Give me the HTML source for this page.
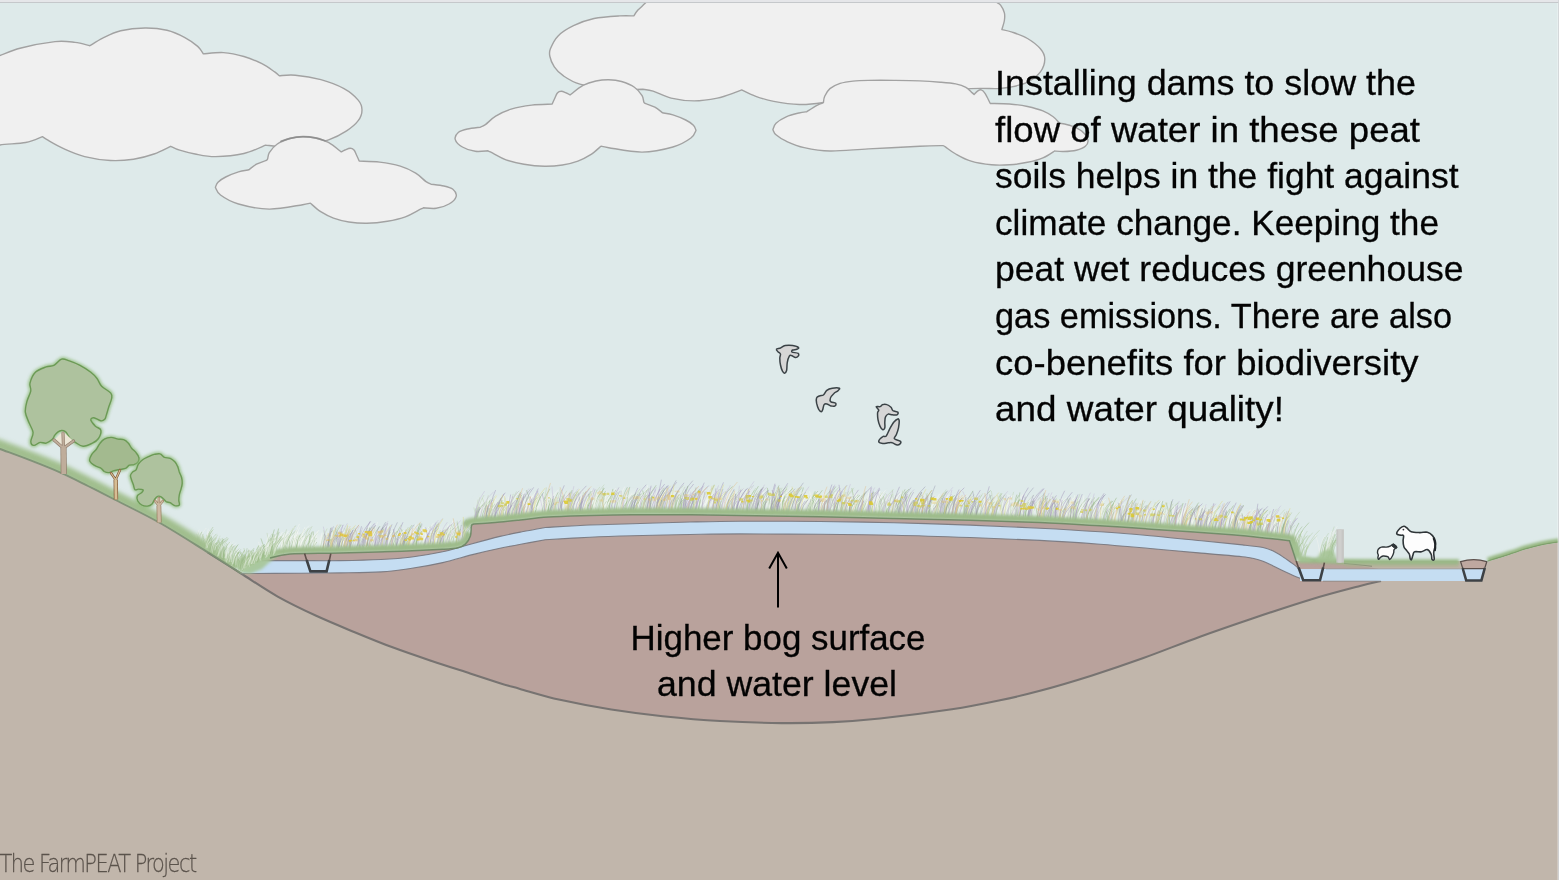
<!DOCTYPE html>
<html lang="en"><head><meta charset="utf-8"><title>The FarmPEAT Project</title>
<style>html,body{margin:0;padding:0;background:#deeaea;overflow:hidden}body{width:1559px;height:880px}</style></head>
<body>
<svg width="1559" height="880" viewBox="0 0 1559 880" style="display:block">
<rect x="0" y="0" width="1559" height="880" fill="#deeaea"/>
<path d="M-8.0 150.0C-8.0 135.0 -8.5 75.5 -8.0 60.0C-7.5 44.5 -5.5 57.5 -5.0 57.0C-0.8 56.4 10.0 51.0 20.0 48.3C30.0 45.6 45.8 42.6 55.0 41.6C64.2 40.6 69.2 41.7 75.0 42.4C80.8 43.1 87.4 45.2 89.9 45.7C92.0 44.5 97.6 40.7 102.7 38.2C107.8 35.7 113.7 32.5 120.7 30.8C127.8 29.1 137.3 28.1 145.0 28.0C152.7 27.9 160.3 28.7 167.0 30.3C173.7 31.9 179.8 34.9 184.9 37.6C190.0 40.3 194.6 43.7 197.7 46.4C200.8 49.1 202.4 52.6 203.3 53.9C206.7 53.7 216.6 52.2 223.4 52.6C230.2 53.0 237.5 54.6 243.9 56.5C250.3 58.4 256.8 61.1 261.9 63.7C267.0 66.3 271.8 69.9 274.7 71.9C277.6 73.9 278.5 75.1 279.3 75.7C282.0 75.6 288.4 74.6 295.3 75.2C302.2 75.8 312.8 77.4 320.9 79.6C329.0 81.8 337.8 85.2 344.0 88.6C350.2 92.0 355.2 96.5 358.2 100.1C361.2 103.6 362.0 106.5 362.0 109.9C362.0 113.3 360.8 117.2 358.2 120.7C355.6 124.2 351.5 127.7 346.6 130.9C341.7 134.1 335.9 137.3 328.6 139.9C321.3 142.5 310.7 145.3 303.0 146.5C295.3 147.7 288.6 147.2 282.4 147.0C276.2 146.8 268.5 145.4 265.7 145.1C262.1 146.5 252.2 151.6 243.9 153.5C235.6 155.4 223.8 156.5 215.7 156.6C207.6 156.7 201.1 155.1 195.1 154.0C189.1 152.9 183.8 151.5 179.7 150.2C175.6 148.9 172.2 147.0 170.7 146.3C167.9 147.6 160.2 151.8 154.0 154.0C147.8 156.2 140.8 158.1 133.5 159.2C126.2 160.3 118.5 160.9 110.4 160.5C102.3 160.1 92.4 158.5 84.7 156.6C77.0 154.7 70.2 151.6 64.2 148.9C58.2 146.2 52.4 142.8 48.8 140.7C45.2 138.6 43.5 137.3 42.4 136.6C39.6 137.6 32.8 141.1 25.7 142.5C18.6 143.9 5.6 143.8 0.0 145.0C-5.6 146.2 -6.7 149.2 -8.0 150.0Z" fill="#f0f0f0" stroke="#a2a2a2" stroke-width="1.4" stroke-linejoin="round"/>
<path d="M633.8 15.9C631.4 15.9 626.3 15.5 619.7 15.9C613.1 16.3 601.7 16.9 594.0 18.5C586.3 20.1 579.5 22.8 573.5 25.7C567.5 28.6 562.0 32.0 558.1 35.9C554.2 39.8 551.8 45.4 550.4 48.8C549.0 52.2 549.2 53.5 549.9 56.5C550.5 59.5 552.1 63.6 554.3 66.8C556.5 70.0 558.9 72.8 563.2 75.7C567.5 78.6 572.1 81.9 579.9 84.2C587.7 86.5 599.5 88.7 610.0 89.5C620.5 90.3 637.3 89.3 642.8 89.3C644.5 89.6 648.4 89.6 653.1 91.1C657.8 92.6 664.2 96.5 671.1 98.1C678.0 99.7 686.5 100.9 694.2 100.9C701.9 100.9 710.4 99.5 717.3 98.1C724.1 96.7 731.2 93.8 735.3 92.4C739.4 91.0 740.6 90.3 741.7 89.9C744.1 91.0 750.4 94.4 755.8 96.3C761.1 98.2 766.5 100.0 773.8 101.4C781.1 102.8 791.3 104.3 799.4 104.5C807.5 104.7 813.8 104.0 822.2 102.7C830.6 101.5 842.0 99.1 850.0 97.0C858.0 94.9 866.7 91.2 870.0 90.0C878.3 90.5 903.2 93.2 920.0 93.0C936.8 92.8 958.2 89.3 971.0 88.6C983.8 87.9 990.3 88.8 996.7 88.6C1003.1 88.4 1004.5 88.4 1009.6 87.3C1014.7 86.2 1022.4 84.8 1027.5 82.2C1032.6 79.6 1037.5 75.8 1040.4 71.9C1043.3 68.1 1044.8 63.0 1044.8 59.1C1044.8 55.2 1043.3 52.2 1040.4 48.8C1037.5 45.4 1032.2 41.3 1027.5 38.5C1022.8 35.7 1016.4 33.6 1012.1 32.1C1007.8 30.6 1003.6 29.9 1001.9 29.5C1002.3 28.0 1004.0 23.3 1004.4 20.5C1004.8 17.7 1005.0 15.4 1004.4 12.8C1003.8 10.2 1001.9 6.9 1000.6 5.1C999.3 3.3 998.5 3.6 996.7 2.1C994.9 0.6 991.1 -3.0 990.0 -4.0C958.3 -5.0 856.3 -10.0 800.0 -10.0C743.7 -10.0 676.7 -5.0 652.0 -4.0C650.9 -2.8 647.8 0.7 645.4 3.1C643.0 5.5 639.6 8.2 637.7 10.3C635.8 12.4 634.4 15.0 633.8 15.9Z" fill="#f0f0f0" stroke="#a2a2a2" stroke-width="1.4" stroke-linejoin="round"/>
<path d="M215.4 187.3C216.2 188.6 216.7 192.2 220.5 195.0C224.3 197.8 230.4 201.7 238.5 204.0C246.6 206.3 258.6 209.0 269.3 209.1C280.0 209.2 295.9 205.7 302.7 204.7C309.5 203.7 309.1 203.4 310.4 203.2C312.1 204.6 316.8 209.2 320.7 211.7C324.6 214.2 328.8 216.4 333.5 218.1C338.2 219.8 343.3 221.2 348.9 222.0C354.5 222.8 360.5 223.3 366.9 223.2C373.3 223.1 381.0 222.3 387.4 221.2C393.8 220.1 400.3 218.6 405.4 216.8C410.5 215.0 415.2 211.9 418.2 210.4C421.2 208.9 422.5 208.2 423.4 207.8C425.5 207.9 431.9 208.9 436.2 208.3C440.5 207.7 445.7 206.0 449.0 204.0C452.3 202.0 455.6 198.8 456.2 196.3C456.8 193.9 454.9 191.0 452.9 189.3C450.8 187.6 447.5 186.8 443.9 186.0C440.3 185.2 433.2 184.5 431.1 184.2C430.2 183.8 428.6 183.4 426.0 181.6C423.4 179.8 420.0 175.8 415.7 173.2C411.4 170.6 406.3 168.0 400.3 166.2C394.3 164.3 386.6 162.9 379.7 162.1C372.8 161.2 362.6 161.3 359.2 161.1C358.8 160.1 357.5 157.0 356.6 155.2C355.7 153.3 355.1 151.2 354.0 150.0C352.9 148.8 351.7 148.3 350.2 148.3C348.7 148.3 346.5 149.4 345.0 150.0C343.5 150.6 341.8 151.6 341.2 151.9C339.1 150.3 332.7 144.7 328.4 142.4C324.1 140.1 319.8 138.9 315.5 138.0C311.2 137.1 307.0 136.6 302.7 136.7C298.4 136.8 294.2 137.2 289.9 138.5C285.6 139.8 280.4 141.8 277.0 144.2C273.6 146.5 270.9 150.0 269.3 152.6C267.7 155.2 268.2 158.2 267.3 159.6C266.4 161.0 264.7 160.8 264.2 161.1C262.9 161.6 259.1 162.8 256.5 164.2C253.9 165.6 250.1 168.9 248.8 169.8C247.1 170.2 242.3 170.7 238.5 171.9C234.7 173.1 229.1 175.3 225.7 177.0C222.3 178.7 219.7 180.5 218.0 182.2C216.3 183.9 215.8 186.5 215.4 187.3Z" fill="#f0f0f0" stroke="#a2a2a2" stroke-width="1.4" stroke-linejoin="round"/>
<path d="M281.0 141.2C282.5 140.7 286.4 139.1 290.0 138.3C293.6 137.5 298.4 136.7 302.7 136.6C306.9 136.5 311.8 137.2 315.5 137.9C319.2 138.6 323.4 140.3 325.0 140.8" fill="none" stroke="#8a8a8a" stroke-width="1.7" stroke-linecap="round" opacity="0.8"/>
<path d="M215.4 187.3C216.2 188.6 216.7 192.2 220.5 195.0C224.3 197.8 230.4 201.7 238.5 204.0C246.6 206.3 258.6 209.0 269.3 209.1C280.0 209.2 295.9 205.7 302.7 204.7C309.5 203.7 309.1 203.4 310.4 203.2C312.1 204.6 316.8 209.2 320.7 211.7C324.6 214.2 328.8 216.4 333.5 218.1C338.2 219.8 343.3 221.2 348.9 222.0C354.5 222.8 360.5 223.3 366.9 223.2C373.3 223.1 381.0 222.3 387.4 221.2C393.8 220.1 400.3 218.6 405.4 216.8C410.5 215.0 415.2 211.9 418.2 210.4C421.2 208.9 422.5 208.2 423.4 207.8C425.5 207.9 431.9 208.9 436.2 208.3C440.5 207.7 445.7 206.0 449.0 204.0C452.3 202.0 455.6 198.8 456.2 196.3C456.8 193.9 454.9 191.0 452.9 189.3C450.8 187.6 447.5 186.8 443.9 186.0C440.3 185.2 433.2 184.5 431.1 184.2C430.2 183.8 428.6 183.4 426.0 181.6C423.4 179.8 420.0 175.8 415.7 173.2C411.4 170.6 406.3 168.0 400.3 166.2C394.3 164.3 386.6 162.9 379.7 162.1C372.8 161.2 362.6 161.3 359.2 161.1C358.8 160.1 357.5 157.0 356.6 155.2C355.7 153.3 355.1 151.2 354.0 150.0C352.9 148.8 351.7 148.3 350.2 148.3C348.7 148.3 346.5 149.4 345.0 150.0C343.5 150.6 341.8 151.6 341.2 151.9C339.1 150.3 332.7 144.7 328.4 142.4C324.1 140.1 319.8 138.9 315.5 138.0C311.2 137.1 307.0 136.6 302.7 136.7C298.4 136.8 294.2 137.2 289.9 138.5C285.6 139.8 280.4 141.8 277.0 144.2C273.6 146.5 270.9 150.0 269.3 152.6C267.7 155.2 268.2 158.2 267.3 159.6C266.4 161.0 264.7 160.8 264.2 161.1C262.9 161.6 259.1 162.8 256.5 164.2C253.9 165.6 250.1 168.9 248.8 169.8C247.1 170.2 242.3 170.7 238.5 171.9C234.7 173.1 229.1 175.3 225.7 177.0C222.3 178.7 219.7 180.5 218.0 182.2C216.3 183.9 215.8 186.5 215.4 187.3Z" fill="#f0f0f0" stroke="#a2a2a2" stroke-width="1.4" stroke-linejoin="round" transform="translate(911.4 -57) scale(-1 1)"/>
<path d="M772.9 129.7C773.4 128.6 773.8 125.3 776.0 123.2C778.2 121.1 782.4 118.5 786.2 116.8C790.0 115.1 795.6 113.8 799.0 113.0C802.4 112.2 805.5 111.9 806.8 111.7C808.5 110.6 814.2 106.8 817.0 105.3C819.8 103.8 822.3 103.1 823.4 102.7C823.6 101.6 823.6 98.7 824.7 96.3C825.8 93.9 827.3 90.8 829.9 88.6C832.5 86.4 836.2 84.7 840.1 83.4C844.0 82.2 848.3 81.6 853.0 81.1C857.7 80.6 861.6 80.5 868.4 80.4C875.2 80.3 885.5 80.3 894.0 80.4C902.5 80.5 912.0 80.6 919.7 80.9C927.4 81.2 934.3 81.7 940.3 82.2C946.3 82.7 951.4 83.1 955.7 83.9C960.0 84.8 963.1 85.8 965.9 87.3C968.7 88.8 970.9 91.7 972.3 92.9C973.7 94.1 973.8 94.2 974.1 94.5C974.7 93.9 976.3 91.9 977.5 91.1C978.7 90.3 980.0 89.5 981.3 89.9C982.6 90.3 983.7 91.4 985.2 93.7C986.7 96.0 989.4 101.9 990.3 103.5C993.5 103.6 1003.4 103.5 1009.6 104.0C1015.8 104.5 1022.0 105.3 1027.5 106.5C1033.0 107.7 1038.6 109.2 1042.9 110.9C1047.2 112.6 1050.4 114.8 1053.2 116.8C1056.0 118.8 1058.5 122.1 1059.6 123.2C1061.5 123.6 1067.5 124.5 1071.2 125.8C1074.9 127.1 1078.7 128.6 1081.5 130.9C1084.3 133.2 1087.3 137.3 1087.9 139.9C1088.5 142.5 1087.2 144.6 1085.3 146.3C1083.4 148.0 1079.9 149.3 1076.3 150.2C1072.7 151.1 1067.1 151.4 1063.5 151.5C1059.9 151.6 1056.0 151.1 1054.5 151.0C1052.6 152.2 1047.4 156.0 1042.9 157.9C1038.4 159.8 1033.0 161.2 1027.5 162.3C1022.0 163.5 1015.6 164.4 1009.6 164.8C1003.6 165.2 998.0 165.4 991.6 164.8C985.2 164.2 977.1 163.0 971.1 161.2C965.1 159.4 960.0 156.4 955.7 154.0C951.4 151.6 947.5 148.3 945.4 146.9C943.2 145.5 943.2 145.8 942.8 145.6C938.9 145.7 932.1 145.8 919.7 146.3C907.3 146.9 883.4 148.1 868.4 148.9C853.4 149.7 840.6 151.2 829.9 151.0C819.2 150.8 811.5 149.2 804.2 147.6C796.9 146.0 790.9 143.3 786.2 141.2C781.5 139.1 778.2 136.7 776.0 134.8C773.8 132.9 773.4 130.5 772.9 129.7Z" fill="#f0f0f0" stroke="#a2a2a2" stroke-width="1.4" stroke-linejoin="round"/>
<path d="M-20.0 441.5C-16.7 442.8 -8.3 445.9 0.0 449.0C8.3 452.1 19.7 456.2 30.0 460.2C40.3 464.2 51.9 468.8 61.6 473.1C71.3 477.4 79.0 481.5 88.0 486.0C97.0 490.5 103.5 493.8 115.5 500.0C127.5 506.2 144.6 514.3 160.0 523.0C175.4 531.7 194.3 544.0 207.8 552.4C221.3 560.8 235.6 570.0 241.2 573.5C243.5 572.2 250.2 568.6 255.0 566.0C259.8 563.4 264.2 560.0 270.0 558.0C275.8 556.0 278.3 554.9 290.0 554.0C301.7 553.1 321.4 553.4 340.0 552.9C358.6 552.4 384.5 551.9 401.6 551.3C418.7 550.7 433.3 549.9 442.7 549.3C452.1 548.7 454.2 548.6 458.0 547.7C461.8 546.8 463.2 546.1 465.3 544.1C467.4 542.1 469.4 539.0 470.4 535.9C471.4 532.8 470.9 527.7 471.4 525.7C471.9 523.7 473.1 524.4 473.5 524.1C477.9 523.8 492.2 522.8 500.0 522.1C507.8 521.4 512.0 520.9 520.0 520.0C528.0 519.1 536.3 517.8 548.0 517.0C559.7 516.2 576.0 515.9 590.0 515.5C604.0 515.1 615.3 514.8 632.0 514.7C648.7 514.6 672.0 514.7 690.0 514.8C708.0 514.9 718.3 515.2 740.0 515.5C761.7 515.8 794.3 516.3 820.0 516.8C845.7 517.3 869.0 517.9 894.0 518.5C919.0 519.1 945.7 519.6 970.0 520.3C994.3 521.0 1018.3 521.7 1040.0 522.6C1061.7 523.5 1080.8 524.7 1100.0 525.8C1119.2 526.9 1133.0 527.9 1155.0 529.4C1177.0 530.9 1212.8 533.3 1232.0 534.8C1251.2 536.3 1260.4 537.6 1270.0 538.6C1279.6 539.6 1286.2 540.4 1289.5 540.8L1296.2 561L1326 561L1345 561L1400 561L1461 561L1487.6 561.8C1489.6 561.2 1496.0 559.3 1499.7 558.1C1503.4 556.9 1507.2 555.7 1510.0 554.8C1512.8 553.9 1514.2 553.5 1516.7 552.6C1519.2 551.7 1521.4 550.7 1525.3 549.6C1529.2 548.5 1534.4 547.0 1540.0 545.8C1545.6 544.6 1552.3 543.5 1559.0 542.6C1565.7 541.7 1576.5 540.9 1580.0 540.5L1580 900L-20 900Z" fill="#c1b6ab"/>
<path d="M241.2 573.5C247.3 577.4 265.2 589.6 277.7 596.6C290.2 603.6 303.4 609.9 316.2 615.8C329.0 621.7 341.9 626.9 354.7 632.2C367.5 637.5 380.4 642.8 393.2 647.6C406.0 652.4 418.9 656.7 431.7 661.0C444.5 665.3 458.7 669.8 470.1 673.5C481.5 677.2 491.7 680.6 500.0 683.2C508.3 685.8 510.0 686.1 520.0 688.9C530.0 691.7 544.8 696.4 560.0 699.8C575.2 703.2 594.2 706.8 611.3 709.5C628.4 712.2 644.6 714.3 662.7 716.2C680.8 718.1 700.2 719.9 720.0 721.0C739.8 722.1 762.8 722.9 781.6 723.1C800.4 723.3 816.6 722.9 833.0 722.1C849.4 721.3 860.2 720.6 880.0 718.5C899.8 716.4 931.9 712.3 951.9 709.3C971.9 706.3 985.3 703.4 1000.0 700.3C1014.7 697.2 1024.8 694.9 1040.0 690.8C1055.2 686.7 1074.2 681.1 1091.3 675.7C1108.4 670.3 1124.6 664.8 1142.7 658.3C1160.8 651.8 1181.7 643.3 1200.0 636.7C1218.3 630.1 1234.1 624.7 1252.4 618.5C1270.8 612.3 1292.2 605.1 1310.1 599.7C1328.0 594.3 1348.2 589.1 1360.0 586.0C1371.8 582.9 1377.5 581.8 1381.0 581.0L1379 569L1344 563L1296.2 561L1289.5 540.8C1286.2 540.4 1279.6 539.6 1270.0 538.6C1260.4 537.6 1251.2 536.3 1232.0 534.8C1212.8 533.3 1177.0 530.9 1155.0 529.4C1133.0 527.9 1119.2 526.9 1100.0 525.8C1080.8 524.7 1061.7 523.5 1040.0 522.6C1018.3 521.7 994.3 521.0 970.0 520.3C945.7 519.6 919.0 519.1 894.0 518.5C869.0 517.9 845.7 517.3 820.0 516.8C794.3 516.3 761.7 515.8 740.0 515.5C718.3 515.2 708.0 514.9 690.0 514.8C672.0 514.7 648.7 514.6 632.0 514.7C615.3 514.8 604.0 515.1 590.0 515.5C576.0 515.9 559.7 516.2 548.0 517.0C536.3 517.8 528.0 519.1 520.0 520.0C512.0 520.9 507.8 521.4 500.0 522.1C492.2 522.8 477.9 523.8 473.5 524.1C473.1 524.4 471.9 523.7 471.4 525.7C470.9 527.7 471.4 532.8 470.4 535.9C469.4 539.0 467.4 542.1 465.3 544.1C463.2 546.1 461.8 546.8 458.0 547.7C454.2 548.6 452.1 548.7 442.7 549.3C433.3 549.9 418.7 550.7 401.6 551.3C384.5 551.9 358.6 552.4 340.0 552.9C321.4 553.4 301.7 553.1 290.0 554.0C278.3 554.9 275.8 556.0 270.0 558.0C264.2 560.0 259.8 563.4 255.0 566.0C250.2 568.6 243.5 572.2 241.2 573.5Z" fill="#b9a29c"/>
<path d="M207.8 552.4C213.4 555.9 229.5 566.1 241.2 573.5C252.8 580.9 265.2 589.6 277.7 596.6C290.2 603.6 303.4 609.9 316.2 615.8C329.0 621.7 341.9 626.9 354.7 632.2C367.5 637.5 380.4 642.8 393.2 647.6C406.0 652.4 418.9 656.7 431.7 661.0C444.5 665.3 458.7 669.8 470.1 673.5C481.5 677.2 491.7 680.6 500.0 683.2C508.3 685.8 510.0 686.1 520.0 688.9C530.0 691.7 544.8 696.4 560.0 699.8C575.2 703.2 594.2 706.8 611.3 709.5C628.4 712.2 644.6 714.3 662.7 716.2C680.8 718.1 700.2 719.9 720.0 721.0C739.8 722.1 762.8 722.9 781.6 723.1C800.4 723.3 816.6 722.9 833.0 722.1C849.4 721.3 860.2 720.6 880.0 718.5C899.8 716.4 931.9 712.3 951.9 709.3C971.9 706.3 985.3 703.4 1000.0 700.3C1014.7 697.2 1024.8 694.9 1040.0 690.8C1055.2 686.7 1074.2 681.1 1091.3 675.7C1108.4 670.3 1124.6 664.8 1142.7 658.3C1160.8 651.8 1181.7 643.3 1200.0 636.7C1218.3 630.1 1234.1 624.7 1252.4 618.5C1270.8 612.3 1292.2 605.1 1310.1 599.7C1328.0 594.3 1348.2 589.1 1360.0 586.0C1371.8 582.9 1377.5 581.8 1381.0 581.0" fill="none" stroke="#777371" stroke-width="2.1"/>
<path d="M262.0 560.6C268.3 560.6 287.0 560.6 300.0 560.6C313.0 560.6 326.5 560.8 340.0 560.6C353.5 560.4 369.0 560.1 381.0 559.5C393.0 558.9 401.6 558.3 411.9 557.0C422.2 555.7 434.1 553.6 442.7 551.8C451.2 550.0 456.4 548.1 463.2 546.2C470.0 544.3 477.6 542.2 483.7 540.6C489.8 539.0 493.6 537.9 500.0 536.4C506.4 534.9 514.5 533.3 522.0 531.8C529.5 530.3 541.3 528.2 545.2 527.5C552.7 527.1 575.5 525.6 590.0 525.0C604.5 524.4 615.7 524.3 632.4 523.8C649.1 523.3 672.1 522.4 690.0 522.0C707.9 521.6 718.3 521.3 740.0 521.2C761.7 521.1 794.3 521.2 820.0 521.5C845.7 521.8 869.0 522.2 894.0 522.8C919.0 523.4 945.7 524.2 970.0 525.1C994.3 526.0 1018.3 527.1 1040.0 528.2C1061.7 529.3 1081.7 530.5 1100.0 531.8C1118.3 533.0 1133.1 534.2 1150.0 535.7C1166.9 537.2 1185.9 539.3 1201.3 540.8C1216.7 542.3 1232.1 543.8 1242.4 544.9C1252.7 546.0 1257.9 546.5 1263.0 547.5C1268.1 548.5 1269.8 549.5 1273.2 551.1C1276.6 552.7 1280.1 555.0 1283.5 557.2C1286.9 559.4 1291.0 562.4 1293.7 564.4C1296.4 566.4 1298.5 568.6 1299.5 569.5L1301.5 578.8C1300.2 578.3 1296.7 577.0 1293.7 575.7C1290.7 574.4 1286.9 572.7 1283.5 571.1C1280.1 569.5 1276.6 567.6 1273.2 566.0C1269.8 564.4 1266.4 562.6 1263.0 561.3C1259.6 560.0 1256.1 559.1 1252.7 558.3C1249.3 557.5 1251.0 557.6 1242.4 556.7C1233.8 555.8 1216.7 554.5 1201.3 553.1C1185.9 551.7 1166.9 550.0 1150.0 548.5C1133.1 547.0 1118.3 545.6 1100.0 544.2C1081.7 542.9 1061.7 541.5 1040.0 540.4C1018.3 539.3 994.3 538.4 970.0 537.5C945.7 536.6 919.0 535.7 894.0 535.2C869.0 534.7 845.7 534.5 820.0 534.3C794.3 534.1 761.7 533.9 740.0 533.9C718.3 533.9 707.9 534.2 690.0 534.5C672.1 534.8 649.1 535.3 632.4 535.8C615.7 536.2 604.5 536.5 590.0 537.2C575.5 537.9 552.7 539.4 545.2 539.8C541.3 540.5 529.5 542.6 522.0 544.0C514.5 545.4 508.1 546.6 500.0 548.3C491.9 550.0 483.1 552.0 473.5 554.4C463.9 556.8 453.0 560.3 442.7 562.6C432.4 564.9 422.2 566.8 411.9 568.3C401.6 569.8 393.0 571.1 381.0 571.9C369.0 572.7 353.5 572.7 340.0 572.9C326.5 573.1 316.5 573.1 300.0 573.2C283.5 573.3 251.0 573.5 241.2 573.5Z" fill="#c5ddf2"/>
<path d="M262.0 560.6C268.3 560.6 287.0 560.6 300.0 560.6C313.0 560.6 326.5 560.8 340.0 560.6C353.5 560.4 369.0 560.1 381.0 559.5C393.0 558.9 401.6 558.3 411.9 557.0C422.2 555.7 434.1 553.6 442.7 551.8C451.2 550.0 456.4 548.1 463.2 546.2C470.0 544.3 477.6 542.2 483.7 540.6C489.8 539.0 493.6 537.9 500.0 536.4C506.4 534.9 514.5 533.3 522.0 531.8C529.5 530.3 541.3 528.2 545.2 527.5C552.7 527.1 575.5 525.6 590.0 525.0C604.5 524.4 615.7 524.3 632.4 523.8C649.1 523.3 672.1 522.4 690.0 522.0C707.9 521.6 718.3 521.3 740.0 521.2C761.7 521.1 794.3 521.2 820.0 521.5C845.7 521.8 869.0 522.2 894.0 522.8C919.0 523.4 945.7 524.2 970.0 525.1C994.3 526.0 1018.3 527.1 1040.0 528.2C1061.7 529.3 1081.7 530.5 1100.0 531.8C1118.3 533.0 1133.1 534.2 1150.0 535.7C1166.9 537.2 1185.9 539.3 1201.3 540.8C1216.7 542.3 1232.1 543.8 1242.4 544.9C1252.7 546.0 1257.9 546.5 1263.0 547.5C1268.1 548.5 1269.8 549.5 1273.2 551.1C1276.6 552.7 1280.1 555.0 1283.5 557.2C1286.9 559.4 1291.0 562.4 1293.7 564.4C1296.4 566.4 1298.5 568.6 1299.5 569.5" fill="none" stroke="#77757c" stroke-width="1.1" opacity="0.9"/>
<path d="M241.2 573.5C251.0 573.5 283.5 573.3 300.0 573.2C316.5 573.1 326.5 573.1 340.0 572.9C353.5 572.7 369.0 572.7 381.0 571.9C393.0 571.1 401.6 569.8 411.9 568.3C422.2 566.8 432.4 564.9 442.7 562.6C453.0 560.3 463.9 556.8 473.5 554.4C483.1 552.0 491.9 550.0 500.0 548.3C508.1 546.6 514.5 545.4 522.0 544.0C529.5 542.6 541.3 540.5 545.2 539.8C552.7 539.4 575.5 537.9 590.0 537.2C604.5 536.5 615.7 536.2 632.4 535.8C649.1 535.3 672.1 534.8 690.0 534.5C707.9 534.2 718.3 533.9 740.0 533.9C761.7 533.9 794.3 534.1 820.0 534.3C845.7 534.5 869.0 534.7 894.0 535.2C919.0 535.7 945.7 536.6 970.0 537.5C994.3 538.4 1018.3 539.3 1040.0 540.4C1061.7 541.5 1081.7 542.9 1100.0 544.2C1118.3 545.6 1133.1 547.0 1150.0 548.5C1166.9 550.0 1185.9 551.7 1201.3 553.1C1216.7 554.5 1233.8 555.8 1242.4 556.7C1251.0 557.6 1249.3 557.5 1252.7 558.3C1256.1 559.1 1259.6 560.0 1263.0 561.3C1266.4 562.6 1269.8 564.4 1273.2 566.0C1276.6 567.6 1280.1 569.5 1283.5 571.1C1286.9 572.7 1290.7 574.4 1293.7 575.7C1296.7 577.0 1300.2 578.3 1301.5 578.8" fill="none" stroke="#77757c" stroke-width="1.1" opacity="0.9"/>
<path d="M1300 569L1484.5 569L1481.4 581L1300 581Z" fill="#c5ddf2"/>
<path d="M1344 563.3L1372 566.2" stroke="#6f6a66" stroke-width="1" fill="none"/>
<path d="M1323 581.2L1381 581.2" stroke="#8c8783" stroke-width="0.8" fill="none"/>
<filter id="b1" filterUnits="userSpaceOnUse" x="-20" y="-20" width="1600" height="920"><feGaussianBlur stdDeviation="1.6"/></filter><filter id="b2" filterUnits="userSpaceOnUse" x="-20" y="-20" width="1600" height="920"><feGaussianBlur stdDeviation="0.55"/></filter><filter id="b3" filterUnits="userSpaceOnUse" x="-20" y="-20" width="1600" height="920"><feGaussianBlur stdDeviation="1.6"/></filter><filter id="b5" filterUnits="userSpaceOnUse" x="-20" y="-20" width="1600" height="920"><feGaussianBlur stdDeviation="0.65"/></filter><filter id="b6" filterUnits="userSpaceOnUse" x="-20" y="-20" width="1600" height="920"><feGaussianBlur stdDeviation="2.2"/></filter><filter id="b4" filterUnits="userSpaceOnUse" x="-20" y="-20" width="1600" height="920"><feGaussianBlur stdDeviation="3"/></filter>
<clipPath id="skyclip"><path d="M-20.0 441.5C-16.7 442.8 -8.3 445.9 0.0 449.0C8.3 452.1 19.7 456.2 30.0 460.2C40.3 464.2 51.9 468.8 61.6 473.1C71.3 477.4 79.0 481.5 88.0 486.0C97.0 490.5 103.5 493.8 115.5 500.0C127.5 506.2 144.6 514.3 160.0 523.0C175.4 531.7 194.3 544.0 207.8 552.4C221.3 560.8 235.6 570.0 241.2 573.5C243.5 572.2 250.2 568.6 255.0 566.0C259.8 563.4 264.2 560.0 270.0 558.0C275.8 556.0 278.3 554.9 290.0 554.0C301.7 553.1 321.4 553.4 340.0 552.9C358.6 552.4 384.5 551.9 401.6 551.3C418.7 550.7 433.3 549.9 442.7 549.3C452.1 548.7 454.2 548.6 458.0 547.7C461.8 546.8 463.2 546.1 465.3 544.1C467.4 542.1 469.4 539.0 470.4 535.9C471.4 532.8 470.9 527.7 471.4 525.7C471.9 523.7 473.1 524.4 473.5 524.1C477.9 523.8 492.2 522.8 500.0 522.1C507.8 521.4 512.0 520.9 520.0 520.0C528.0 519.1 536.3 517.8 548.0 517.0C559.7 516.2 576.0 515.9 590.0 515.5C604.0 515.1 615.3 514.8 632.0 514.7C648.7 514.6 672.0 514.7 690.0 514.8C708.0 514.9 718.3 515.2 740.0 515.5C761.7 515.8 794.3 516.3 820.0 516.8C845.7 517.3 869.0 517.9 894.0 518.5C919.0 519.1 945.7 519.6 970.0 520.3C994.3 521.0 1018.3 521.7 1040.0 522.6C1061.7 523.5 1080.8 524.7 1100.0 525.8C1119.2 526.9 1133.0 527.9 1155.0 529.4C1177.0 530.9 1212.8 533.3 1232.0 534.8C1251.2 536.3 1260.4 537.6 1270.0 538.6C1279.6 539.6 1286.2 540.4 1289.5 540.8L1296.2 561L1326 561L1345 561L1400 561L1461 561L1487.6 561.8C1489.6 561.2 1496.0 559.3 1499.7 558.1C1503.4 556.9 1507.2 555.7 1510.0 554.8C1512.8 553.9 1514.2 553.5 1516.7 552.6C1519.2 551.7 1521.4 550.7 1525.3 549.6C1529.2 548.5 1534.4 547.0 1540.0 545.8C1545.6 544.6 1552.3 543.5 1559.0 542.6C1565.7 541.7 1576.5 540.9 1580.0 540.5L1580 -10L-20 -10Z"/></clipPath>
<g clip-path="url(#skyclip)" opacity="0.5">
<path d="M478.0 507.0C485.0 506.5 508.3 505.0 520.0 504.0C531.7 503.0 536.3 501.8 548.0 501.0C559.7 500.2 576.0 499.9 590.0 499.5C604.0 499.1 615.3 498.8 632.0 498.7C648.7 498.6 672.0 498.7 690.0 498.8C708.0 498.9 718.3 499.2 740.0 499.5C761.7 499.8 794.3 500.3 820.0 500.8C845.7 501.3 869.0 501.9 894.0 502.5C919.0 503.1 945.7 503.6 970.0 504.3C994.3 505.0 1018.3 505.7 1040.0 506.6C1061.7 507.5 1080.8 508.7 1100.0 509.8C1119.2 510.9 1133.0 511.9 1155.0 513.4C1177.0 514.9 1212.8 517.3 1232.0 518.8C1251.2 520.3 1262.0 521.9 1270.0 522.6C1278.0 523.3 1278.3 522.9 1280.0 523.0" fill="none" stroke="#f3f5ee" stroke-width="13" filter="url(#b4)"/>
<path d="M270.0 542.0C273.3 541.7 278.3 540.5 290.0 540.0C301.7 539.5 321.4 539.4 340.0 538.9C358.6 538.4 384.5 537.9 401.6 537.3C418.7 536.7 433.3 535.9 442.7 535.3C452.1 534.7 455.9 533.9 458.0 533.7C460.1 533.5 455.5 534.0 455.0 534.0" fill="none" stroke="#f3f5ee" stroke-width="10" filter="url(#b4)"/>
</g>
<g filter="url(#b2)">
<path d="M217.4 552.2Q217.5 544.1 219.2 538.7M199.8 543.0Q198.9 539.7 199.1 537.5M224.0 559.8Q225.2 555.8 225.4 553.2M234.1 564.0Q234.1 553.4 236.3 546.3M205.5 544.6Q206.6 539.2 210.1 535.6M238.2 566.4Q237.5 559.2 237.5 554.3M240.9 568.5Q241.2 563.0 244.5 559.4M248.4 566.1Q249.8 561.2 251.6 557.9M244.1 566.3Q245.2 555.7 247.0 548.6M206.0 546.8Q206.7 543.5 208.4 541.2M253.8 561.2Q254.8 552.8 259.4 547.2M251.4 565.7Q251.5 559.0 249.5 554.5M238.7 569.9Q239.8 560.5 242.5 554.2M197.5 541.4Q197.9 537.1 197.0 534.2M204.5 544.6Q204.0 538.6 202.4 534.5M232.3 565.3Q233.8 555.9 240.6 549.6M219.7 557.3Q219.8 546.9 222.7 539.9M211.4 550.1Q211.0 542.5 210.2 537.4M220.4 556.2Q222.2 545.7 228.1 538.8M240.6 566.4Q242.9 556.4 248.8 549.7M221.9 556.3Q220.8 552.5 220.8 550.0M209.8 547.5Q209.0 541.8 209.3 538.0M202.7 544.1Q202.6 540.9 205.6 538.7M212.6 550.2Q213.9 544.4 214.2 540.5M226.8 559.8Q226.5 556.1 227.7 553.7M250.7 562.1Q250.6 559.0 253.8 556.8M231.8 560.7Q233.6 553.6 238.8 548.9M213.2 550.7Q214.5 546.4 216.7 543.5M217.8 552.8Q220.2 543.5 227.0 537.3M250.0 565.4Q249.6 560.6 252.9 557.5M197.8 540.7Q198.5 535.7 201.6 532.3M257.8 562.4Q258.3 552.0 262.8 545.0M209.0 547.2Q210.4 539.3 216.2 534.1M239.1 569.2Q240.2 565.5 241.7 563.1M245.5 566.5Q246.8 562.2 249.1 559.2M260.1 558.2Q260.6 552.1 266.0 548.0M204.4 544.1Q206.7 534.0 212.8 527.3M260.7 559.2Q260.4 553.5 264.3 549.7M260.1 559.5Q262.2 552.4 266.8 547.7" fill="none" stroke="#9dbb8a" stroke-width="0.80" stroke-linecap="round" opacity="0.50"/>
<path d="M250.5 562.5Q251.1 557.5 252.6 554.2M213.1 550.9Q213.8 546.8 216.8 544.2M234.5 566.8Q235.7 560.5 240.4 556.3M230.6 559.9Q231.0 553.4 229.7 549.1M207.4 547.5Q208.5 538.8 212.8 533.1M232.7 565.0Q232.7 561.2 235.1 558.6M247.0 565.9Q248.0 558.5 252.9 553.6M236.4 566.0Q237.5 559.0 241.6 554.4M227.6 562.6Q228.6 554.1 235.1 548.5M232.9 566.0Q233.3 556.4 235.6 550.1M200.8 542.3Q202.1 538.7 203.4 536.3M206.2 548.0Q207.6 539.8 208.5 534.4M210.5 551.9Q211.9 545.8 214.0 541.7M206.7 546.9Q206.9 539.8 209.8 535.2M243.7 565.3Q243.0 557.9 242.1 553.1M237.2 566.5Q238.8 563.0 240.6 560.7M202.9 543.7Q202.7 540.4 205.6 538.2M223.9 560.1Q225.4 550.7 227.5 544.5M233.7 565.2Q233.7 561.5 234.5 559.1M200.8 545.8Q201.0 537.8 198.1 532.5M200.4 545.2Q201.8 538.6 203.3 534.3M213.7 549.8Q213.5 542.7 216.3 537.9M199.3 541.2Q199.4 535.8 201.6 532.1M229.0 559.7Q228.2 554.0 230.0 550.2M244.4 567.5Q244.1 563.0 246.9 560.1M250.0 563.9Q251.2 557.0 256.0 552.4M241.4 571.3Q242.6 565.6 246.3 561.9M222.7 556.6Q223.1 553.1 222.3 550.8M212.9 549.4Q213.8 545.8 216.0 543.3M214.6 550.9Q215.1 545.6 217.5 542.1M213.4 553.7Q215.6 543.1 220.0 536.1M216.4 552.6Q216.7 549.6 217.9 547.6M209.3 548.8Q209.0 545.8 208.8 543.8" fill="none" stroke="#c3d6b6" stroke-width="0.70" stroke-linecap="round" opacity="0.60"/>
<path d="M198.8 539.9Q199.2 534.6 200.7 531.0M245.5 567.4Q246.7 558.8 253.3 553.1M261.0 556.6Q261.2 547.9 258.6 542.1M254.9 562.2Q256.4 553.5 262.2 547.7M229.3 563.1Q231.7 553.9 237.2 547.7M241.1 569.9Q241.0 565.1 242.0 561.9M202.9 546.6Q204.3 539.2 208.0 534.3M228.3 558.4Q229.8 549.1 235.6 543.0M239.5 565.8Q238.8 557.0 238.2 551.2M244.1 565.9Q245.6 557.2 252.7 551.3M227.6 561.3Q228.0 552.4 233.7 546.4M205.7 545.4Q205.5 536.6 209.4 530.7M200.0 541.9Q200.8 533.7 206.1 528.2M230.1 561.8Q229.8 555.2 231.9 550.7M260.6 560.7Q261.8 557.6 262.3 555.5M225.7 558.0Q226.7 553.4 230.1 550.3M205.4 546.5Q206.0 536.1 208.2 529.1M254.5 562.8Q254.5 558.0 258.9 554.8M196.2 540.7Q196.5 534.2 199.0 529.9M216.9 555.3Q216.6 552.3 219.2 550.3M257.1 561.4Q257.7 551.4 261.2 544.7M261.9 558.3Q261.6 552.4 265.0 548.6M202.7 546.4Q203.2 541.2 207.7 537.7M229.7 560.2Q231.5 554.3 235.4 550.3M237.6 568.8Q238.0 558.5 244.1 551.6M244.3 567.1Q244.7 558.2 250.6 552.3" fill="none" stroke="#f4f6f0" stroke-width="0.80" stroke-linecap="round" opacity="0.50"/>
<path d="M452.9 541.9Q454.2 532.8 457.0 526.8M463.1 539.5Q463.8 528.8 467.6 521.6M296.5 547.7Q297.1 541.0 302.6 536.5M448.7 546.7Q448.4 537.8 451.2 531.9M332.4 546.5Q333.7 539.6 335.1 534.9M416.4 545.6Q417.1 537.1 421.6 531.4M274.8 551.4Q275.8 537.9 278.5 528.9M439.7 543.5Q440.2 536.3 442.5 531.5M458.5 544.7Q458.7 532.0 457.6 523.6M446.5 544.3Q447.7 534.2 448.2 527.5M432.1 547.1Q432.4 533.5 437.1 524.5M369.6 548.5Q372.2 535.3 379.8 526.4M356.2 548.2Q357.9 543.1 360.4 539.6M395.0 546.0Q395.8 540.0 397.2 536.1M285.1 548.3Q285.8 538.8 291.3 532.5M385.8 544.8Q386.9 537.2 390.0 532.2M444.1 544.5Q445.0 537.6 446.6 533.0M325.3 546.3Q326.2 537.0 332.1 530.9M399.5 549.0Q399.6 542.1 400.8 537.6M402.6 545.2Q403.9 533.3 412.0 525.3M461.8 540.4Q463.2 528.2 466.2 520.1M322.8 551.0Q323.2 541.8 325.7 535.6M399.1 549.1Q400.6 543.0 402.1 538.9M291.2 547.2Q292.5 541.9 293.9 538.3M412.9 548.7Q415.0 535.6 418.8 526.8M415.7 543.8Q416.4 533.0 420.9 525.8M296.9 546.9Q296.8 539.5 300.2 534.7M460.6 540.4Q461.9 532.4 467.5 527.1M272.1 552.9Q273.4 544.8 279.8 539.3M446.8 542.0Q447.3 533.5 453.9 527.9M269.2 551.8Q271.0 538.7 274.2 529.9M331.8 547.4Q334.1 534.0 341.0 525.1M327.2 547.6Q328.2 542.7 331.0 539.5M456.3 541.0Q458.0 534.1 460.2 529.5M341.6 547.1Q342.0 538.4 346.6 532.7M427.3 546.7Q429.0 534.5 437.2 526.4M327.8 548.0Q328.9 536.1 330.6 528.2M312.9 546.8Q314.5 541.7 316.1 538.3M444.0 547.1Q443.9 539.9 443.3 535.1M408.2 546.2Q409.3 539.3 411.8 534.7M416.1 547.8Q416.2 537.1 419.0 529.9M378.8 546.8Q379.0 535.3 382.6 527.7M293.6 551.3Q295.4 541.3 298.0 534.7M366.5 546.4Q367.4 534.3 375.1 526.2M359.8 549.5Q358.5 537.1 355.2 528.9M286.6 548.6Q288.1 535.1 295.4 526.0M440.4 544.7Q440.8 537.5 446.2 532.8M384.8 547.8Q384.9 541.1 388.0 536.6M314.5 549.5Q313.9 538.8 313.1 531.7M401.7 545.2Q402.3 537.6 404.3 532.5M275.0 550.5Q275.3 542.1 280.3 536.6M295.7 550.4Q297.3 541.9 299.1 536.2M326.3 549.0Q328.2 541.0 330.5 535.7M336.9 547.0Q337.4 535.6 335.4 528.0M349.3 549.8Q350.1 541.3 356.9 535.7M265.1 556.4Q264.5 545.8 261.1 538.8M338.4 548.5Q339.7 542.3 340.9 538.3M284.4 550.6Q286.0 538.5 296.1 530.5M456.3 545.8Q456.4 536.6 458.2 530.5M448.3 544.8Q448.4 532.6 451.9 524.5M345.3 550.0Q345.9 537.7 349.2 529.6M368.7 547.1Q369.9 541.2 370.9 537.2M270.5 553.7Q270.2 542.1 272.8 534.4M385.5 547.5Q386.5 537.0 389.9 530.1M349.7 548.9Q349.6 540.1 347.8 534.2M362.8 546.5Q364.1 534.8 372.4 527.0M359.5 545.9Q359.1 540.0 358.2 536.0M367.1 545.4Q368.1 534.9 369.6 527.9M367.4 545.5Q367.5 536.1 371.9 529.9M438.6 547.5Q441.4 536.1 448.2 528.5M363.3 550.1Q365.0 537.0 367.3 528.3M275.5 551.7Q275.7 540.0 279.0 532.3M430.0 543.6Q431.3 534.3 438.7 528.1M366.2 546.8Q367.4 541.7 367.9 538.3M402.0 548.8Q403.1 542.4 407.2 538.2M393.1 546.3Q395.4 533.7 401.0 525.2M283.5 553.3Q284.1 542.8 288.7 535.8M466.0 538.8Q466.7 530.8 472.5 525.4M415.2 543.9Q417.1 531.7 419.8 523.6M382.7 548.1Q381.9 540.5 382.2 535.4M388.9 546.8Q390.1 537.4 397.5 531.1M396.5 544.5Q396.7 539.7 398.8 536.5M308.2 549.5Q308.8 539.4 311.6 532.7M289.8 551.7Q289.9 544.7 288.9 540.1M441.5 546.3Q441.5 537.9 440.2 532.2M377.8 546.7Q379.4 536.1 383.5 529.0M313.2 551.0Q313.3 545.8 316.4 542.3M274.0 554.1Q273.9 549.2 277.1 545.9M303.1 549.8Q303.8 540.4 309.7 534.1M325.7 547.7Q327.1 542.5 330.5 539.0M263.3 558.8Q264.5 547.3 269.7 539.6M308.5 547.1Q309.3 540.2 309.9 535.6M405.2 548.4Q405.9 537.1 409.5 529.7M424.4 545.8Q424.9 538.6 429.5 533.8M443.3 542.3Q444.7 535.2 445.9 530.4M415.7 545.2Q417.6 532.5 421.3 524.0M391.9 548.0Q394.7 537.2 402.5 530.0M405.7 548.4Q406.7 539.7 412.4 533.8M305.7 549.8Q305.7 544.3 310.8 540.6M284.0 552.8Q282.9 544.9 283.1 539.7M404.7 547.3Q404.2 536.2 401.2 528.9M336.9 550.1Q336.7 537.9 332.4 529.8M450.4 546.2Q449.8 540.5 452.3 536.6" fill="none" stroke="#93b480" stroke-width="0.80" stroke-linecap="round" opacity="0.60"/>
<path d="M436.6 546.7Q438.0 536.1 445.6 529.1M282.6 549.0Q283.2 537.4 286.5 529.6M266.3 554.3Q267.1 546.9 271.9 542.0M460.6 541.9Q459.7 529.5 457.2 521.2M351.9 549.5Q352.5 541.5 357.9 536.3M439.6 542.9Q438.7 530.7 438.1 522.6M419.0 548.3Q420.2 543.5 421.8 540.3M300.0 549.3Q302.3 541.3 306.8 536.0M320.4 547.4Q322.0 536.3 326.9 528.9M278.7 553.2Q280.2 542.1 287.8 534.7M344.7 547.8Q344.3 534.9 347.7 526.4M304.5 548.0Q306.7 535.1 312.0 526.5M310.1 548.9Q311.9 539.3 317.7 532.9M333.8 547.7Q335.3 541.5 339.2 537.3M296.9 549.0Q298.4 537.3 304.6 529.4M444.3 543.3Q445.6 536.8 447.1 532.4M293.8 547.7Q293.8 540.7 296.9 536.0M329.6 547.1Q332.6 533.5 340.1 524.4M282.9 550.3Q285.1 536.7 294.3 527.6M302.4 549.9Q301.9 544.2 304.4 540.3M344.2 549.7Q345.4 538.7 350.6 531.3M291.2 550.0Q292.4 541.5 297.8 535.9M380.2 548.6Q381.6 540.0 383.3 534.3M421.5 546.8Q423.2 534.4 430.6 526.0M326.5 549.3Q327.5 543.7 329.4 539.9M391.7 545.8Q392.5 537.2 396.4 531.5M401.1 549.0Q401.8 542.5 405.7 538.2M362.9 550.2Q364.1 545.0 366.1 541.6M455.8 543.5Q456.9 537.8 459.4 534.0M367.5 548.4Q369.9 536.1 374.9 527.9M305.3 550.1Q307.6 541.8 312.0 536.2M335.2 546.3Q334.8 539.0 333.8 534.2M348.6 549.2Q349.7 541.2 351.7 535.9M455.6 543.6Q456.2 536.8 461.3 532.3M288.6 551.2Q290.4 539.1 297.0 531.0M308.6 551.4Q310.3 543.4 314.1 538.1M358.4 546.9Q358.7 537.2 361.1 530.7M437.2 543.9Q437.2 535.7 440.3 530.3M262.6 558.6Q263.1 551.2 265.3 546.4M350.3 548.8Q352.0 538.1 355.3 530.9M273.8 554.4Q276.5 541.4 284.4 532.8M392.4 544.6Q392.9 539.7 397.1 536.4M282.9 549.1Q283.3 542.2 288.5 537.6M448.2 545.7Q450.0 539.4 454.0 535.2M399.7 548.8Q402.1 536.9 410.0 529.0M371.3 548.8Q372.5 540.0 379.2 534.2M310.2 547.3Q309.9 538.0 312.2 531.9M363.2 547.8Q363.2 538.1 359.8 531.7M358.4 548.2Q360.1 537.4 367.8 530.3M459.9 540.1Q459.5 529.6 457.0 522.6M402.6 548.9Q404.1 541.1 410.3 536.0M446.9 542.0Q449.2 530.8 454.6 523.3M337.4 548.3Q338.8 538.8 345.1 532.4M349.0 548.4Q349.8 536.2 354.0 528.0M365.8 546.6Q368.2 537.2 374.9 531.0M330.2 547.7Q331.7 540.2 335.1 535.2M270.3 554.6Q269.2 541.8 267.1 533.3M263.3 555.5Q265.6 542.4 272.1 533.7M449.4 544.7Q451.0 534.3 456.6 527.4M402.3 545.3Q402.7 534.5 408.2 527.3M299.3 547.0Q301.3 535.2 310.3 527.4M431.5 546.8Q432.1 536.9 435.2 530.3M327.6 548.3Q326.9 537.8 323.6 530.7M270.1 551.6Q271.6 539.5 277.9 531.4M264.9 555.6Q266.8 545.5 274.5 538.8M347.0 546.2Q346.7 535.6 350.6 528.6M263.0 558.2Q263.3 552.3 260.7 548.3M288.6 547.4Q288.8 536.1 292.7 528.6M272.3 554.4Q273.5 543.2 282.2 535.7M391.5 548.1Q394.1 539.2 399.9 533.2M409.7 544.0Q409.6 539.0 413.2 535.7M326.1 549.9Q326.3 543.6 331.6 539.4M337.7 548.8Q339.6 540.1 344.1 534.2M336.8 549.2Q338.5 538.7 342.2 531.7M456.7 544.8Q457.3 534.9 455.0 528.3M406.9 548.2Q408.6 540.4 412.1 535.2M385.8 546.3Q387.8 537.6 393.7 531.8M386.0 549.2Q385.1 537.1 384.0 529.1M349.0 548.6Q348.8 536.5 344.6 528.4M429.2 547.3Q430.6 537.3 433.1 530.7M403.0 548.8Q404.0 540.9 404.9 535.6M303.3 550.5Q304.6 537.3 308.1 528.5" fill="none" stroke="#b9cfac" stroke-width="0.70" stroke-linecap="round" opacity="0.60"/>
<path d="M357.9 546.5Q358.9 539.4 363.5 534.6M280.1 553.0Q281.7 541.3 284.3 533.4M444.3 544.7Q444.9 535.6 450.3 529.6M299.2 550.3Q300.3 542.2 304.4 536.9M292.7 547.2Q294.3 533.4 299.3 524.2M424.2 544.0Q424.2 533.8 428.8 527.0M268.9 556.5Q269.9 543.9 276.1 535.5M422.5 545.4Q425.6 532.1 433.2 523.2M314.3 546.7Q313.3 540.0 313.5 535.6M376.8 549.3Q377.7 540.4 385.4 534.4M385.2 546.7Q386.5 540.8 390.9 536.9M394.0 549.3Q394.4 538.5 399.3 531.2M460.9 544.2Q460.9 537.4 462.3 532.9M448.0 546.3Q448.9 533.9 450.5 525.7M395.2 549.4Q396.4 544.1 396.7 540.6M401.4 545.8Q402.7 535.7 409.5 528.9M314.9 547.1Q314.8 537.9 317.7 531.9M401.6 544.4Q402.2 533.1 400.1 525.6M307.4 551.3Q309.6 538.7 318.9 530.3M282.0 553.2Q283.4 540.9 290.5 532.6M431.6 545.2Q431.3 534.8 434.5 527.8M409.0 546.7Q409.9 540.6 414.5 536.5M294.1 548.3Q295.2 535.9 299.6 527.7M327.5 550.7Q327.9 544.9 325.2 541.0M399.7 545.4Q399.8 536.3 403.4 530.2M337.0 550.9Q335.6 537.1 331.9 527.9M446.6 542.2Q446.6 530.8 451.3 523.3M428.2 544.7Q428.5 538.6 429.3 534.6M300.3 549.0Q300.5 535.9 304.8 527.3M299.1 550.7Q298.0 539.4 297.6 532.0M387.4 547.1Q388.3 539.9 389.8 535.0M429.2 545.9Q429.3 539.3 430.7 534.8M410.7 544.1Q412.5 532.0 416.1 524.0M363.6 545.4Q364.6 532.4 370.9 523.7M300.3 550.9Q301.0 542.8 302.8 537.4M263.0 557.4Q264.4 548.5 268.2 542.7M430.2 547.2Q431.9 539.5 436.0 534.4M274.6 554.4Q276.2 541.1 282.4 532.1M372.7 545.2Q372.8 531.6 377.5 522.6M313.6 550.6Q313.2 545.5 314.8 542.1M265.6 556.3Q266.1 546.3 271.7 539.7M441.1 546.0Q441.4 540.8 442.5 537.3M319.6 547.0Q320.8 538.5 322.0 532.9M292.3 549.8Q293.9 538.3 295.8 530.6M342.1 547.9Q344.5 535.6 349.6 527.4M422.0 545.0Q423.6 538.0 425.1 533.4M427.7 547.6Q426.9 535.5 423.5 527.4M459.3 544.7Q459.8 537.7 463.0 533.0M371.3 545.4Q370.2 536.7 369.3 530.9M461.8 542.7Q464.4 529.5 470.9 520.7M444.2 542.3Q444.6 531.7 448.3 524.7M373.7 549.6Q374.4 539.3 377.6 532.3M457.9 542.2Q459.1 534.6 463.2 529.6M459.0 542.8Q459.1 535.6 463.0 530.8M287.5 548.2Q287.8 540.7 291.3 535.7M280.1 551.7Q282.1 539.4 288.4 531.1M303.4 550.3Q304.5 541.3 309.0 535.3M326.0 547.4Q326.9 540.6 330.0 536.1M264.4 555.7Q265.3 543.2 269.0 534.8M320.7 551.3Q321.0 543.8 326.7 538.8M441.5 544.6Q442.5 539.2 444.1 535.6M284.5 549.2Q286.3 535.8 295.0 526.8M334.6 549.4Q336.5 539.0 343.7 532.2M414.2 547.4Q415.9 535.8 420.7 528.0M450.4 542.1Q451.0 529.5 452.6 521.1M364.6 550.1Q366.3 540.1 369.7 533.5M387.1 546.6Q387.7 537.7 392.0 531.8M342.5 548.6Q343.9 540.4 346.1 534.8M364.9 547.5Q365.6 541.0 367.6 536.7M381.8 545.3Q383.6 532.2 387.5 523.5M459.5 541.0Q458.0 532.3 456.3 526.6M378.4 547.4Q381.5 534.3 389.0 525.6M368.6 547.7Q369.9 536.8 374.0 529.5M334.3 550.8Q333.6 539.9 331.7 532.6M344.6 548.6Q346.4 538.6 353.6 532.0M352.7 548.7Q354.6 534.9 358.9 525.8M297.2 548.4Q298.7 534.8 308.8 525.8M446.3 545.4Q448.5 533.2 458.4 525.1M294.2 548.4Q294.7 539.0 299.7 532.7M391.8 547.6Q392.5 539.6 399.7 534.3M346.8 549.7Q345.9 542.1 344.5 537.1M435.5 545.6Q436.3 534.8 439.1 527.6" fill="none" stroke="#f6f8f2" stroke-width="0.90" stroke-linecap="round" opacity="0.55"/>
<path d="M360.3 548.6Q362.3 537.8 371.1 530.6M339.5 546.7Q339.5 533.9 342.8 525.3M397.2 548.5Q395.5 537.0 393.4 529.3M433.0 544.4Q433.6 531.9 438.7 523.7M336.3 550.5Q337.1 539.3 341.5 531.8M329.9 550.6Q332.3 539.3 340.7 531.8M357.9 545.7Q361.2 531.3 370.5 521.7M439.5 544.0Q442.6 532.6 450.5 524.9M357.0 547.4Q358.6 534.9 361.4 526.6M391.8 548.5Q391.6 540.3 394.3 534.9M461.9 540.2Q462.3 529.2 464.8 521.8M380.1 545.2Q380.8 538.1 386.1 533.3M349.5 547.1Q349.5 538.9 351.1 533.5M344.4 549.3Q344.2 542.5 347.1 537.9M385.8 548.9Q387.1 535.6 389.8 526.8M376.3 549.7Q377.2 541.9 383.8 536.6M387.2 545.3Q388.3 533.0 391.9 524.7M375.0 546.2Q375.0 534.7 378.9 527.1M395.9 547.2Q397.6 538.7 402.7 533.1M403.7 545.7Q404.9 536.2 406.0 529.9M368.2 548.5Q369.1 541.5 372.7 536.8M364.8 545.6Q365.8 536.8 367.9 530.9M362.7 547.3Q365.7 533.1 374.2 523.7M341.0 547.3Q341.7 541.0 345.6 536.8M381.4 548.1Q382.0 535.8 386.0 527.6M412.6 544.7Q414.3 537.6 419.1 532.9M327.8 546.4Q328.1 538.9 330.3 533.9M327.6 547.7Q328.5 536.0 331.4 528.2M425.2 544.4Q425.7 534.5 432.5 527.9M442.1 546.2Q442.7 537.6 443.9 531.9M328.8 547.4Q330.8 540.4 334.6 535.7M429.9 543.4Q431.8 531.1 436.0 522.9M362.5 545.8Q364.4 531.2 370.0 521.6M428.4 547.1Q428.2 535.5 425.8 527.7M383.7 547.3Q383.6 533.0 387.6 523.4M423.2 547.3Q424.5 538.9 428.4 533.4M400.3 545.6Q400.3 539.0 403.4 534.7M366.7 545.9Q368.0 533.5 375.7 525.3M396.2 546.7Q398.3 532.2 402.8 522.6M342.4 548.7Q344.5 539.7 350.0 533.6M346.4 549.1Q348.3 537.7 352.6 530.1M338.5 547.4Q337.8 538.1 337.2 532.0M350.4 549.1Q350.8 539.1 353.0 532.4" fill="none" stroke="#9d8fb8" stroke-width="0.75" stroke-linecap="round" opacity="0.60"/>
<path d="M374.3 545.9Q375.0 539.2 375.4 534.8M334.1 549.6Q336.0 534.8 343.5 524.9M384.5 545.7Q385.2 534.8 386.4 527.5M412.4 548.5Q412.6 536.6 416.9 528.7M326.0 550.1Q327.4 536.5 331.6 527.5M443.8 546.8Q445.5 539.3 450.0 534.3M369.0 546.1Q370.3 532.6 374.9 523.7M375.2 549.1Q375.8 541.0 376.8 535.6M440.0 546.0Q442.7 531.8 453.5 522.4M344.7 547.3Q344.5 536.0 347.3 528.6M385.8 549.6Q385.5 542.8 387.2 538.2M426.1 543.1Q428.3 529.6 438.0 520.5M362.8 548.6Q363.8 538.0 368.3 530.9M417.9 547.6Q418.7 533.5 422.2 524.1M403.1 546.0Q403.4 538.2 405.0 533.0M461.9 543.3Q464.8 529.5 475.4 520.4M438.8 542.8Q440.6 530.7 447.0 522.6M459.2 542.5Q461.0 530.7 464.1 522.8M326.0 547.2Q325.8 535.0 323.4 527.0M375.6 547.9Q376.5 538.1 381.5 531.6M338.5 546.8Q340.9 532.8 347.2 523.5M358.5 545.9Q359.4 535.1 362.6 527.9M354.6 548.4Q354.6 541.4 358.8 536.7M380.8 545.2Q382.9 535.3 389.6 528.6M431.0 543.4Q433.9 528.5 442.4 518.6M378.4 545.8Q379.6 531.1 387.8 521.4M433.8 543.0Q433.6 534.9 432.2 529.5M352.7 547.1Q354.2 534.7 359.1 526.5M447.6 544.6Q450.6 530.3 460.3 520.8M371.2 548.9Q373.0 536.8 381.5 528.7M428.2 547.7Q427.9 535.3 430.7 526.9" fill="none" stroke="#c0b3d4" stroke-width="0.80" stroke-linecap="round" opacity="0.50"/>
<path d="M401.0 548.3Q401.9 541.3 407.6 536.6M349.8 547.9Q350.6 534.3 358.6 525.3M337.9 549.9Q339.2 542.3 342.7 537.2M376.8 545.7Q379.2 531.8 385.4 522.5M458.6 540.5Q459.9 531.4 461.3 525.3M437.3 542.7Q438.3 535.1 443.7 530.0M390.5 545.4Q392.1 531.8 397.2 522.7M332.9 547.7Q333.5 539.8 340.2 534.5M346.4 547.5Q347.5 537.3 353.1 530.5M322.9 549.2Q324.2 540.2 324.5 534.2M328.5 546.9Q329.5 534.8 333.3 526.8M359.7 548.2Q360.9 537.5 370.1 530.3M402.7 548.1Q405.2 534.2 414.0 525.0M374.3 546.4Q377.0 533.3 386.0 524.5" fill="none" stroke="#86829f" stroke-width="0.65" stroke-linecap="round" opacity="0.55"/>
<path d="M365.8 549.0Q367.0 536.4 373.3 528.0M401.3 546.3Q402.9 539.8 404.2 535.4M391.3 546.4Q391.2 538.2 394.3 532.8M323.0 550.6Q323.7 540.5 328.5 533.8M346.3 546.1Q347.2 537.4 350.0 531.5M457.0 542.5Q455.6 528.2 453.3 518.7M405.6 549.0Q407.8 539.8 413.1 533.7M331.8 548.5Q331.9 534.4 337.3 525.0M345.7 547.1Q346.0 534.8 350.0 526.5M408.8 548.3Q410.5 536.4 412.7 528.5M408.5 544.4Q410.2 531.1 420.5 522.2M349.1 548.3Q350.5 534.5 358.8 525.2M369.1 548.9Q369.9 537.1 375.0 529.2M330.3 548.2Q331.1 541.8 334.7 537.5" fill="none" stroke="#e3bf8a" stroke-width="0.80" stroke-linecap="round" opacity="0.55"/>
<path d="M408.1 545.3Q408.6 535.1 409.9 528.3M464.2 537.9Q465.2 526.4 473.1 518.7M344.5 546.5Q345.0 533.6 347.6 525.0M399.6 547.3Q400.8 536.3 407.4 529.0M428.7 544.3Q430.3 531.9 438.7 523.6M433.3 547.6Q434.9 537.6 437.3 530.8M341.0 545.9Q342.2 535.6 348.3 528.8M464.5 538.6Q463.5 525.8 463.3 517.3M330.7 548.6Q331.1 537.6 334.2 530.3M343.5 546.7Q344.9 534.1 355.3 525.6M434.0 543.9Q435.5 529.1 442.7 519.2M437.3 544.9Q439.4 535.9 445.5 530.0M331.4 549.3Q330.9 539.7 328.0 533.3M381.0 549.4Q382.5 534.9 391.0 525.3" fill="none" stroke="#dfd77f" stroke-width="0.80" stroke-linecap="round" opacity="0.55"/>
<path d="M356.4 536.2h2.7v1.9h-2.7zM358.0 532.9h2.1v1.5h-2.1zM362.4 533.5h2.3v1.6h-2.3zM422.6 529.2h3.5v2.5h-3.5zM424.0 530.2h3.0v2.1h-3.0zM456.9 533.1h3.6v2.5h-3.6zM368.3 533.6h3.8v2.7h-3.8zM370.0 532.2h2.0v1.4h-2.0zM455.0 536.3h2.0v1.4h-2.0zM455.1 536.2h2.0v1.4h-2.0zM367.0 531.2h3.6v2.5h-3.6zM368.6 531.1h3.1v2.1h-3.1zM364.6 530.9h3.0v2.1h-3.0zM397.9 534.3h2.4v1.7h-2.4zM403.7 532.1h2.8v1.9h-2.8zM398.9 533.0h2.2v1.5h-2.2zM416.8 538.4h2.9v2.0h-2.9zM419.4 538.6h2.0v1.4h-2.0zM419.4 537.7h3.7v2.6h-3.7zM350.1 539.7h1.9v1.4h-1.9zM348.8 540.0h2.6v1.8h-2.6zM352.8 539.9h1.8v1.3h-1.8zM415.5 532.3h2.6v1.8h-2.6zM420.6 533.4h2.3v1.6h-2.3zM416.5 532.8h2.6v1.8h-2.6zM343.8 534.8h3.1v2.1h-3.1zM339.5 533.6h3.8v2.6h-3.8zM420.4 532.6h2.0v1.4h-2.0zM404.5 539.3h2.4v1.7h-2.4zM408.7 538.9h2.4v1.7h-2.4zM410.6 537.3h3.3v2.3h-3.3zM440.1 532.3h3.4v2.4h-3.4zM442.3 533.8h2.5v1.8h-2.5zM437.3 534.1h2.3v1.6h-2.3zM414.1 531.6h2.2v1.6h-2.2zM408.8 536.2h3.0v2.1h-3.0zM407.3 538.1h1.9v1.4h-1.9zM427.1 535.7h2.3v1.6h-2.3z" fill="#e0c62e" opacity="0.80"/>
<path d="M342.1 534.2h3.5v2.5h-3.5zM346.0 534.5h2.4v1.7h-2.4zM368.9 531.6h2.3v1.6h-2.3zM368.2 531.7h3.4v2.4h-3.4zM392.1 535.0h2.7v1.9h-2.7zM338.7 536.1h2.1v1.5h-2.1zM337.5 534.9h2.8v2.0h-2.8zM334.6 535.1h2.5v1.7h-2.5zM370.4 539.2h3.0v2.1h-3.0zM361.9 534.9h2.7v1.9h-2.7zM364.1 535.6h2.0v1.4h-2.0zM339.8 532.3h1.9v1.3h-1.9zM337.9 531.8h3.2v2.3h-3.2zM362.9 536.2h2.3v1.6h-2.3zM364.3 535.7h3.0v2.1h-3.0zM365.2 537.4h3.0v2.1h-3.0zM326.6 539.2h2.6v1.8h-2.6zM380.4 530.3h3.0v2.1h-3.0zM378.1 531.1h3.5v2.4h-3.5zM377.7 531.1h3.6v2.5h-3.6zM384.2 534.4h2.3v1.6h-2.3zM379.7 535.2h3.7v2.6h-3.7zM380.8 535.0h2.6v1.8h-2.6zM385.5 537.7h2.8v2.0h-2.8zM436.0 535.8h3.2v2.3h-3.2zM439.0 534.3h3.2v2.2h-3.2zM381.7 535.8h2.1v1.5h-2.1zM378.4 535.0h1.8v1.3h-1.8zM456.0 531.7h3.1v2.2h-3.1zM457.2 531.5h3.6v2.5h-3.6zM418.2 536.3h3.5v2.5h-3.5zM354.1 538.7h3.7v2.6h-3.7zM411.8 533.3h2.2v1.5h-2.2z" fill="#e6bd45" opacity="0.50"/>
<path d="M1229.7 530.4Q1230.0 524.6 1232.2 520.7M938.4 514.2Q940.1 506.3 944.9 501.1M1133.6 524.0Q1136.2 514.5 1142.6 508.1M521.4 515.0Q521.0 503.9 523.8 496.4M964.1 514.1Q965.9 500.4 972.8 491.2M1027.9 518.6Q1027.7 510.5 1030.7 505.2M1228.5 528.6Q1229.7 522.3 1230.0 518.1M814.9 513.0Q815.6 505.3 822.0 500.1M520.6 516.4Q521.0 510.6 525.6 506.8M952.5 514.5Q952.7 504.0 955.5 497.1M1165.6 523.9Q1167.1 511.3 1177.9 502.9M786.3 512.5Q785.9 505.0 784.5 500.1M1072.6 519.5Q1072.5 508.0 1075.6 500.3M1233.0 532.9Q1234.3 519.0 1241.4 509.8M1090.8 520.8Q1092.2 507.0 1094.2 497.8M965.4 515.9Q966.5 509.7 967.1 505.6M1168.9 524.5Q1170.4 510.8 1171.6 501.6M757.0 513.5Q757.4 502.2 759.4 494.7M677.4 511.5Q677.7 504.5 683.1 499.8M933.6 512.9Q935.3 502.6 942.2 495.6M501.7 517.5Q502.8 511.2 506.2 507.0M764.1 510.8Q765.6 499.4 767.5 491.8M746.6 512.8Q747.3 499.6 754.1 490.7M1196.6 525.9Q1197.7 516.0 1202.6 509.5M608.8 510.8Q609.6 500.9 613.5 494.2M641.2 508.4Q643.4 500.8 648.0 495.8M486.4 520.8Q488.4 511.0 494.5 504.5M662.5 511.5Q662.0 504.7 661.4 500.2M899.9 513.1Q900.0 499.7 903.1 490.7M963.3 517.1Q964.0 505.3 965.9 497.4M1282.0 533.2Q1283.3 522.2 1290.1 514.9M1140.3 523.7Q1140.6 510.1 1142.7 500.9M808.6 510.1Q809.1 502.5 814.6 497.4M757.0 509.5Q758.5 502.3 759.5 497.5M1293.8 550.6Q1295.7 540.9 1299.4 534.5M1091.7 521.5Q1093.3 514.3 1096.6 509.6M549.9 513.5Q550.8 505.0 552.5 499.3M1086.8 518.8Q1089.8 505.9 1099.0 497.3M1158.3 526.6Q1160.0 515.9 1164.0 508.8M1189.8 526.3Q1190.8 512.3 1198.4 502.9M1270.1 535.5Q1270.8 527.9 1276.7 522.8M850.4 511.7Q852.6 501.8 859.5 495.3M796.2 513.3Q798.7 500.8 805.5 492.4M807.9 510.0Q810.1 498.8 817.7 491.3M1161.4 526.8Q1160.4 521.4 1160.2 517.7M1141.8 523.6Q1142.4 512.8 1147.7 505.6M764.8 513.1Q763.9 502.2 763.0 494.8M1050.4 518.4Q1052.6 507.0 1059.9 499.4M508.1 518.4Q508.4 511.3 510.9 506.6M658.3 512.2Q660.3 501.3 668.2 494.0M1259.7 533.1Q1259.9 518.8 1264.3 509.3M907.4 511.8Q909.3 504.8 914.0 500.2M680.2 509.5Q681.0 503.2 684.1 499.0M783.6 513.9Q783.1 500.4 779.8 491.4M839.0 515.0Q840.0 506.4 845.3 500.6M903.2 515.1Q905.8 501.5 911.1 492.5M520.8 517.1Q522.8 505.5 528.1 497.8M1206.5 529.7Q1206.2 517.5 1208.9 509.4M1257.3 534.8Q1257.3 528.1 1261.7 523.6M796.4 513.2Q796.9 502.0 800.9 494.5M921.4 514.3Q923.8 500.0 931.5 490.6M786.8 514.1Q787.8 502.3 795.5 494.4M946.8 516.9Q948.0 504.3 952.5 496.0M1195.2 526.0Q1195.1 514.0 1198.9 506.0M718.7 510.1Q721.0 496.0 732.3 486.6M1249.7 530.6Q1250.1 522.3 1254.1 516.7M797.8 511.4Q799.8 497.3 803.3 487.9M844.1 514.5Q845.2 503.4 853.2 496.0M1096.3 521.0Q1097.4 510.5 1103.9 503.6M772.2 513.6Q772.5 503.4 776.3 496.7M1108.1 519.5Q1110.6 506.7 1116.3 498.1M692.3 509.0Q693.4 503.0 696.0 499.0M813.3 513.7Q814.7 507.3 816.0 503.1M995.1 517.6Q996.8 505.2 1001.2 497.0M754.9 510.7Q756.8 498.1 760.7 489.6M911.1 514.5Q912.9 503.1 921.6 495.5M528.2 514.2Q530.1 504.3 536.9 497.7M805.8 512.4Q807.9 504.6 812.7 499.3M598.3 511.7Q600.5 499.5 605.4 491.4M1084.8 522.1Q1087.2 510.9 1094.9 503.4M1052.5 519.3Q1053.5 511.5 1054.3 506.2M698.4 509.0Q699.7 501.6 700.2 496.6M1133.3 522.8Q1133.5 511.1 1136.0 503.3M476.8 520.0Q476.5 513.3 475.8 508.9M930.1 516.4Q930.6 510.6 935.1 506.8M991.4 515.7Q993.1 507.3 996.8 501.7M645.8 511.9Q645.7 499.2 642.7 490.8M497.3 517.8Q498.2 508.6 499.3 502.5M954.8 514.9Q956.9 504.9 961.4 498.3M1292.5 546.7Q1292.8 532.7 1298.7 523.3M866.8 511.5Q868.1 502.1 873.8 495.7M754.9 509.7Q756.1 500.7 758.5 494.6M898.3 513.8Q898.9 506.6 903.7 501.8M934.5 516.0Q937.6 501.8 945.7 492.4M1067.9 520.7Q1068.5 514.7 1067.1 510.7M1067.5 520.2Q1068.5 512.4 1071.1 507.3M1289.0 535.3Q1290.1 529.5 1290.8 525.6M1135.3 523.4Q1136.2 517.1 1136.9 512.9M861.4 515.7Q864.3 502.1 872.7 493.0M579.5 509.4Q580.2 498.9 585.7 492.0M491.4 520.3Q493.6 508.5 502.7 500.6M1076.0 519.4Q1077.3 506.7 1087.1 498.3M649.9 510.7Q650.8 501.8 651.5 496.0M855.2 510.8Q854.2 497.4 851.9 488.5M987.4 518.3Q988.3 508.5 994.2 502.0M1218.6 528.8Q1218.8 522.4 1222.7 518.2M849.2 513.4Q850.0 502.3 857.6 494.9M1069.5 517.4Q1070.9 507.8 1074.3 501.4M671.1 511.0Q673.2 499.4 677.6 491.6M966.4 513.5Q967.7 506.0 973.9 501.0M1121.8 524.3Q1120.3 513.2 1118.3 505.8M1276.4 536.3Q1277.5 530.6 1277.6 526.8M654.5 511.1Q656.0 497.3 664.1 488.1M600.1 508.4Q601.1 496.2 603.2 488.0M627.7 511.8Q629.1 505.0 631.7 500.4M1205.3 530.5Q1206.9 525.1 1210.1 521.5M887.0 514.4Q885.4 503.7 883.5 496.5M922.4 513.6Q921.7 504.7 923.9 498.7M1156.0 526.5Q1155.9 517.0 1158.5 510.7M826.7 510.5Q827.6 496.3 835.5 486.9M1074.2 521.7Q1074.5 508.6 1077.5 499.9M1100.7 519.6Q1101.9 508.7 1111.4 501.5M535.6 511.9Q537.1 500.3 543.4 492.5M808.9 512.7Q811.6 501.4 819.3 493.9M1224.4 531.5Q1225.5 519.6 1226.7 511.7M828.1 514.4Q829.8 507.4 834.8 502.7M681.7 509.3Q681.3 500.8 680.2 495.1M1280.3 536.0Q1283.5 522.2 1291.3 513.0M1092.7 519.8Q1091.9 512.1 1091.2 507.0M1202.5 530.3Q1204.7 522.0 1209.3 516.4M1127.2 523.2Q1128.5 516.9 1132.6 512.7M775.8 511.8Q776.9 497.7 780.0 488.3M916.6 516.7Q919.2 507.7 925.0 501.6M547.7 511.1Q546.6 503.1 544.7 497.8M1062.4 521.7Q1063.5 514.8 1066.1 510.1M1087.2 521.9Q1087.4 514.2 1086.1 509.2M646.0 509.0Q648.3 494.9 655.9 485.6M965.4 516.7Q964.3 508.5 964.7 503.1M771.2 509.7Q772.3 503.3 774.9 499.0M698.8 511.8Q698.9 504.8 700.5 500.1M1040.8 517.9Q1041.1 505.9 1043.7 497.9M1158.1 522.8Q1159.7 509.9 1162.7 501.3M1025.3 516.5Q1025.0 511.0 1027.1 507.4M1015.9 517.7Q1015.8 506.4 1019.5 498.8M1281.8 534.8Q1282.4 523.6 1289.0 516.1M486.2 520.4Q487.9 513.8 492.5 509.5M587.7 512.5Q587.7 504.9 591.3 499.7M678.1 511.8Q678.3 503.8 682.0 498.5M633.4 508.8Q634.2 499.9 637.6 494.0M1188.9 525.0Q1189.9 513.7 1198.7 506.1M834.3 510.7Q833.0 501.2 831.4 494.8M868.2 511.8Q868.1 504.3 872.2 499.3M770.9 511.3Q769.6 497.5 767.4 488.3M1085.8 520.9Q1087.5 507.6 1098.6 498.8M1249.7 532.2Q1249.6 524.6 1252.1 519.6M542.3 511.9Q543.0 498.2 549.8 489.1M846.4 512.0Q846.7 504.7 851.6 499.9M1283.0 535.5Q1283.3 528.5 1284.2 523.8M494.1 517.9Q495.6 505.8 501.5 497.8M971.3 516.6Q972.9 509.9 976.9 505.4M1178.7 525.9Q1179.8 512.4 1183.0 503.4M1215.1 527.0Q1214.7 519.7 1216.6 514.8M631.4 511.5Q633.8 500.8 641.6 493.7M484.4 521.0Q486.1 513.5 488.6 508.5M878.5 516.1Q878.7 505.1 882.3 497.8M1295.7 554.6Q1296.9 547.2 1302.9 542.2M756.1 512.1Q757.3 506.5 758.8 502.8M474.1 520.1Q475.4 512.4 478.3 507.2M587.2 509.8Q587.7 503.3 593.5 499.0M903.3 514.6Q903.2 501.2 906.1 492.3M955.4 515.2Q957.7 506.1 963.6 500.1M1260.6 532.0Q1260.9 518.1 1257.8 508.9M559.6 509.7Q561.0 501.7 562.8 496.3M819.3 512.4Q821.5 499.4 830.3 490.7M569.8 510.4Q572.1 499.1 577.3 491.6M1265.1 532.1Q1265.5 526.0 1270.6 521.9M1042.9 517.0Q1044.0 509.5 1046.5 504.5M534.4 515.2Q536.2 504.2 540.5 496.8M481.9 518.8Q483.0 507.3 490.6 499.7M1261.9 534.7Q1262.1 527.2 1265.8 522.2M810.3 514.5Q811.0 500.9 815.2 491.9M1019.3 518.8Q1019.3 512.2 1021.6 507.8M503.3 515.4Q503.1 506.4 501.4 500.3M1248.6 532.3Q1249.3 523.7 1255.1 518.0M870.0 511.0Q871.6 499.6 873.4 491.9M1104.3 523.3Q1106.8 512.1 1112.1 504.6M635.4 511.5Q636.2 503.4 638.4 498.0M1172.4 528.0Q1172.2 517.3 1171.0 510.2M1070.5 518.6Q1071.1 512.6 1071.5 508.5M477.2 518.0Q477.5 510.2 483.1 505.0M567.9 514.0Q568.8 499.8 572.0 490.4M737.2 510.5Q736.0 500.8 735.7 494.4M607.5 508.6Q609.8 497.6 615.8 490.3M1073.1 519.1Q1073.8 509.2 1076.2 502.7M516.1 514.2Q516.7 502.5 521.8 494.8M1129.3 524.7Q1130.5 518.5 1133.4 514.3M1134.9 525.0Q1135.4 517.6 1136.7 512.6M587.6 509.5Q587.6 498.9 590.3 491.8M686.5 509.9Q686.3 499.7 683.4 492.9M655.6 509.2Q658.1 498.0 663.9 490.6M642.2 509.3Q642.5 497.9 646.6 490.3M1108.0 523.5Q1109.9 511.6 1119.5 503.7M733.3 512.0Q732.1 506.1 731.7 502.2M896.3 512.3Q898.2 498.5 908.7 489.3M572.3 511.7Q573.3 501.6 577.0 494.8M1111.4 520.1Q1111.5 514.0 1114.4 510.0M1023.5 516.2Q1025.0 507.9 1028.2 502.4M779.5 511.4Q781.3 497.6 792.5 488.5M848.6 513.6Q849.7 505.7 850.2 500.5M580.0 511.2Q580.1 500.2 578.2 492.9M1107.6 521.5Q1108.2 515.3 1106.3 511.2M516.1 514.8Q515.9 502.5 519.5 494.3M608.8 510.8Q610.1 497.9 612.8 489.3M824.0 511.6Q823.7 505.1 826.4 500.7M687.4 511.5Q690.7 498.1 699.7 489.1M970.5 514.8Q971.3 505.2 977.8 498.8M633.2 512.5Q633.8 506.1 638.6 501.9M683.7 510.1Q684.2 495.8 687.9 486.3M616.1 511.7Q617.2 503.3 618.8 497.6M1183.4 527.3Q1185.1 521.8 1187.8 518.1M1256.6 531.9Q1258.5 518.9 1267.6 510.2M782.0 510.9Q783.2 502.1 784.2 496.3M811.5 512.8Q814.5 499.5 822.1 490.5M1135.0 526.0Q1136.4 514.1 1144.5 506.1M1013.2 516.6Q1013.6 503.7 1016.8 495.0M1148.5 523.7Q1150.1 510.7 1159.9 502.0M1245.2 532.8Q1245.3 521.4 1242.0 513.7M924.3 514.5Q926.4 506.0 931.2 500.4M650.0 509.4Q649.4 501.8 651.9 496.7M1128.8 521.8Q1128.4 515.8 1130.1 511.8M853.8 512.6Q856.5 500.0 866.0 491.6M1209.5 528.6Q1212.3 515.1 1220.0 506.1M945.2 513.2Q947.0 502.6 954.4 495.4M816.3 514.1Q816.8 502.8 820.2 495.2M1262.0 534.3Q1261.7 527.8 1259.6 523.4M829.4 513.6Q830.5 504.3 831.7 498.2M1122.5 522.1Q1123.1 514.7 1128.3 509.7M1199.9 530.5Q1201.7 521.2 1204.4 515.0M639.8 509.2Q641.2 500.9 646.3 495.3M885.3 514.6Q886.7 508.0 891.7 503.5M1127.7 521.5Q1130.1 507.9 1136.2 498.9M771.3 513.6Q772.4 506.4 772.7 501.5M1214.2 531.3Q1215.3 521.3 1223.6 514.7M992.7 518.1Q993.5 508.8 998.9 502.7M819.5 512.4Q819.0 502.7 818.5 496.3M1063.3 520.6Q1063.2 513.1 1066.2 508.0M969.6 517.8Q971.0 510.6 974.3 505.8M1059.3 520.2Q1059.8 512.3 1066.1 507.1M1250.1 531.8Q1250.7 525.6 1251.5 521.5M590.8 510.8Q593.6 499.6 601.9 492.2M675.5 508.8Q675.8 501.9 679.0 497.4M607.1 509.3Q607.5 503.1 609.1 499.0M624.9 510.2Q627.6 500.9 634.1 494.6M861.5 511.7Q861.3 501.0 864.6 493.9M1050.5 521.0Q1051.0 512.0 1054.7 505.9M1041.8 517.7Q1042.0 510.9 1047.8 506.4M1172.3 527.3Q1173.3 518.7 1178.2 512.9M829.6 511.5Q832.0 501.1 837.0 494.2M593.5 510.3Q596.0 497.2 604.2 488.5M753.5 513.4Q753.8 503.1 758.7 496.2M1211.8 530.4Q1212.2 524.7 1214.2 521.0M772.8 513.5Q774.1 505.0 778.0 499.3M866.0 512.5Q866.7 503.6 872.0 497.7M778.5 511.1Q779.7 502.4 786.6 496.6M747.2 512.7Q746.2 505.9 745.2 501.3M522.9 516.7Q522.2 510.0 521.9 505.5M1076.9 521.2Q1080.3 507.6 1089.9 498.5M547.6 514.7Q549.0 505.4 550.7 499.2M791.1 509.8Q794.2 496.5 801.6 487.7M505.3 514.8Q505.8 508.3 506.5 504.0M566.3 510.2Q568.2 503.1 571.1 498.4M770.4 513.9Q770.8 504.6 775.0 498.4M1275.1 537.2Q1275.2 525.4 1278.8 517.6M762.5 512.6Q762.3 506.6 766.1 502.7M835.3 514.1Q836.7 503.5 841.1 496.5M751.0 510.7Q753.6 496.8 763.3 487.5M591.1 509.4Q591.2 500.5 588.5 494.6M1120.1 522.7Q1121.3 517.2 1124.6 513.6M942.4 516.3Q945.1 507.2 951.2 501.2M979.7 515.2Q981.0 506.4 983.1 500.6M1121.8 524.3Q1124.5 510.0 1132.4 500.5M689.6 510.9Q690.4 504.0 695.6 499.5M1232.6 528.3Q1235.3 514.5 1243.6 505.3M945.3 517.3Q945.6 506.6 950.9 499.5M1112.8 520.1Q1113.1 512.3 1114.8 507.0M1071.1 518.5Q1070.4 506.6 1067.7 498.6M1067.3 518.1Q1069.1 506.8 1071.8 499.3M1249.2 534.5Q1250.9 525.3 1255.2 519.1M849.0 514.8Q850.0 505.8 857.6 499.8M1089.8 519.0Q1090.3 507.5 1092.2 499.8M1082.6 518.5Q1084.3 507.4 1087.9 500.0M501.3 517.3Q501.5 511.2 506.8 507.0M855.9 513.0Q858.6 501.1 865.1 493.2M626.3 508.5Q627.0 495.8 629.7 487.3M750.5 509.5Q751.5 495.7 758.2 486.5M1224.2 528.4Q1226.5 514.8 1233.3 505.8M992.5 516.7Q992.8 503.6 989.7 494.9M1136.2 524.6Q1137.7 512.5 1140.6 504.4M1264.8 535.7Q1265.6 528.8 1269.8 524.3M611.9 508.8Q612.7 499.1 617.5 492.7M929.4 516.1Q929.8 505.4 932.6 498.3M1262.9 535.8Q1263.6 529.1 1267.3 524.7M924.0 513.8Q924.0 508.1 925.9 504.4M991.4 516.8Q994.4 502.9 1001.7 493.6M995.2 516.8Q997.3 503.7 1004.7 494.9M720.8 513.1Q719.3 505.5 717.9 500.4M928.7 513.4Q929.6 503.4 931.3 496.7M1036.4 520.1Q1037.5 505.8 1046.9 496.2M514.5 515.7Q514.7 501.6 520.5 492.2M815.7 514.2Q814.4 503.5 812.1 496.4M621.3 512.1Q623.3 505.7 627.3 501.5M897.8 513.2Q898.3 499.1 904.9 489.7M1156.6 527.4Q1156.9 521.0 1161.6 516.8M773.4 512.4Q776.4 498.4 787.3 489.0M1011.1 515.5Q1013.4 503.5 1018.6 495.6M683.7 508.5Q684.7 501.7 685.7 497.1M605.5 510.7Q607.0 500.1 612.2 493.1M486.4 516.4Q486.6 507.2 489.8 501.1M1151.3 523.4Q1151.7 517.1 1154.8 513.0M1102.9 520.1Q1104.9 508.7 1112.8 501.1M1233.2 530.9Q1232.8 523.9 1232.6 519.2M547.0 513.3Q548.7 504.1 550.9 498.0M674.9 508.5Q676.0 500.4 678.4 495.0M826.5 510.8Q827.1 505.0 828.1 501.1M602.7 511.4Q602.6 505.5 606.2 501.5M1084.3 521.5Q1084.8 511.6 1087.4 504.9M1017.5 515.3Q1017.8 501.8 1019.8 492.8M637.1 508.1Q638.9 496.6 648.6 488.8M1025.3 516.2Q1025.9 507.2 1032.0 501.2M531.9 514.4Q530.9 500.1 526.6 490.6M875.5 512.0Q876.4 500.6 882.1 493.0M1241.7 532.8Q1241.5 523.2 1244.4 516.7M1037.7 519.0Q1037.3 508.4 1033.5 501.3M1132.3 521.5Q1133.1 513.2 1134.1 507.6M760.0 512.3Q762.3 503.6 766.6 497.8M834.0 510.1Q835.2 503.9 838.8 499.8M601.7 512.6Q602.7 500.8 604.8 492.9M477.0 517.0Q478.2 508.5 484.7 502.7M1221.1 531.0Q1223.1 517.8 1229.8 509.0M1253.1 532.7Q1253.7 525.6 1257.4 520.8M781.2 511.7Q781.9 501.0 784.9 493.9M888.2 513.5Q888.5 502.1 891.9 494.5M1107.0 522.8Q1109.3 510.3 1114.4 502.1M893.9 513.4Q895.3 505.4 897.9 500.0M870.7 514.6Q871.1 507.3 874.7 502.4M769.5 512.8Q770.9 500.8 773.6 492.8M1012.1 518.1Q1012.9 506.9 1020.4 499.5M770.4 509.2Q773.1 495.1 778.9 485.7M1135.2 522.3Q1136.1 513.8 1137.4 508.2M874.9 512.9Q876.5 505.1 879.3 499.9M1171.7 527.9Q1173.7 518.6 1176.6 512.3M624.7 508.6Q625.9 500.7 632.1 495.4M1174.1 528.2Q1174.4 518.9 1177.1 512.8M572.1 513.7Q572.5 504.3 576.8 498.1M490.6 517.8Q491.5 508.9 492.2 503.1M747.7 512.0Q747.8 501.0 746.3 493.7M976.2 515.0Q977.0 507.8 982.6 503.0M955.7 515.8Q956.3 507.5 957.3 502.0M968.8 515.8Q969.1 509.3 971.0 505.0M772.6 513.5Q774.5 507.1 778.9 502.8M674.2 510.7Q675.2 501.9 676.0 496.1M695.3 511.8Q694.3 502.0 691.4 495.6M661.3 510.9Q663.2 498.5 672.0 490.2M1131.3 521.4Q1133.5 513.6 1137.5 508.5M548.8 512.3Q547.8 505.0 548.3 500.1M777.3 511.3Q778.1 501.3 781.3 494.7M1281.1 533.7Q1282.9 523.7 1286.8 517.0M646.2 512.1Q647.1 503.5 650.1 497.7M707.4 508.5Q709.1 494.5 714.1 485.1M911.3 513.5Q912.6 505.2 918.6 499.6M1260.6 532.5Q1261.4 523.4 1263.3 517.4M840.9 512.3Q842.8 504.8 847.1 499.8M782.2 512.9Q783.0 507.2 784.2 503.4M1029.4 517.7Q1030.4 508.1 1032.6 501.7M1044.3 517.1Q1044.3 505.9 1047.5 498.5M892.8 513.0Q893.6 502.7 895.7 495.8M584.8 510.2Q586.8 498.7 591.9 491.1M943.8 513.8Q945.9 504.4 951.8 498.2M773.2 511.3Q774.8 497.2 785.3 487.7M976.9 513.7Q979.2 499.9 990.4 490.7M1169.3 524.3Q1169.4 511.4 1166.2 502.9M835.7 514.3Q836.5 502.7 842.8 495.0M1212.6 528.1Q1211.6 522.5 1211.6 518.7M987.1 514.5Q988.5 507.6 989.9 503.1M1218.2 531.2Q1219.3 516.9 1225.9 507.3M1235.6 532.2Q1236.1 520.2 1233.9 512.2M927.9 515.4Q928.6 502.2 931.6 493.4M1120.1 522.4Q1122.0 515.2 1127.1 510.4M1157.3 523.8Q1157.9 512.1 1163.1 504.4M1258.2 532.3Q1258.3 522.3 1255.9 515.6M1086.5 522.5Q1087.6 513.8 1089.4 508.1M1014.9 516.8Q1015.4 506.7 1017.9 499.9M890.6 515.4Q892.3 508.2 896.1 503.4M551.6 511.3Q553.0 500.1 557.9 492.7M653.0 509.9Q654.6 504.5 657.5 500.9M927.9 515.3Q928.0 504.3 930.9 496.9M1183.2 528.3Q1185.5 516.8 1192.9 509.1M1257.2 531.3Q1257.1 525.0 1260.4 520.8M655.8 512.1Q656.5 503.2 658.4 497.3M630.1 510.1Q631.9 499.9 635.6 493.0M487.7 520.7Q488.2 513.5 489.2 508.7M916.2 513.1Q916.7 500.7 921.4 492.4M944.9 515.9Q944.8 507.2 942.9 501.4M1042.2 516.5Q1044.5 506.1 1050.3 499.2M1189.5 525.1Q1189.0 517.4 1191.3 512.3M876.3 512.3Q877.7 504.2 880.7 498.8M1068.1 517.7Q1067.5 510.3 1069.4 505.3M1047.1 519.9Q1047.2 505.5 1045.1 495.9M812.5 514.3Q813.0 505.4 810.9 499.4M895.0 513.7Q896.4 504.4 902.5 498.2M620.5 510.0Q621.9 496.5 627.2 487.6" fill="none" stroke="#93b480" stroke-width="0.80" stroke-linecap="round" opacity="0.60"/>
<path d="M853.2 513.4Q853.4 505.8 858.0 500.8M777.3 513.5Q778.0 499.3 779.8 489.8M1167.0 525.6Q1168.0 519.0 1169.8 514.6M642.2 510.9Q641.4 499.6 638.9 492.1M741.1 511.5Q741.2 503.1 743.4 497.5M1123.9 521.9Q1126.1 511.6 1132.6 504.7M530.0 516.6Q530.2 511.0 534.3 507.2M798.7 512.0Q798.7 502.8 801.1 496.7M1269.1 533.4Q1269.4 524.1 1272.4 517.9M1005.2 518.6Q1005.9 509.7 1012.3 503.7M508.7 516.4Q510.1 503.2 513.1 494.3M701.0 508.7Q702.9 498.6 706.3 491.9M669.7 510.6Q670.9 501.4 671.5 495.3M722.9 511.2Q722.6 499.4 725.5 491.5M721.9 511.8Q722.3 506.3 724.5 502.5M487.0 516.8Q486.2 509.4 486.3 504.5M899.5 512.3Q900.3 499.5 906.1 491.0M1164.1 523.3Q1164.6 511.2 1167.1 503.1M965.3 517.5Q965.7 511.2 966.6 507.0M1066.7 518.4Q1066.9 508.5 1069.9 502.0M955.4 514.5Q955.6 506.6 953.2 501.3M881.5 512.4Q882.7 505.9 885.3 501.6M781.3 511.2Q783.2 497.8 786.6 488.8M1288.0 538.3Q1288.7 530.6 1294.5 525.5M1294.0 550.5Q1294.0 537.8 1290.8 529.3M618.2 509.3Q619.4 498.3 621.8 491.0M552.9 513.1Q554.0 506.8 556.5 502.6M509.4 515.1Q510.6 501.0 516.4 491.7M1046.3 519.6Q1047.4 508.4 1051.9 500.9M628.5 512.5Q630.7 498.4 639.9 489.0M1163.7 524.2Q1166.3 512.1 1173.0 504.1M1196.8 526.7Q1197.9 514.2 1203.8 505.9M1130.7 525.0Q1131.9 512.0 1140.1 503.4M940.9 513.7Q941.7 505.2 943.0 499.6M657.8 512.0Q658.8 503.6 665.1 498.0M798.5 509.5Q798.9 500.2 796.7 494.0M782.4 509.2Q782.4 495.1 787.4 485.8M555.8 513.3Q556.6 502.6 562.1 495.5M1271.4 533.6Q1274.7 519.3 1284.4 509.8M491.3 519.3Q493.8 506.6 500.8 498.2M600.9 511.0Q602.1 503.2 604.8 498.0M945.1 516.6Q947.2 505.6 952.5 498.2M939.9 514.2Q940.8 500.5 946.4 491.3M1054.6 521.0Q1056.8 509.8 1062.7 502.4M840.2 512.6Q841.5 500.3 845.4 492.2M1139.0 522.6Q1140.3 511.0 1149.5 503.3M879.2 512.8Q882.6 498.9 893.2 489.6M993.3 514.9Q992.8 500.8 991.5 491.4M488.7 518.4Q491.1 509.3 497.4 503.2M1115.0 522.7Q1115.4 515.2 1118.1 510.1M1004.7 517.0Q1005.2 508.7 1010.3 503.1M749.9 508.7Q750.8 502.5 751.2 498.3M1047.5 520.8Q1048.2 507.9 1056.0 499.3M789.3 510.6Q789.5 499.6 791.7 492.3M878.4 513.2Q879.6 506.8 883.3 502.6M569.2 512.2Q570.9 499.0 582.3 490.2M1196.1 528.6Q1198.4 520.7 1203.5 515.5M677.5 510.7Q678.4 501.9 681.1 496.0M746.8 511.3Q748.6 497.6 755.5 488.4M1289.6 534.2Q1291.7 524.7 1295.6 518.3M986.4 516.2Q988.6 505.1 993.1 497.7M485.4 517.8Q485.1 504.5 488.3 495.7M1006.8 518.5Q1007.9 511.0 1010.5 505.9M908.7 514.9Q910.3 506.5 914.1 501.0M1256.3 531.5Q1257.9 521.4 1261.2 514.7M617.8 510.8Q616.4 498.4 613.2 490.2M879.3 515.8Q880.6 509.0 885.3 504.4M1236.8 528.6Q1236.9 520.2 1239.3 514.7M1050.0 519.0Q1050.4 512.5 1055.4 508.2M1148.4 526.1Q1149.3 518.7 1155.4 513.8M474.8 521.3Q476.0 508.5 478.0 499.9M994.9 518.3Q997.0 504.0 1001.2 494.5M731.7 511.8Q733.3 500.2 741.8 492.5M680.9 510.5Q681.5 503.9 686.7 499.5M1047.1 519.3Q1047.8 512.8 1052.4 508.5M554.7 511.2Q555.4 498.8 561.6 490.6M561.6 511.3Q561.7 497.9 559.9 489.1M549.1 513.3Q550.3 507.1 551.4 503.0M810.4 511.9Q811.4 506.2 812.9 502.4M1061.1 520.6Q1062.4 510.5 1068.7 503.7M714.8 509.6Q715.2 497.5 719.0 489.5M1184.2 527.6Q1186.0 517.9 1188.9 511.4M843.6 513.2Q843.8 500.0 848.6 491.2M886.6 515.2Q887.3 508.4 890.2 503.8M788.3 513.5Q789.9 500.1 794.8 491.1M1082.6 522.5Q1083.2 511.1 1087.4 503.6M840.6 512.6Q843.1 499.0 853.2 489.9M1266.7 532.0Q1268.5 518.3 1276.3 509.2M1288.5 533.8Q1291.4 520.8 1299.6 512.1M649.6 511.5Q651.2 501.9 654.5 495.5M1074.8 517.9Q1075.7 503.7 1079.8 494.2M947.9 517.2Q949.0 503.3 957.5 494.1M530.6 514.5Q531.5 503.8 536.3 496.7M762.5 511.0Q763.9 504.0 769.1 499.4M824.0 511.1Q825.9 502.9 828.8 497.4M936.8 513.5Q937.8 507.7 938.6 503.7M1204.9 527.1Q1206.3 514.7 1211.6 506.4M509.0 514.5Q511.5 503.1 517.4 495.5M1148.0 523.5Q1148.2 517.4 1151.8 513.4M510.0 516.5Q510.5 510.8 514.5 507.0M840.4 511.4Q840.7 504.4 842.6 499.6M1062.1 518.5Q1063.6 505.9 1070.5 497.4M935.8 513.4Q938.1 499.3 946.1 489.8M556.3 511.4Q555.7 503.9 553.7 498.9M1188.0 528.6Q1189.4 516.8 1192.9 508.8M719.5 511.8Q721.5 503.3 726.3 497.6M1284.2 535.1Q1283.8 520.8 1286.7 511.3M922.2 514.1Q923.8 501.8 927.5 493.6M926.4 516.0Q926.2 506.2 928.3 499.7M861.8 510.8Q863.2 503.0 867.4 497.9M838.3 513.9Q839.3 502.5 842.2 494.9M1073.1 518.4Q1072.5 510.2 1071.6 504.7M1073.7 520.3Q1075.3 513.3 1079.1 508.7M595.4 508.9Q597.1 501.2 600.0 496.1M1245.3 530.6Q1246.7 518.4 1254.4 510.3M1254.5 534.8Q1254.4 529.3 1257.0 525.6M827.7 514.5Q827.7 508.9 832.5 505.1M1213.5 527.9Q1213.2 520.6 1215.5 515.7M621.7 509.1Q622.9 498.5 627.4 491.5M1110.3 523.1Q1112.0 514.6 1118.2 508.9M864.9 512.5Q865.3 505.9 870.9 501.5M1234.8 532.5Q1235.7 526.8 1239.1 523.0M1159.7 524.5Q1161.4 514.6 1166.8 508.0M823.5 514.8Q822.7 507.7 821.4 503.0M570.8 509.9Q570.6 499.8 573.9 493.0M986.1 518.1Q986.5 511.6 988.4 507.2M1240.2 530.3Q1242.9 521.3 1248.9 515.3M1206.4 527.0Q1209.1 516.7 1216.2 509.8M1110.4 523.2Q1110.1 512.4 1113.1 505.2M1118.1 523.6Q1119.8 515.3 1124.2 509.8M509.6 518.8Q511.7 509.9 517.0 504.0M721.5 511.0Q722.0 505.3 720.3 501.6M1030.7 517.4Q1032.6 503.3 1044.3 493.8M1052.8 519.9Q1053.0 509.1 1054.7 501.8M963.1 517.2Q962.9 509.3 964.6 504.1M507.8 515.0Q509.3 500.6 519.0 491.0M1211.9 529.7Q1213.4 519.1 1214.9 512.0M476.7 519.0Q478.8 513.0 482.6 509.1M1165.5 526.8Q1166.3 521.0 1169.8 517.2M593.4 511.0Q593.9 498.4 596.8 490.0M692.8 509.0Q694.9 499.5 699.5 493.1M894.4 514.1Q893.7 499.8 892.4 490.2M731.4 509.0Q731.8 499.8 733.2 493.7M1196.4 528.8Q1198.7 516.8 1205.9 508.8M643.4 510.5Q644.8 499.7 652.1 492.6M1151.6 526.2Q1151.5 512.0 1155.3 502.5M1068.9 520.9Q1070.9 509.6 1078.1 502.1M1231.1 531.0Q1233.1 519.7 1238.5 512.1M944.7 513.3Q945.7 504.1 949.4 498.0M771.3 511.0Q771.4 501.7 775.7 495.6M487.9 519.6Q488.6 510.7 492.8 504.7M670.6 507.8Q673.1 494.6 683.2 485.7M740.2 508.8Q742.0 495.4 751.8 486.4M1047.9 520.0Q1049.4 510.4 1052.6 504.0M1183.8 528.7Q1185.1 522.3 1188.1 518.0M851.5 511.2Q851.7 505.3 849.6 501.3M1021.2 517.3Q1022.9 503.9 1033.8 495.0M957.8 515.1Q958.5 507.5 965.0 502.4M662.2 509.5Q663.7 498.9 666.8 491.9M623.4 511.5Q624.7 503.1 631.4 497.5M972.2 513.9Q973.1 504.8 978.4 498.8M501.9 515.5Q502.8 505.1 505.1 498.1M1214.4 529.1Q1216.0 521.4 1219.4 516.3M602.3 509.6Q603.4 500.2 610.9 494.0M582.3 509.8Q582.9 501.5 586.4 495.9M864.5 512.8Q867.6 500.4 875.9 492.2M680.0 512.7Q681.1 502.5 687.5 495.8M585.1 513.1Q586.4 504.5 591.6 498.7M644.0 508.6Q644.3 500.2 650.2 494.6M1058.3 518.7Q1059.4 512.7 1060.6 508.7M926.1 513.9Q926.4 506.3 929.2 501.2M1123.9 524.3Q1125.3 512.6 1134.5 504.8M510.6 514.8Q511.7 507.1 515.3 501.9M827.2 511.2Q828.6 496.9 838.5 487.5M1281.1 534.1Q1281.5 521.1 1284.6 512.4M1204.7 527.4Q1206.1 521.1 1206.8 516.9M1002.5 517.8Q1003.2 509.8 1001.3 504.5M509.7 517.1Q511.1 508.6 512.4 502.9M677.6 508.6Q678.6 497.5 685.6 490.2M1192.6 525.6Q1193.0 518.6 1195.1 514.0M929.1 516.0Q929.1 502.5 926.1 493.6M489.2 517.5Q489.3 510.8 493.6 506.4M716.0 512.4Q717.1 500.8 718.9 493.1M809.8 510.4Q810.1 499.1 814.7 491.5M804.8 510.2Q805.8 501.3 810.4 495.4M1131.7 521.3Q1134.2 512.9 1139.6 507.4M1103.1 521.7Q1104.2 509.2 1111.1 500.9M554.1 514.2Q554.1 505.9 558.3 500.3M1054.2 520.3Q1055.7 507.8 1065.5 499.4M1100.0 522.3Q1101.5 513.5 1104.0 507.7M852.6 514.6Q853.9 506.2 856.3 500.5M1199.6 527.3Q1201.3 515.7 1205.5 507.9M930.4 514.2Q931.5 506.3 937.5 501.1M543.6 511.4Q544.2 497.4 546.4 488.0M929.4 515.0Q929.8 505.9 927.1 499.9M558.6 510.3Q560.6 498.9 566.6 491.2M1239.0 528.8Q1238.7 523.3 1241.0 519.6M910.7 515.7Q912.0 508.9 914.8 504.4M801.1 511.9Q803.0 504.0 808.8 498.7M724.0 511.9Q726.4 502.2 732.2 495.6M1036.8 517.7Q1039.5 507.3 1045.5 500.3M479.9 521.1Q480.6 509.3 486.7 501.4M751.5 512.3Q753.1 499.4 757.7 490.9M511.2 514.5Q511.5 508.4 515.1 504.4M841.9 510.7Q844.2 497.1 853.7 488.1M727.5 511.3Q729.6 502.8 735.9 497.1M1153.0 522.6Q1153.4 516.1 1155.9 511.8M1284.6 537.4Q1284.6 523.4 1289.5 514.0M699.0 508.2Q699.9 498.1 703.2 491.3M965.0 514.7Q966.7 502.7 973.9 494.7M855.3 512.0Q855.3 506.3 858.5 502.4M1180.9 528.6Q1182.5 515.5 1192.0 506.8M696.9 511.6Q696.3 497.3 695.4 487.8M761.1 511.8Q763.0 505.4 766.7 501.1M744.6 510.1Q746.7 503.1 751.4 498.5M525.8 515.1Q527.4 503.1 537.7 495.1M780.8 514.2Q781.8 503.9 790.7 497.1M1251.8 531.1Q1253.6 520.7 1256.7 513.7M1252.3 534.2Q1251.7 526.5 1249.7 521.4M1250.1 530.9Q1251.6 522.2 1255.7 516.4M1010.4 515.1Q1010.7 501.4 1013.5 492.3M592.0 508.9Q595.0 494.5 604.0 484.9M1271.2 536.4Q1272.9 526.2 1275.2 519.4M1074.3 520.8Q1076.3 507.8 1080.9 499.1M637.7 512.0Q637.7 506.4 641.1 502.6M1231.9 530.0Q1232.5 522.9 1235.5 518.2M476.4 517.3Q477.7 505.5 479.7 497.6M1182.3 528.7Q1182.7 521.7 1183.4 517.1M773.6 509.1Q775.3 499.9 777.0 493.7M646.1 508.1Q646.6 496.4 649.1 488.7M1284.6 534.9Q1285.3 526.6 1289.2 521.1M1049.6 517.7Q1050.7 505.2 1053.7 496.8M846.3 515.0Q847.0 508.6 851.3 504.4M579.5 511.9Q581.2 499.7 586.3 491.6M974.9 515.6Q976.5 508.5 978.8 503.8M1291.7 543.3Q1292.8 535.0 1294.7 529.4M677.7 511.2Q679.0 496.8 684.8 487.2M1010.1 519.0Q1009.9 511.7 1013.4 506.9M725.7 510.7Q727.7 498.6 734.1 490.5M475.2 517.3Q475.1 511.6 474.0 507.8M994.0 515.1Q995.0 502.0 1000.7 493.3M983.6 516.5Q982.6 508.7 981.1 503.5M737.6 512.9Q738.2 503.0 739.6 496.4M1138.8 521.9Q1139.9 509.5 1145.0 501.2M834.4 515.1Q837.3 501.4 847.1 492.3M590.3 508.7Q591.8 495.8 599.7 487.2M693.6 512.5Q693.6 502.3 695.4 495.5M529.6 516.9Q528.5 503.3 525.0 494.3M565.7 513.0Q567.1 500.3 576.2 491.9M485.0 516.7Q486.7 503.7 496.1 495.1M1178.4 524.6Q1178.5 516.3 1179.8 510.8M1107.9 523.3Q1110.8 512.7 1118.4 505.6M1265.9 531.6Q1266.4 519.4 1270.2 511.3M1286.6 533.8Q1287.1 524.5 1289.1 518.2M1051.0 518.8Q1052.5 506.5 1056.5 498.3M1051.6 520.7Q1053.1 512.5 1058.7 507.0M809.5 512.5Q809.0 506.4 811.0 502.3M514.1 517.2Q516.1 505.2 522.2 497.2M1152.8 525.4Q1153.3 517.9 1157.6 512.9M596.1 512.7Q597.7 501.6 606.6 494.2M892.7 511.8Q894.5 503.6 897.7 498.2M948.6 516.0Q949.4 505.3 957.4 498.2M1280.0 536.7Q1280.6 530.1 1281.7 525.8M581.7 508.9Q581.8 499.0 583.4 492.5M642.7 507.7Q643.1 500.0 645.5 494.8M769.8 510.6Q770.8 505.0 774.6 501.3M476.3 518.1Q478.4 504.5 483.7 495.5M1206.8 526.6Q1207.7 516.7 1213.1 510.1M982.2 517.1Q982.8 506.0 989.8 498.6M487.3 520.2Q486.8 507.1 482.4 498.3M615.2 509.8Q617.2 502.5 621.6 497.7M787.6 514.0Q788.0 506.2 792.6 501.1M787.8 509.8Q788.1 497.2 791.8 488.8M1000.3 517.5Q1001.5 507.4 1009.2 500.6M913.5 512.8Q913.0 505.2 912.6 500.2M1202.7 529.0Q1203.2 522.8 1204.8 518.7M495.9 515.9Q495.9 505.4 493.1 498.4M671.6 510.7Q672.3 500.5 676.1 493.8M821.9 512.5Q824.5 499.6 834.7 490.9M1063.3 520.0Q1065.4 506.0 1076.9 496.6M941.3 514.8Q942.9 507.3 947.4 502.3M876.2 513.2Q879.0 501.5 885.3 493.6M1131.6 522.2Q1132.8 510.8 1138.2 503.1M767.8 509.1Q768.2 499.5 773.7 493.0M871.9 511.3Q872.6 504.4 875.6 499.8M909.8 513.8Q910.9 507.2 911.0 502.8M705.2 509.8Q707.1 501.5 711.7 496.0M478.3 517.4Q478.8 510.1 481.7 505.3M1267.8 533.6Q1270.0 523.0 1278.1 515.9M1154.8 524.1Q1156.1 518.3 1160.3 514.5M528.8 515.8Q530.8 507.0 534.9 501.2M777.2 510.5Q778.1 497.0 781.9 488.1M1280.3 533.3Q1279.6 526.0 1277.8 521.2M1117.7 523.5Q1118.1 511.0 1121.0 502.6M1143.3 524.0Q1144.1 510.6 1150.8 501.6M882.1 511.5Q884.1 504.6 888.3 500.0M598.0 510.7Q599.3 501.1 600.5 494.7M1068.8 519.7Q1070.9 508.8 1078.4 501.5M515.4 517.8Q515.9 511.0 517.9 506.4M952.9 515.2Q953.5 505.6 955.6 499.1M728.0 512.5Q729.7 498.6 740.9 489.4M793.4 511.6Q793.9 503.9 799.5 498.8M890.1 516.2Q891.4 502.8 897.3 493.9M899.5 515.6Q899.0 508.5 902.3 503.8M976.3 514.0Q977.0 501.8 982.6 493.7M1195.3 526.4Q1194.9 520.5 1194.7 516.6M1273.0 533.7Q1273.5 521.9 1275.3 514.0M554.6 512.7Q555.8 503.3 558.7 497.0M572.9 509.6Q574.3 503.8 575.2 499.9M1270.3 536.0Q1271.3 529.4 1275.7 525.1M1292.5 545.7Q1293.1 539.2 1294.7 534.9M987.0 518.1Q986.8 512.7 988.0 509.0M691.2 512.2Q692.4 505.7 696.5 501.5M974.2 513.5Q975.7 502.6 981.5 495.4M567.6 510.4Q567.7 499.1 570.3 491.6M1128.6 523.4Q1129.8 514.8 1137.0 509.1M938.8 516.8Q940.7 508.1 943.4 502.3M998.9 515.2Q1000.2 504.5 1003.5 497.4M490.6 518.3Q491.7 510.1 496.1 504.6M991.7 515.5Q992.0 507.8 996.2 502.6M1102.9 521.5Q1104.3 512.9 1106.1 507.2M1245.2 530.4Q1245.5 524.3 1243.5 520.3M1032.2 517.0Q1033.3 507.7 1039.1 501.4M1120.8 523.6Q1120.8 512.9 1123.5 505.8M499.9 518.3Q502.7 507.8 509.7 500.7M859.4 513.3Q860.3 505.4 863.8 500.1M475.8 518.7Q476.7 511.5 480.7 506.7M1236.1 532.0Q1236.5 525.8 1237.3 521.7" fill="none" stroke="#b9cfac" stroke-width="0.70" stroke-linecap="round" opacity="0.60"/>
<path d="M1010.3 517.1Q1011.1 511.4 1013.4 507.6M510.3 514.6Q512.4 501.1 518.7 492.1M1234.1 532.3Q1233.3 521.1 1230.4 513.7M1140.1 523.1Q1140.3 516.4 1146.0 512.0M526.3 515.1Q527.4 501.1 535.8 491.8M947.4 513.7Q947.0 505.3 949.9 499.7M1013.7 518.0Q1013.6 504.4 1009.3 495.4M920.3 516.8Q920.1 507.0 922.6 500.4M1282.9 535.8Q1284.8 522.2 1290.7 513.2M1057.5 518.8Q1057.7 511.0 1061.5 505.7M603.8 510.7Q605.2 499.3 606.3 491.8M693.6 511.7Q694.7 503.6 695.5 498.1M1112.8 519.9Q1114.8 508.2 1120.9 500.3M902.9 512.6Q904.3 501.0 906.1 493.2M941.1 515.2Q942.5 503.4 947.9 495.5M492.3 517.4Q493.8 511.7 498.1 507.8M604.1 512.5Q605.6 504.6 610.7 499.3M1083.5 519.3Q1085.7 506.3 1091.4 497.7M683.2 509.8Q684.0 501.2 685.2 495.4M876.7 513.8Q877.6 500.5 879.6 491.6M913.5 514.4Q913.7 506.7 916.2 501.6M1244.6 533.6Q1244.9 519.4 1250.2 510.0M769.3 509.3Q771.0 499.4 778.9 492.8M701.0 512.6Q701.2 506.7 706.1 502.8M1255.8 533.4Q1256.8 524.5 1260.4 518.6M1187.4 529.1Q1188.0 520.8 1188.8 515.2M1012.4 515.1Q1013.5 509.0 1018.0 504.9M1274.1 533.0Q1275.0 521.9 1276.5 514.5M603.4 512.0Q606.7 497.9 615.5 488.5M1063.1 519.6Q1065.6 506.8 1073.9 498.2M620.6 509.6Q621.7 501.3 628.0 495.7M1291.0 538.5Q1291.7 532.6 1289.9 528.6M768.8 510.9Q770.3 497.8 776.8 489.1M852.3 515.3Q852.5 507.4 857.0 502.2M594.3 511.0Q594.6 498.4 591.6 490.0M587.0 513.0Q587.4 507.2 591.1 503.3M820.5 513.6Q821.5 504.3 825.3 498.1M704.8 512.8Q704.8 505.7 706.7 500.9M1067.0 517.2Q1067.6 505.7 1072.4 498.1M829.9 511.6Q830.5 501.4 834.0 494.6M1056.1 517.9Q1057.6 508.4 1062.1 502.1M826.7 510.4Q826.4 504.0 828.6 499.7M1018.2 516.6Q1018.5 503.0 1023.1 494.0M592.7 511.9Q593.8 501.3 596.7 494.2M826.4 513.0Q825.6 501.7 823.9 494.1M1251.7 531.6Q1252.9 520.5 1254.4 513.1M780.7 511.0Q780.7 501.0 784.5 494.3M1038.7 518.1Q1042.3 504.1 1052.3 494.8M1163.0 523.1Q1164.5 516.5 1169.4 512.1M983.3 515.9Q983.4 506.7 986.0 500.5M574.2 513.4Q576.2 502.8 583.7 495.8M701.5 512.1Q702.2 504.8 706.7 500.0M539.8 513.3Q540.9 503.2 548.3 496.5M725.1 512.3Q723.9 504.8 723.0 499.8M1056.2 518.9Q1056.7 512.5 1059.8 508.3M931.9 514.5Q932.5 504.6 933.9 497.9M759.3 510.2Q760.4 503.2 766.0 498.4M969.8 516.1Q969.4 508.9 971.2 504.1M938.4 512.6Q939.0 507.0 940.1 503.3M1288.7 537.0Q1289.0 526.9 1290.5 520.2M1179.2 524.3Q1180.5 511.4 1186.5 502.8M535.8 514.2Q537.2 506.8 541.3 501.9M981.6 517.2Q982.6 503.3 987.4 494.0M1208.9 530.3Q1211.3 518.0 1217.1 509.8M1270.4 536.4Q1272.5 527.9 1277.6 522.3M1133.3 523.3Q1134.9 514.3 1140.8 508.3M1192.2 525.2Q1192.6 519.6 1191.0 516.0M546.5 514.6Q547.2 507.2 548.5 502.2M811.3 512.6Q813.4 502.3 821.3 495.3M853.8 512.6Q855.2 501.0 856.8 493.3M1099.7 521.5Q1099.6 512.9 1098.8 507.2M1197.4 529.7Q1198.5 522.7 1203.0 518.0M1179.5 525.1Q1180.4 516.6 1184.5 511.0M722.4 512.6Q723.3 503.7 727.0 497.7M1054.5 518.2Q1054.9 506.8 1051.9 499.2M710.8 510.8Q709.8 496.8 708.9 487.4M599.7 512.6Q600.2 502.5 601.8 495.8M617.3 509.5Q619.0 496.0 624.6 486.9M566.7 511.9Q566.9 500.7 569.4 493.2M1086.1 521.1Q1087.3 507.6 1095.3 498.5M1052.5 520.3Q1053.0 514.4 1055.5 510.4M1191.1 527.7Q1193.3 515.6 1200.9 507.6M782.4 511.6Q784.5 501.4 789.7 494.6M606.4 509.8Q609.8 496.7 619.2 488.0M504.8 519.4Q504.4 512.2 506.2 507.4M1092.3 518.4Q1092.0 511.9 1091.1 507.6M758.5 512.5Q759.7 502.7 768.0 496.1M1228.1 532.0Q1229.0 521.5 1234.4 514.5M654.9 508.7Q656.0 497.8 659.7 490.5M1154.0 522.8Q1155.0 509.7 1161.7 501.1M1046.2 518.0Q1047.3 506.1 1053.9 498.1M1092.1 518.5Q1093.2 507.4 1099.0 500.0M866.1 513.2Q866.1 501.1 868.8 493.0M958.4 514.3Q958.6 507.1 961.0 502.2M1197.5 529.1Q1198.0 521.2 1195.5 516.0M992.6 514.6Q993.4 504.5 998.5 497.8M1221.8 530.2Q1222.5 524.1 1227.0 520.1M1058.8 520.9Q1058.9 507.6 1061.8 498.7M1133.1 524.4Q1135.9 514.8 1141.9 508.4M1262.1 533.7Q1263.8 521.7 1270.8 513.6M891.4 512.5Q893.2 504.8 898.2 499.6M1040.0 518.2Q1039.3 507.6 1036.9 500.6M1271.1 532.8Q1272.2 523.1 1273.3 516.7M500.9 519.0Q504.0 506.4 512.1 498.0M779.6 511.4Q780.5 497.4 788.2 488.1M477.9 518.1Q479.9 511.7 483.3 507.5M1031.6 516.3Q1031.8 504.5 1036.7 496.6M1158.6 526.6Q1159.4 516.0 1166.5 508.9M741.3 512.2Q741.8 501.8 744.2 494.8M485.9 516.4Q485.6 506.9 488.5 500.6M1089.9 522.2Q1091.2 514.0 1095.0 508.5M792.2 514.2Q793.6 506.5 799.7 501.3M733.5 511.7Q736.4 498.3 743.4 489.4M1068.1 519.6Q1069.3 506.6 1071.4 497.9M1112.4 523.0Q1113.2 517.0 1115.7 513.0M800.3 511.8Q801.2 501.5 807.0 494.7M699.9 508.9Q700.3 502.4 705.5 498.2M770.1 513.5Q772.3 500.3 783.1 491.6M528.7 513.3Q529.0 503.4 530.5 496.8M1034.3 516.2Q1033.4 509.7 1033.2 505.3M558.8 513.6Q560.0 500.3 561.5 491.4M1009.1 516.1Q1009.7 503.3 1007.9 494.8M655.9 512.3Q656.0 500.1 654.9 492.0M594.0 511.8Q594.3 500.3 598.1 492.7M1190.2 528.0Q1190.3 516.4 1187.0 508.7M1114.6 522.3Q1115.9 511.6 1120.8 504.5M702.3 510.6Q703.3 503.2 703.5 498.3M1065.3 518.0Q1066.6 508.0 1071.9 501.4M892.7 514.9Q894.7 501.6 900.7 492.7M572.3 510.4Q572.6 502.2 576.1 496.7M1294.2 551.7Q1294.9 543.0 1300.8 537.1M991.2 518.8Q992.4 510.0 999.1 504.2M592.7 512.5Q594.0 503.3 596.9 497.2M1209.0 530.8Q1208.8 518.5 1212.9 510.3M638.9 509.4Q640.0 502.4 642.9 497.8M811.9 510.9Q812.2 499.3 809.8 491.6M1093.9 522.9Q1093.8 514.8 1097.0 509.5M1268.5 534.7Q1268.8 524.4 1270.7 517.5M1280.1 533.5Q1281.1 522.7 1282.6 515.6M1141.8 525.3Q1141.7 518.3 1140.8 513.6M540.7 511.7Q541.6 504.8 547.2 500.1M1272.0 532.6Q1271.9 526.0 1275.3 521.5M1122.4 523.0Q1121.2 510.4 1120.2 502.0M1068.5 519.7Q1068.7 507.4 1072.6 499.2M1173.3 527.2Q1172.8 520.4 1171.2 515.9M685.4 511.6Q686.2 499.7 694.1 491.8M1000.1 517.8Q1000.8 512.3 1004.9 508.6M900.7 514.9Q903.1 501.2 910.4 492.0M876.7 511.3Q877.5 500.9 882.0 494.1M655.8 509.3Q658.7 497.2 666.8 489.1M577.2 511.5Q578.5 499.4 587.0 491.4M1263.7 534.0Q1264.9 522.7 1268.9 515.2M806.6 514.0Q809.0 502.7 815.7 495.1M584.1 513.7Q584.7 503.1 591.1 496.0M1053.7 520.0Q1055.1 508.6 1058.1 501.0M1000.6 518.9Q1000.4 512.6 998.6 508.5M913.1 512.3Q913.6 503.2 919.7 497.0M892.9 515.5Q893.8 509.0 898.8 504.7M645.7 508.5Q647.3 501.1 649.5 496.2M933.1 517.2Q932.4 507.9 930.4 501.8M492.7 516.3Q493.5 503.6 496.1 495.2M905.8 511.9Q905.9 505.5 910.5 501.3M867.4 512.8Q867.1 498.4 870.4 488.8M927.1 517.1Q927.5 504.7 930.4 496.4M1277.3 536.0Q1278.2 525.1 1281.5 517.9M785.2 512.1Q785.7 505.8 788.4 501.7M889.9 515.2Q892.3 502.5 899.8 494.0M638.1 510.8Q638.2 505.3 639.9 501.6M1080.7 517.9Q1082.3 504.6 1084.0 495.7M979.1 517.8Q979.7 503.9 986.6 494.7M1115.9 523.1Q1115.6 510.7 1114.4 502.4M972.5 516.8Q972.9 509.8 976.9 505.1M1147.8 526.7Q1149.0 515.3 1153.9 507.6M576.5 509.4Q576.7 501.4 579.0 496.2M1193.6 527.9Q1196.0 514.4 1205.9 505.5M674.4 510.6Q674.1 502.4 671.5 496.9M752.7 510.8Q754.4 500.5 762.8 493.7M1261.0 535.5Q1262.8 525.3 1267.4 518.6M873.0 514.8Q875.0 501.1 882.4 492.0M581.7 511.1Q581.8 505.1 583.6 501.2M585.1 510.9Q585.3 504.9 589.1 501.0M997.6 518.8Q998.4 513.3 1001.8 509.6M820.4 509.9Q822.4 501.3 825.5 495.6M753.6 512.9Q755.7 500.3 764.1 491.8M1167.4 523.9Q1167.6 516.4 1168.7 511.5M1259.6 535.2Q1261.2 526.2 1264.9 520.1M900.7 512.5Q901.2 499.2 903.4 490.3M1293.5 546.7Q1295.7 538.9 1300.0 533.7M489.5 517.1Q491.3 508.9 496.7 503.4M1202.9 530.6Q1202.9 518.0 1205.5 509.5M574.2 510.3Q575.3 498.3 582.0 490.3M528.3 516.7Q530.6 504.6 535.1 496.4M643.9 509.0Q644.9 501.9 648.8 497.1M1110.2 522.1Q1110.5 513.9 1116.2 508.4M873.6 511.7Q875.2 499.6 880.0 491.5M1262.5 533.7Q1264.2 523.0 1273.0 515.8M559.1 514.2Q560.5 508.2 564.6 504.3M1254.0 533.0Q1254.7 520.9 1262.0 512.8M1084.8 520.2Q1085.1 513.7 1088.9 509.4M1194.2 528.2Q1196.2 516.1 1204.5 508.0M829.2 511.8Q831.8 499.4 840.4 491.1M651.0 507.8Q653.9 496.2 660.4 488.5M1065.1 518.5Q1068.0 506.3 1075.7 498.1M831.1 511.4Q831.7 502.6 836.4 496.8M523.4 515.8Q525.9 503.9 532.3 496.0M488.2 516.6Q488.4 511.1 491.7 507.4M906.0 511.8Q906.2 506.1 911.5 502.3M1013.0 517.3Q1015.7 507.0 1021.9 500.2M1034.4 520.0Q1036.3 513.5 1039.9 509.2M1124.6 525.2Q1126.4 513.0 1130.6 504.9M521.7 515.5Q523.5 505.0 529.7 498.0M1079.0 519.6Q1081.2 508.1 1089.6 500.4M871.8 515.2Q872.7 507.4 875.0 502.1M601.0 513.2Q601.6 503.3 608.7 496.6M790.9 512.2Q792.1 506.0 797.1 501.8M497.7 516.5Q498.8 508.1 503.6 502.4M696.5 510.7Q698.2 499.1 703.5 491.4M542.7 513.8Q544.0 504.1 550.5 497.6M1172.7 524.8Q1173.0 513.5 1174.7 506.0M847.7 512.9Q848.6 504.2 850.9 498.3M518.8 514.5Q520.0 500.7 524.3 491.5M780.3 513.9Q780.5 499.6 784.3 490.2M839.6 511.7Q837.8 500.2 835.4 492.6M566.2 510.9Q567.3 504.3 569.6 499.9M1268.9 536.4Q1270.4 527.2 1275.3 521.1M1200.3 530.0Q1201.1 523.3 1202.3 518.9M1100.7 519.2Q1101.7 508.2 1102.8 500.9M738.7 508.5Q740.8 496.5 750.7 488.5M744.4 512.6Q746.7 498.5 751.1 489.1M825.5 512.1Q826.7 503.9 831.8 498.5M1176.8 525.9Q1178.9 516.7 1184.5 510.6M1053.3 520.4Q1055.7 506.8 1066.4 497.7M479.8 519.3Q479.7 510.7 481.2 504.9M1240.1 528.7Q1241.9 520.0 1247.2 514.3M875.3 511.5Q877.5 498.6 885.6 490.1M1134.8 523.5Q1136.4 513.9 1140.3 507.4M749.2 512.5Q751.3 503.8 755.6 497.9M1246.8 533.2Q1247.8 524.3 1250.9 518.5M501.8 517.6Q502.5 503.9 504.8 494.7M1294.1 551.2Q1295.2 539.3 1303.5 531.4M1176.6 528.3Q1177.4 516.4 1180.7 508.5M773.2 511.5Q776.1 502.0 782.6 495.6M1220.7 527.9Q1222.0 515.6 1226.7 507.3M1082.1 519.3Q1083.1 507.8 1087.5 500.2M1002.8 519.4Q1003.1 511.4 1004.2 506.2M1005.1 518.6Q1006.2 505.2 1011.7 496.2M1071.4 521.4Q1071.9 512.8 1075.8 507.0M812.6 513.9Q813.9 508.0 818.5 504.0M1001.9 515.8Q1004.1 503.6 1012.9 495.4M653.9 509.0Q656.0 495.9 663.1 487.2M626.2 507.8Q627.4 499.2 631.8 493.5M741.3 509.8Q742.9 497.8 746.9 489.7M782.7 509.4Q784.7 496.4 790.8 487.7M925.0 516.8Q925.9 511.3 930.3 507.6M1219.8 531.4Q1220.0 520.7 1221.7 513.5M945.7 516.9Q946.4 510.3 951.4 505.9M504.7 515.1Q505.0 507.3 509.4 502.1M711.6 510.0Q711.9 498.8 716.7 491.4M510.0 516.9Q510.1 505.0 508.7 497.1M527.9 516.8Q527.7 505.2 531.3 497.4M546.1 512.0Q548.8 498.7 558.4 489.8M954.2 515.5Q956.2 504.2 960.8 496.6M721.4 510.3Q723.5 498.8 732.6 491.1M804.4 510.6Q805.8 502.0 811.5 496.3M707.5 510.9Q707.5 498.6 710.7 490.3M1005.4 517.9Q1005.6 510.5 1008.0 505.5M1207.8 530.5Q1208.4 517.9 1214.0 509.6M852.3 515.3Q853.6 509.1 855.4 504.9M721.8 510.7Q723.3 504.8 726.1 500.9M1067.0 520.8Q1066.7 513.0 1070.0 507.8M1244.1 532.6Q1243.8 522.8 1242.3 516.2M1109.5 520.0Q1111.0 513.7 1114.1 509.5M812.2 514.6Q813.6 501.3 818.0 492.5M844.3 514.4Q846.3 502.7 854.2 494.9M920.8 515.1Q921.0 509.5 925.4 505.8M1176.7 526.7Q1179.5 514.6 1186.2 506.6M520.0 514.7Q520.0 507.8 524.7 503.2M586.0 509.5Q586.2 499.3 591.6 492.4M908.2 513.1Q908.3 506.9 909.5 502.7M611.0 510.4Q611.8 503.5 616.4 499.0M533.0 516.4Q533.9 510.3 537.4 506.2M1206.5 526.7Q1209.4 514.9 1217.5 506.9M832.7 512.7Q833.1 499.6 839.0 490.9M641.8 508.4Q643.9 494.7 647.7 485.5M1042.0 517.9Q1043.5 511.5 1045.0 507.3M819.8 514.7Q819.3 506.8 821.5 501.6M1121.8 523.2Q1124.1 515.2 1128.6 509.9M932.7 517.1Q934.5 503.4 939.3 494.2M1012.5 514.8Q1013.5 503.2 1021.8 495.5M529.4 514.7Q531.5 508.4 535.0 504.1M1077.3 519.7Q1078.8 512.7 1081.0 508.0M1207.2 527.7Q1208.3 522.1 1211.2 518.3M1134.2 525.1Q1137.0 514.1 1143.6 506.7M1021.8 515.5Q1023.6 508.6 1026.6 503.9M703.3 510.4Q706.0 500.5 712.7 493.9M1068.6 520.0Q1071.2 506.1 1081.1 496.8M510.0 515.1Q510.3 503.9 513.0 496.4M792.5 513.5Q794.6 500.5 802.7 491.9M1284.1 537.8Q1283.7 527.0 1286.7 519.7M570.3 512.5Q570.8 505.3 576.0 500.6M1220.7 532.0Q1222.9 520.7 1231.8 513.1M1151.7 526.9Q1152.7 515.2 1154.5 507.4M774.8 509.9Q774.5 500.4 777.5 494.1M1071.3 518.3Q1072.3 504.5 1074.8 495.3M637.5 510.8Q638.9 500.5 644.5 493.6M1161.2 525.9Q1161.0 518.3 1164.6 513.3M867.0 513.4Q868.0 504.2 868.5 498.0M848.1 511.9Q848.6 502.4 847.3 496.1M1098.4 519.7Q1098.9 511.4 1100.3 505.9M1092.7 520.9Q1094.4 507.9 1105.7 499.2M584.5 512.1Q583.1 505.5 582.1 501.1M1292.6 545.0Q1293.6 534.6 1299.5 527.7M777.2 512.8Q779.0 500.4 786.5 492.1M1226.8 528.3Q1227.0 519.8 1232.6 514.1M1042.1 518.0Q1041.6 507.9 1038.6 501.1M734.5 512.2Q736.3 500.4 740.6 492.5M1050.1 519.0Q1052.8 506.8 1061.7 498.8M1137.2 522.6Q1138.5 509.0 1142.9 500.0M1273.6 536.4Q1275.0 524.0 1279.6 515.7M1135.8 523.2Q1136.0 509.7 1140.5 500.7M614.4 509.5Q615.0 503.7 618.2 499.8M1129.7 523.5Q1129.3 511.9 1132.4 504.2M605.4 512.5Q606.6 505.8 609.8 501.4M1190.4 529.0Q1194.1 514.9 1204.1 505.6M1100.9 520.2Q1101.1 511.9 1105.9 506.3M1206.5 529.4Q1207.4 518.6 1212.0 511.5M1062.3 519.0Q1060.5 507.2 1058.0 499.3M1247.7 530.3Q1248.0 517.6 1254.1 509.1" fill="none" stroke="#f6f8f2" stroke-width="0.90" stroke-linecap="round" opacity="0.55"/>
<path d="M823.7 512.9Q824.7 505.7 825.0 501.0M1086.0 519.3Q1086.7 508.6 1091.5 501.5M763.8 511.4Q764.7 502.4 768.5 496.4M519.6 514.8Q520.6 502.4 524.1 494.1M771.4 509.9Q771.2 494.4 774.8 484.0M926.0 515.0Q927.2 504.2 933.5 497.0M523.0 513.7Q524.9 498.1 533.4 487.7M738.3 511.9Q740.2 499.5 749.8 491.3M1038.1 520.1Q1040.2 508.7 1047.4 501.1M742.6 512.0Q743.7 502.4 745.7 496.0M1055.2 521.0Q1055.2 510.2 1057.6 502.9M1059.8 519.1Q1060.8 508.0 1062.0 500.6M849.2 514.9Q850.0 500.0 858.2 490.2M801.1 512.2Q802.6 505.0 807.5 500.2M695.2 509.8Q696.5 498.4 699.8 490.9M985.0 514.2Q985.4 497.7 989.2 486.7M771.4 511.5Q772.4 495.7 775.4 485.1M684.2 509.6Q686.2 498.4 694.3 491.0M530.3 513.7Q532.1 498.8 538.2 488.8M507.0 517.6Q508.4 504.0 510.6 494.9M688.1 510.4Q689.0 500.3 694.4 493.6M1228.5 531.0Q1229.7 514.2 1236.0 503.0M1181.4 526.1Q1181.8 512.6 1185.7 503.5M1219.6 528.8Q1221.8 512.4 1230.0 501.6M1233.6 531.4Q1234.8 516.4 1243.2 506.4M1152.7 525.5Q1153.9 512.2 1158.3 503.4M735.5 513.4Q738.0 498.9 746.1 489.3M787.9 514.1Q790.2 498.2 799.4 487.7M511.3 518.4Q513.9 503.3 521.3 493.2M491.4 517.8Q492.8 508.6 497.5 502.5M1206.3 528.1Q1206.5 520.3 1207.7 515.1M834.2 510.3Q833.6 502.6 835.5 497.5M736.6 510.8Q737.7 498.4 740.9 490.1M1277.6 532.9Q1277.5 523.3 1280.0 516.9M498.7 519.2Q500.8 509.8 506.2 503.5M494.4 518.5Q496.3 503.2 505.0 493.0M1145.3 524.4Q1145.8 514.2 1151.2 507.4M1022.9 519.2Q1023.9 505.9 1025.2 497.1M581.0 511.3Q581.7 497.8 589.3 488.7M1048.5 516.9Q1049.3 504.2 1056.2 495.7M1268.6 535.2Q1269.4 519.7 1273.6 509.4M1045.3 519.4Q1047.3 508.6 1055.6 501.4M1057.5 517.3Q1058.2 501.6 1064.5 491.1M575.1 512.0Q576.5 502.9 579.9 496.9M1075.7 520.9Q1075.2 513.0 1077.3 507.7M1058.4 519.3Q1061.8 503.2 1072.0 492.5M888.1 512.8Q889.5 505.6 893.6 500.8M891.7 513.7Q894.1 497.7 899.4 487.1M1095.3 523.0Q1097.1 506.4 1104.2 495.3M873.9 513.0Q874.5 498.4 879.4 488.6M705.7 512.2Q706.9 503.2 712.6 497.2M857.2 511.9Q859.4 496.9 871.5 486.9M495.0 517.7Q497.7 503.5 503.8 494.1M1031.1 516.6Q1032.1 505.9 1033.5 498.8M732.1 509.3Q733.5 497.2 743.1 489.2M826.2 511.1Q828.5 496.2 833.9 486.3M716.3 510.4Q717.9 493.8 723.3 482.7M747.2 511.8Q749.6 500.9 756.6 493.6M941.7 516.1Q942.0 505.5 944.8 498.5M485.7 520.0Q486.2 508.1 492.5 500.1M576.5 512.6Q578.7 505.6 582.8 500.9M1175.0 525.8Q1176.0 515.7 1180.4 509.0M1061.6 521.7Q1063.3 507.5 1070.1 498.0M948.0 514.9Q951.3 498.7 964.0 488.0M558.2 512.5Q558.8 496.4 564.1 485.7M1056.4 517.9Q1056.3 505.2 1052.3 496.8M901.2 512.9Q901.8 503.2 907.4 496.7M531.3 512.9Q533.0 499.9 537.8 491.2M774.1 512.0Q774.7 503.9 779.6 498.5M1017.8 515.6Q1020.2 499.1 1028.1 488.0M649.1 511.4Q650.9 498.5 655.3 489.9M1028.7 516.3Q1032.6 499.9 1043.9 488.9M1284.7 535.0Q1284.6 526.4 1287.9 520.7M667.6 511.4Q669.0 504.6 672.2 500.1M685.2 510.2Q685.2 501.4 686.7 495.6M714.9 512.8Q716.0 502.4 721.3 495.5M1188.3 528.9Q1190.1 513.9 1202.1 503.9M580.2 512.1Q580.8 499.9 586.0 491.8M970.1 515.4Q972.0 507.4 976.6 502.0M1095.1 520.7Q1096.3 509.5 1098.9 502.0M776.6 511.9Q777.9 501.6 780.6 494.7M827.3 510.7Q827.5 495.2 831.8 484.9M930.6 516.3Q932.6 509.3 937.1 504.7M818.2 512.0Q818.4 504.4 821.1 499.4M1209.1 530.4Q1210.7 514.4 1213.6 503.7M728.1 509.6Q728.3 502.7 732.2 498.2M685.4 511.0Q686.6 502.6 692.2 497.0M580.3 511.7Q580.9 502.1 582.7 495.7M695.5 509.1Q698.2 495.1 708.5 485.8M654.1 510.1Q655.2 497.5 659.4 489.2M509.5 514.7Q510.3 503.9 512.6 496.7M984.1 518.2Q986.9 505.4 994.5 496.9M1232.6 530.8Q1233.8 515.8 1242.0 505.8M866.1 514.4Q869.7 499.7 879.5 489.9M777.6 509.2Q778.4 498.3 784.3 491.0M494.6 519.1Q495.4 510.6 502.1 504.9M899.1 515.5Q897.7 506.6 895.7 500.7M959.1 516.4Q960.6 503.7 971.0 495.2M912.5 513.7Q913.1 503.1 917.8 496.0M1038.7 518.4Q1040.1 508.9 1047.5 502.6M631.2 511.2Q632.7 497.5 637.6 488.4M749.3 511.4Q749.8 498.1 748.4 489.3M1182.2 524.7Q1182.8 515.9 1186.8 510.0M1254.5 530.5Q1256.1 514.7 1257.8 504.1M1062.9 521.4Q1064.4 511.2 1072.7 504.4M1103.6 523.6Q1104.6 514.8 1108.0 509.0M1222.9 529.3Q1224.3 518.2 1226.3 510.7M687.3 512.3Q688.2 497.5 696.8 487.6M570.2 513.3Q574.3 497.0 586.1 486.1M833.3 511.9Q835.5 496.1 846.8 485.5M561.4 510.4Q561.6 501.2 564.4 495.0M649.9 512.1Q649.8 501.8 649.2 494.9M498.2 518.0Q499.1 511.2 502.0 506.6M650.4 511.9Q654.1 495.4 664.4 484.4M774.1 511.8Q775.3 501.0 783.0 493.7M842.1 513.0Q841.2 496.3 839.1 485.2M1189.5 525.3Q1190.7 513.4 1197.4 505.5M969.6 518.1Q972.0 501.5 980.1 490.5M1070.0 520.6Q1071.0 507.1 1076.6 498.1M663.8 508.3Q664.1 496.0 667.6 487.8M777.5 511.2Q779.3 494.6 787.5 483.6M920.9 516.2Q921.6 504.3 927.9 496.3M647.8 508.2Q648.3 498.7 649.7 492.3M567.5 513.1Q569.7 501.9 575.2 494.4M1028.6 515.8Q1029.3 503.6 1033.3 495.5M656.8 507.9Q658.6 491.3 661.3 480.1M515.5 515.5Q518.1 504.5 523.6 497.2M734.1 508.8Q734.6 500.0 735.6 494.2M1203.7 526.3Q1205.2 517.0 1212.2 510.8M532.8 511.9Q532.3 503.1 530.4 497.2M1141.3 521.5Q1142.8 512.0 1146.2 505.6M1027.7 517.4Q1030.0 507.3 1034.6 500.6M905.8 514.7Q907.6 501.3 913.4 492.4M963.3 518.1Q965.1 508.4 968.9 501.9M926.2 513.8Q926.9 505.4 930.5 499.7M682.9 510.2Q684.0 497.7 686.0 489.4M633.4 508.9Q634.0 502.0 637.3 497.3M954.5 516.0Q955.7 508.9 956.0 504.2M1050.2 518.4Q1051.2 509.1 1052.7 503.0M794.5 509.8Q795.8 500.4 801.7 494.1M1198.0 527.4Q1198.9 520.5 1200.3 516.0M544.7 511.8Q545.0 501.2 542.3 494.1M907.4 513.1Q908.7 506.2 911.8 501.6M1174.8 528.2Q1175.5 514.8 1177.6 505.8M813.5 510.8Q814.4 503.5 820.0 498.6M857.6 515.0Q859.5 507.0 863.1 501.6M1127.1 525.3Q1128.1 514.8 1133.3 507.8M1252.0 534.7Q1255.4 517.9 1267.5 506.7M1214.9 528.8Q1217.2 512.8 1228.1 502.1M1037.5 516.3Q1038.9 507.1 1040.5 501.0M1288.0 537.7Q1289.8 526.0 1297.3 518.2M898.6 512.2Q899.8 503.2 902.8 497.1M671.1 509.0Q674.2 493.4 683.8 483.1M633.2 510.1Q635.7 495.0 645.9 485.0M954.7 513.0Q956.1 503.9 961.9 497.9M940.0 515.2Q941.0 505.1 942.4 498.3M828.9 513.9Q832.0 498.8 840.0 488.8M506.5 519.1Q507.5 507.9 515.7 500.4M952.6 513.3Q953.4 499.3 958.9 489.9M1134.7 524.3Q1136.8 514.6 1142.3 508.2M967.2 517.1Q969.7 504.2 979.9 495.6M955.9 515.8Q957.3 506.3 959.9 499.9M1261.6 534.2Q1263.1 522.4 1267.4 514.6M1243.7 532.7Q1243.9 522.2 1242.0 515.2M823.1 511.8Q823.5 504.7 827.2 499.9M1080.6 521.6Q1082.7 508.2 1089.4 499.3M951.0 517.7Q952.3 505.8 956.5 497.9M752.6 512.0Q753.0 503.8 755.2 498.4M1128.4 521.7Q1129.4 510.3 1132.5 502.7M795.0 511.3Q795.3 502.6 798.0 496.7M559.3 511.5Q561.3 500.3 570.4 492.8M1267.1 534.9Q1267.6 523.6 1272.8 516.1M859.4 513.9Q860.5 506.2 863.8 501.1M755.1 512.1Q755.8 497.5 762.5 487.8M646.8 510.8Q648.5 496.0 651.0 486.1M772.4 511.7Q774.0 498.3 778.3 489.3M869.4 513.1Q869.6 500.8 872.6 492.6M610.5 510.7Q612.5 497.0 618.8 487.8M818.0 514.7Q818.7 505.9 819.6 500.0M786.1 511.2Q787.6 501.1 789.8 494.4M701.8 510.8Q702.4 499.5 704.9 492.0M1282.4 537.5Q1284.2 521.7 1288.5 511.2M562.4 512.9Q561.0 504.5 559.8 498.9M1182.2 526.9Q1183.8 515.7 1193.1 508.2M1050.1 518.1Q1050.6 506.7 1054.9 499.2M696.6 508.8Q698.7 493.3 704.1 483.0M1027.5 516.0Q1030.2 499.7 1042.9 488.8M1151.5 525.4Q1152.3 518.5 1154.9 513.9M1247.4 533.3Q1251.2 518.2 1262.3 508.1M476.0 520.9Q476.0 513.4 480.4 508.4M993.4 518.0Q994.1 509.1 996.7 503.2M489.1 517.5Q490.3 501.2 495.5 490.4M1197.3 529.4Q1195.9 518.9 1194.3 511.9M777.5 512.3Q777.2 504.2 779.1 498.9M518.6 513.6Q519.5 506.2 521.6 501.2M707.3 510.6Q708.8 500.6 713.8 494.0M474.2 521.7Q475.2 512.9 479.7 507.1M689.8 511.0Q692.3 496.5 702.5 486.8M922.4 513.9Q922.6 504.4 928.0 498.0M1083.8 519.6Q1084.8 506.9 1088.8 498.4M727.0 510.6Q726.5 503.9 728.7 499.5M798.4 512.8Q800.6 505.8 805.0 501.2M827.9 512.9Q829.0 500.2 831.0 491.6M1118.3 523.7Q1119.0 510.1 1122.0 501.1M507.1 518.2Q507.4 510.5 512.0 505.4M1251.3 532.8Q1254.0 518.8 1260.8 509.4M525.6 514.3Q527.6 505.5 531.5 499.6M664.3 509.1Q666.5 493.1 676.5 482.5M1072.9 518.1Q1073.1 504.1 1077.9 494.8M1220.0 531.3Q1221.0 524.4 1222.0 519.9M712.2 512.1Q713.0 499.6 716.9 491.3M589.8 512.8Q591.2 498.8 595.0 489.6M776.9 510.4Q775.5 498.4 772.3 490.4M868.2 515.8Q868.1 499.1 871.1 488.0M642.9 508.4Q645.0 496.7 654.5 488.9M1207.0 529.5Q1209.3 522.1 1213.7 517.2M581.9 513.3Q583.3 501.5 588.9 493.6M1093.8 521.2Q1095.1 504.6 1103.9 493.6M1075.2 520.5Q1077.2 504.9 1082.1 494.5M682.7 509.6Q683.8 494.4 693.4 484.3" fill="none" stroke="#9d8fb8" stroke-width="0.75" stroke-linecap="round" opacity="0.60"/>
<path d="M1097.3 520.7Q1098.8 511.7 1101.7 505.7M1124.6 525.2Q1126.4 511.8 1128.7 502.8M474.8 518.7Q475.5 510.6 477.3 505.2M528.9 516.4Q529.7 505.4 532.4 498.1M759.0 511.3Q758.8 503.6 762.5 498.5M883.2 515.5Q883.1 502.8 886.7 494.4M589.9 508.6Q589.9 496.5 593.7 488.5M1204.4 526.6Q1206.8 513.1 1215.7 504.1M745.9 512.7Q745.8 499.1 749.1 490.0M866.5 511.8Q867.8 500.2 874.7 492.6M518.6 515.4Q521.1 499.5 528.6 488.9M994.6 518.9Q996.5 502.5 1007.4 491.6M690.0 511.4Q691.8 498.8 701.0 490.5M613.8 511.3Q614.5 503.6 618.3 498.4M1007.7 517.7Q1008.7 504.8 1010.5 496.2M1214.2 529.6Q1216.8 516.4 1226.1 507.6M506.6 514.5Q508.4 500.6 518.7 491.3M834.1 514.3Q834.3 500.0 838.1 490.5M1082.3 519.1Q1083.7 503.4 1090.3 493.0M588.1 513.0Q587.9 506.1 591.6 501.6M655.0 512.7Q657.4 497.3 663.0 487.1M1173.8 527.3Q1175.4 515.0 1181.1 506.7M1268.1 532.3Q1271.3 516.5 1280.6 506.0M707.6 510.0Q710.7 497.5 719.8 489.2M1010.4 519.2Q1012.5 509.6 1017.3 503.1M1043.8 520.0Q1045.5 506.9 1052.0 498.2M1271.2 536.5Q1272.4 529.4 1274.1 524.7M622.5 511.7Q622.5 503.1 626.4 497.4M948.7 514.2Q948.8 499.9 951.8 490.3M1255.2 531.8Q1256.0 518.3 1257.7 509.4M1220.0 530.7Q1220.6 523.5 1225.7 518.7M1200.7 528.9Q1200.3 518.8 1203.0 512.0M669.2 508.0Q671.5 499.6 675.8 494.1M701.8 512.0Q703.1 497.9 711.7 488.4M1150.2 526.7Q1149.4 514.7 1148.6 506.7M1267.1 532.9Q1267.2 523.4 1264.8 517.1M1110.1 521.0Q1111.9 514.1 1116.4 509.5M645.9 512.5Q646.8 499.4 648.4 490.6M624.2 512.3Q622.9 499.6 620.7 491.1M1120.5 520.2Q1120.1 511.6 1122.4 505.9M1114.1 522.0Q1116.1 507.4 1127.6 497.7M771.4 513.0Q773.5 503.0 780.8 496.3M682.9 511.4Q684.6 501.9 687.8 495.6M588.4 509.4Q590.2 500.7 595.4 494.8M1133.0 522.1Q1133.6 510.5 1135.0 502.7M686.5 511.8Q686.8 503.0 691.2 497.2M1015.5 516.8Q1016.5 509.7 1017.3 505.0M1028.7 519.5Q1031.1 506.2 1039.6 497.2M907.7 512.6Q907.9 503.6 909.8 497.6M712.5 510.9Q714.4 495.9 718.4 485.8M630.7 510.7Q630.5 502.1 632.6 496.3M480.2 516.7Q482.0 501.9 493.4 492.0M493.2 519.9Q494.2 509.5 497.9 502.5M742.7 509.3Q743.0 501.5 748.7 496.3M656.2 510.4Q656.8 501.0 661.6 494.8M569.6 511.3Q571.1 496.4 573.8 486.5M939.5 514.3Q941.7 498.2 952.7 487.5M868.8 513.2Q870.9 498.0 879.1 487.9M1200.9 527.4Q1200.6 519.4 1203.4 514.2M1270.9 534.5Q1271.9 519.7 1278.9 509.9M1200.9 527.7Q1203.6 517.0 1209.4 509.8M866.7 513.0Q868.2 498.0 874.5 487.9M723.6 509.6Q724.6 495.1 730.3 485.4M567.2 513.2Q568.7 498.7 578.1 489.0M883.2 515.4Q884.5 500.8 892.8 491.1M519.1 517.3Q520.0 510.5 521.6 506.0M1042.6 520.1Q1043.1 504.0 1049.0 493.3M743.2 509.1Q744.5 492.7 753.8 481.7M1218.2 528.1Q1218.5 513.6 1223.1 504.0M910.5 513.3Q911.7 500.9 920.0 492.6M894.5 513.5Q894.8 502.4 899.8 494.9M1067.4 520.2Q1068.7 506.6 1076.9 497.5M1219.9 529.6Q1221.7 518.3 1224.2 510.8M805.5 513.6Q806.0 505.7 810.7 500.5M721.8 510.2Q722.4 497.1 728.4 488.3M1171.9 525.8Q1174.2 511.1 1179.2 501.3M993.5 517.7Q995.8 505.8 1002.5 497.8M1264.7 532.8Q1267.2 523.2 1273.4 516.7M829.4 512.1Q829.8 495.8 834.8 485.0M721.0 510.3Q720.2 499.8 718.7 492.8M888.7 511.6Q891.7 500.1 899.3 492.5M1175.8 526.3Q1176.8 519.5 1177.3 515.0M744.6 509.2Q745.7 494.9 753.5 485.3M925.9 515.1Q925.6 501.3 920.8 492.0M736.2 510.5Q737.1 500.4 744.7 493.7M860.9 511.5Q861.0 504.7 862.3 500.2M474.6 517.7Q476.6 501.9 484.4 491.4M1252.7 533.3Q1253.7 522.8 1254.9 515.7M1014.3 516.2Q1015.0 508.0 1020.1 502.5M1287.5 536.2Q1288.9 527.5 1290.3 521.7M639.9 508.9Q640.3 500.8 642.6 495.5M668.0 511.1Q668.1 502.0 671.5 496.0M515.7 513.9Q515.3 507.3 513.8 502.8M1199.5 528.6Q1200.1 518.9 1204.4 512.4M517.8 514.0Q517.6 505.9 520.6 500.6M976.4 514.5Q978.7 502.7 985.2 494.8M1110.6 521.7Q1110.7 513.0 1112.4 507.1M711.3 508.5Q713.6 500.1 719.0 494.5M1163.0 524.2Q1164.8 515.3 1171.1 509.4M1238.2 530.7Q1241.1 519.8 1248.7 512.5M1050.9 517.3Q1051.3 510.2 1052.2 505.5M1194.7 530.0Q1195.8 521.0 1203.5 514.9M696.0 512.9Q698.2 496.7 703.5 485.9M1130.1 525.3Q1131.7 515.0 1133.8 508.1M974.3 517.8Q975.5 509.2 979.4 503.5M1121.7 524.3Q1123.3 513.1 1130.0 505.7M898.5 515.7Q901.9 500.1 913.9 489.7M923.4 516.5Q925.1 507.4 928.5 501.4M1053.6 516.4Q1054.6 508.7 1055.8 503.5M754.7 509.1Q755.9 496.6 763.2 488.2M757.0 509.9Q758.6 495.0 764.3 485.1M661.0 509.1Q662.7 495.7 672.9 486.8M685.5 508.3Q687.2 499.8 689.7 494.1M956.1 513.7Q956.9 503.3 959.1 496.3M883.4 512.1Q885.3 502.7 892.0 496.4M736.8 510.0Q738.2 495.6 739.4 486.0M992.4 514.3Q993.4 507.3 998.1 502.7M1005.6 517.8Q1006.9 508.3 1012.6 502.0M797.4 512.9Q800.2 497.4 808.8 487.0M1254.6 531.3Q1255.2 517.8 1259.2 508.9M1245.8 530.6Q1248.1 520.9 1254.9 514.4M761.7 513.0Q761.3 505.7 761.2 500.9M670.8 512.1Q672.5 500.9 680.6 493.5M750.9 508.9Q754.0 497.7 761.7 490.2M553.8 512.0Q552.9 496.9 552.0 486.8M542.7 514.3Q542.0 500.4 537.2 491.2M1121.5 521.1Q1122.1 513.7 1128.8 508.8M626.7 511.1Q626.8 502.8 631.1 497.2M869.3 513.6Q868.9 498.4 871.8 488.2M924.9 513.1Q927.2 503.1 934.7 496.4M968.2 514.3Q967.9 500.7 962.9 491.6M754.7 509.7Q756.4 496.5 766.3 487.6M882.7 512.3Q881.6 500.5 878.0 492.6M638.9 508.5Q641.4 495.9 650.9 487.5M1044.6 520.1Q1046.9 503.7 1051.9 492.7M967.8 517.7Q968.4 509.6 974.5 504.2M572.8 510.9Q574.2 500.1 580.6 492.9M946.1 514.8Q945.3 504.3 944.4 497.3M1063.9 520.9Q1064.7 507.3 1071.1 498.2M672.0 512.8Q673.2 500.2 678.3 491.8M713.9 510.2Q715.4 499.2 723.9 491.9M845.7 511.5Q845.6 495.2 850.3 484.3M850.0 512.8Q850.3 506.0 852.0 501.5M721.6 508.5Q722.7 498.6 726.1 492.0M653.5 510.4Q654.3 496.6 656.0 487.3M1203.6 529.3Q1206.4 514.1 1214.5 504.0M1090.8 520.7Q1091.1 504.7 1094.1 494.0M916.6 516.0Q915.3 507.7 914.7 502.2M1254.1 531.1Q1254.7 520.2 1257.1 512.9M1171.8 524.9Q1173.1 513.6 1176.0 506.1M941.9 515.6Q940.5 505.8 938.1 499.3M1018.6 519.8Q1019.6 504.5 1024.3 494.4M940.0 515.8Q941.9 502.9 951.6 494.3M1202.0 527.3Q1202.4 513.7 1206.0 504.7M1285.5 536.7Q1288.1 526.1 1295.8 519.1M1003.2 514.5Q1003.0 503.2 1006.2 495.7M992.6 516.8Q994.3 508.9 1000.0 503.6M688.9 508.6Q689.3 498.6 690.8 492.0M792.7 513.2Q793.6 505.1 795.4 499.7M730.6 509.4Q731.9 501.5 734.3 496.3M669.9 509.5Q670.5 495.3 668.0 485.8" fill="none" stroke="#c0b3d4" stroke-width="0.80" stroke-linecap="round" opacity="0.50"/>
<path d="M1220.2 528.6Q1221.8 519.1 1225.5 512.7M1196.3 528.9Q1197.5 518.2 1205.5 511.1M1019.4 515.8Q1022.7 499.1 1033.2 488.0M713.2 508.4Q714.5 496.6 715.9 488.7M944.9 514.0Q946.8 505.3 950.4 499.4M613.9 510.4Q614.8 499.2 619.3 491.8M917.0 513.0Q918.2 503.1 923.0 496.6M756.5 508.9Q757.5 497.1 761.9 489.1M976.7 515.3Q975.1 501.2 972.8 491.8M902.8 514.7Q904.1 502.5 907.2 494.3M797.8 512.1Q798.1 503.2 804.0 497.2M1089.6 522.3Q1092.7 505.6 1105.5 494.5M690.8 511.3Q692.0 500.5 695.6 493.2M1053.8 520.2Q1053.6 512.0 1056.5 506.6M1197.2 530.0Q1198.8 517.0 1202.3 508.3M755.5 512.0Q758.2 499.3 767.2 490.8M918.7 516.5Q919.8 503.8 928.1 495.3M929.2 513.4Q930.0 497.0 935.0 486.0M630.4 510.6Q631.6 500.7 640.3 494.1M727.0 508.9Q728.7 497.2 734.0 489.5M837.0 514.3Q837.1 500.8 842.2 491.7M666.0 507.9Q668.9 491.6 676.0 480.7M548.6 514.5Q549.4 507.7 553.8 503.1M1200.3 529.4Q1200.4 517.7 1205.0 510.0M915.8 514.6Q915.0 506.1 913.7 500.5M1020.0 515.7Q1020.1 503.8 1023.3 495.8M1234.0 532.6Q1234.5 516.2 1240.6 505.2M1267.2 534.8Q1267.3 527.8 1269.2 523.2M1238.8 532.4Q1238.2 522.5 1235.4 515.9M791.7 509.7Q794.3 493.7 803.1 483.1M980.7 514.3Q983.1 502.8 991.2 495.2M849.1 512.3Q848.8 505.5 851.5 501.1M518.2 517.0Q520.1 500.2 530.7 489.0M1167.2 525.2Q1168.4 509.8 1172.8 499.6M656.5 509.0Q659.1 495.0 668.0 485.7M760.1 511.2Q761.9 498.6 768.4 490.2M1258.6 532.8Q1259.0 521.7 1260.7 514.3M483.4 518.5Q484.9 510.8 486.5 505.6M567.4 512.2Q567.9 500.7 569.8 493.0M821.1 512.7Q821.4 505.4 826.0 500.6M936.7 517.2Q939.3 501.5 947.4 491.0M844.3 513.9Q845.8 503.5 850.9 496.6M966.0 515.1Q967.3 505.0 973.2 498.2M783.1 510.7Q785.8 497.7 794.8 489.0M907.6 515.0Q906.8 501.6 905.0 492.7M899.3 514.8Q901.3 498.7 910.7 488.0M1122.2 520.9Q1124.4 505.3 1131.2 494.9M917.0 517.0Q916.8 509.2 918.7 504.0M659.6 512.7Q660.0 500.7 664.5 492.7M679.7 508.5Q681.5 491.9 692.6 480.9M1270.1 536.1Q1272.4 528.5 1276.8 523.4M833.4 512.3Q835.0 505.6 837.7 501.1M656.6 512.2Q659.2 502.2 665.0 495.5M943.3 514.5Q943.5 505.2 946.6 499.0M732.7 512.5Q732.8 505.8 736.6 501.4M1039.8 516.6Q1040.3 502.5 1044.2 493.0M551.0 510.6Q552.4 502.0 553.4 496.2M779.7 511.1Q780.2 496.8 778.4 487.3M740.9 509.4Q742.0 500.9 747.6 495.3M1054.7 518.7Q1055.0 510.0 1058.4 504.2M1121.6 520.7Q1121.9 510.1 1118.3 503.1M975.8 516.8Q977.3 508.2 978.7 502.5M486.2 520.2Q485.8 511.6 488.2 505.8M1160.1 527.0Q1161.1 517.5 1162.8 511.1M504.9 518.1Q504.8 510.2 508.7 505.0M910.4 513.4Q913.4 497.5 925.0 486.9M1001.7 516.0Q1003.0 504.6 1008.8 497.0M1169.2 528.3Q1170.9 514.2 1181.7 504.8M655.7 510.2Q658.5 495.8 666.9 486.2M717.8 508.5Q719.6 496.9 722.8 489.3M913.2 515.8Q915.8 501.8 921.6 492.5M1124.8 523.3Q1125.9 506.6 1129.6 495.5M736.4 509.1Q739.4 496.6 747.5 488.2" fill="none" stroke="#86829f" stroke-width="0.65" stroke-linecap="round" opacity="0.55"/>
<path d="M1279.3 533.6Q1279.9 521.4 1286.3 513.2M692.2 512.5Q695.1 497.4 706.8 487.3M524.3 514.7Q523.6 502.1 519.3 493.8M512.2 518.7Q512.9 510.0 518.6 504.2M850.8 512.6Q850.9 504.2 849.2 498.6M1266.5 534.0Q1268.2 523.3 1272.8 516.2M1037.9 516.1Q1037.5 505.6 1040.8 498.6M1184.3 524.8Q1185.7 509.7 1189.2 499.6M1240.1 533.0Q1240.7 524.8 1246.3 519.4M851.0 515.2Q852.8 508.4 856.1 503.9M861.8 512.0Q862.2 496.7 865.7 486.5M517.9 514.1Q518.1 498.8 522.4 488.6M1231.4 528.0Q1233.9 514.7 1239.6 505.8M659.1 512.7Q662.1 500.3 669.5 492.0M1061.9 519.1Q1064.5 510.3 1069.9 504.4M1195.3 529.0Q1196.5 515.0 1199.5 505.7M553.7 510.1Q554.8 502.5 556.4 497.4M1041.0 517.5Q1041.8 501.3 1045.7 490.5M686.7 511.5Q689.2 496.4 698.6 486.3M731.1 511.1Q732.4 499.1 734.6 491.1M1108.6 519.8Q1110.2 510.8 1115.7 504.8M1235.3 530.3Q1236.1 521.4 1240.3 515.4M1112.3 521.2Q1111.6 507.4 1108.7 498.1M1181.5 527.5Q1182.8 512.2 1192.2 502.0M821.0 510.8Q822.5 496.5 826.9 487.0M488.0 519.1Q489.0 509.1 491.8 502.5M648.4 511.3Q649.6 503.9 649.9 499.0M1246.7 534.2Q1248.5 520.1 1255.7 510.6M1243.9 533.8Q1244.5 522.8 1247.6 515.4M1134.2 525.6Q1134.1 512.7 1137.2 504.1M912.0 516.0Q914.4 502.6 919.5 493.6M1185.1 527.0Q1185.9 519.8 1190.3 515.1M782.7 510.6Q783.7 502.5 788.4 497.2M1086.3 520.6Q1087.3 512.3 1089.6 506.8M991.0 517.7Q992.1 507.5 999.2 500.6M576.3 512.1Q579.8 496.9 590.9 486.7M955.4 514.2Q957.0 504.6 963.9 498.1M922.1 512.3Q923.2 504.5 924.7 499.4M545.3 511.1Q546.5 494.4 550.4 483.3M1185.5 528.2Q1185.9 520.6 1191.7 515.6M1242.9 530.3Q1244.4 519.0 1249.7 511.5M527.6 516.5Q527.6 504.5 530.6 496.6M826.3 513.5Q828.1 499.3 830.6 489.7M986.8 514.8Q986.7 502.0 984.9 493.4M565.4 510.1Q564.9 496.6 560.2 487.5M590.5 508.8Q591.5 502.0 591.7 497.5M484.6 517.0Q484.7 509.9 488.2 505.2M1139.4 521.9Q1139.4 508.9 1143.1 500.2M634.7 512.6Q636.7 503.3 639.8 497.1M922.1 512.7Q923.9 499.3 932.0 490.4M1143.1 521.9Q1145.2 509.8 1150.7 501.6M669.4 509.7Q669.9 497.0 666.9 488.5M844.8 511.1Q844.4 502.9 846.2 497.5M933.8 517.2Q936.1 502.7 943.3 493.1M1132.4 522.0Q1134.1 513.0 1136.9 507.1M956.3 514.3Q956.2 500.3 960.4 491.0M944.3 515.6Q945.2 504.2 951.5 496.7M951.3 514.9Q954.0 503.2 962.2 495.4M523.5 515.1Q523.8 507.9 525.9 503.2M603.8 512.9Q603.2 503.2 602.1 496.8M1113.8 522.4Q1115.8 506.7 1124.5 496.2M1155.6 524.7Q1155.3 516.7 1158.5 511.3M621.2 511.0Q622.6 497.5 628.7 488.4M955.2 513.1Q957.0 502.3 965.8 495.1M982.6 518.6Q984.4 507.2 988.4 499.7M658.5 511.1Q659.1 501.4 663.0 495.0M1220.2 529.4Q1220.1 514.0 1224.4 503.7M1174.2 528.2Q1175.3 516.6 1180.6 508.9M723.7 509.0Q726.8 493.0 737.1 482.3M1156.0 525.8Q1157.1 518.1 1161.5 513.0M822.6 513.1Q824.2 504.5 825.6 498.8M566.8 512.7Q566.8 500.9 569.1 493.1M1038.9 516.2Q1041.3 505.8 1046.0 498.9" fill="none" stroke="#e3bf8a" stroke-width="0.80" stroke-linecap="round" opacity="0.55"/>
<path d="M1157.7 523.5Q1159.6 511.2 1166.0 503.0M786.4 510.4Q789.1 497.0 798.4 488.1M1255.6 531.4Q1256.7 519.0 1266.2 510.7M890.9 515.5Q891.6 506.8 895.2 501.1M917.4 515.0Q919.5 499.8 925.7 489.6M801.5 512.6Q801.0 502.9 803.5 496.5M718.0 512.4Q718.8 495.9 723.5 484.9M841.6 511.0Q842.1 496.2 846.0 486.3M1001.7 514.9Q1000.2 503.3 997.6 495.5M532.9 515.8Q533.3 502.4 537.9 493.4M872.7 514.7Q871.8 501.9 871.5 493.4M1245.7 533.7Q1245.5 524.0 1247.7 517.6M1201.9 530.3Q1204.9 515.7 1213.7 506.0M783.9 512.8Q785.8 506.1 788.9 501.6M1114.9 522.0Q1115.8 508.2 1124.0 499.0M657.5 509.0Q660.5 495.3 670.3 486.1M993.1 514.8Q994.1 505.6 999.0 499.4M1041.0 517.3Q1041.8 507.5 1044.1 501.0M563.6 514.1Q565.5 507.4 568.8 503.0M707.9 508.2Q709.5 494.5 714.4 485.4M834.0 513.4Q835.5 499.9 840.0 490.8M938.4 512.8Q938.1 504.5 936.6 499.0M796.6 510.9Q795.9 496.6 792.1 487.1M1284.0 536.2Q1284.8 519.6 1290.0 508.5M665.4 508.6Q667.0 499.4 670.7 493.2M506.5 518.3Q506.8 505.1 504.4 496.4M583.9 510.0Q586.3 500.3 591.9 493.8M1167.2 527.5Q1166.9 516.1 1169.6 508.5M568.5 509.9Q569.7 500.1 570.6 493.5M671.3 510.3Q671.9 495.0 674.0 484.8M498.7 519.7Q499.6 504.9 502.4 495.1M992.2 515.1Q992.6 508.2 997.4 503.6M501.8 517.8Q502.8 508.0 506.2 501.6M570.2 512.7Q572.0 498.8 579.2 489.5M1004.3 514.7Q1005.1 505.0 1008.3 498.6M567.6 512.8Q567.2 505.6 570.3 500.8M742.3 512.6Q744.1 498.5 749.0 489.1M1183.3 524.8Q1184.0 513.9 1190.0 506.7M1144.9 524.8Q1148.1 510.0 1159.0 500.2M716.8 509.5Q718.1 499.1 725.5 492.2M1210.5 528.9Q1212.5 512.3 1222.3 501.2M1283.2 535.5Q1283.9 522.0 1290.0 513.0M774.6 511.1Q775.7 497.0 778.8 487.5M860.3 515.1Q861.6 508.3 864.0 503.8M761.9 511.4Q761.2 500.8 761.2 493.7M1185.7 525.5Q1187.2 516.0 1191.7 509.7M726.3 510.0Q727.0 503.3 731.9 498.8M643.1 510.2Q643.2 502.1 646.6 496.6M904.4 513.4Q903.7 505.7 901.6 500.6M713.1 508.4Q713.6 498.8 718.2 492.4M783.6 513.7Q785.6 500.6 790.6 491.9M1233.3 529.1Q1233.8 513.9 1240.6 503.7M672.0 509.0Q673.2 500.3 679.4 494.5M1128.6 522.2Q1129.4 509.6 1132.7 501.3M955.7 516.9Q957.1 505.0 962.6 497.0M944.4 514.2Q945.1 506.0 947.3 500.6M488.9 516.9Q491.2 504.3 496.4 496.0M532.1 515.7Q534.5 499.1 545.2 488.0M987.4 517.3Q989.3 502.6 998.6 492.8M1122.9 523.3Q1125.0 506.9 1130.1 495.9M1094.1 522.0Q1094.9 513.9 1096.5 508.5M500.7 518.3Q501.3 510.5 503.2 505.3M1060.0 521.4Q1060.6 512.5 1062.1 506.5M1223.9 530.8Q1224.6 522.9 1227.7 517.6M707.0 512.3Q708.9 496.6 712.1 486.1M788.4 513.7Q791.2 497.4 801.1 486.6M1099.7 520.5Q1100.8 509.0 1102.4 501.4M725.8 511.8Q726.7 500.8 734.2 493.5M1018.7 516.2Q1020.4 507.5 1023.5 501.7M1042.7 517.9Q1043.8 506.8 1050.1 499.4M966.7 517.9Q968.2 505.2 971.1 496.7M655.8 509.6Q657.5 502.6 661.3 498.0M1059.7 520.5Q1059.5 508.2 1057.8 499.9" fill="none" stroke="#dfd77f" stroke-width="0.80" stroke-linecap="round" opacity="0.55"/>
<path d="M506.3 501.7h2.9v2.0h-2.9zM506.4 501.1h3.0v2.1h-3.0zM506.9 501.2h2.2v1.6h-2.2zM1231.1 511.5h2.5v1.8h-2.5zM1213.8 519.3h2.4v1.7h-2.4zM1216.3 519.4h2.1v1.5h-2.1zM1214.6 518.1h2.4v1.7h-2.4zM748.5 494.9h2.5v1.8h-2.5zM751.9 496.0h1.9v1.3h-1.9zM695.0 498.0h2.4v1.7h-2.4zM691.6 497.8h2.4v1.6h-2.4zM1246.3 516.7h2.0v1.4h-2.0zM1028.0 506.3h3.7v2.6h-3.7zM1031.3 506.4h3.0v2.1h-3.0zM779.9 495.7h2.0v1.4h-2.0zM1115.8 507.6h2.4v1.7h-2.4zM1118.2 506.6h2.2v1.5h-2.2zM1276.8 518.9h3.6v2.5h-3.6zM1282.0 517.6h2.1v1.5h-2.1zM564.5 500.6h3.7v2.6h-3.7zM563.5 500.7h2.1v1.4h-2.1zM564.1 501.4h2.2v1.5h-2.2zM652.2 496.7h2.2v1.6h-2.2zM869.7 502.6h3.3v2.3h-3.3zM869.1 503.2h2.7v1.9h-2.7zM868.9 501.3h3.4v2.4h-3.4zM1161.9 505.3h2.8v2.0h-2.8zM819.5 495.5h2.6v1.8h-2.6zM818.5 496.0h3.1v2.1h-3.1zM816.1 495.9h2.2v1.5h-2.2zM611.2 492.6h3.3v2.3h-3.3zM1127.7 512.7h2.9v2.0h-2.9zM1129.7 510.8h2.1v1.5h-2.1zM930.7 497.6h3.5v2.5h-3.5zM932.9 498.1h3.4v2.4h-3.4zM838.2 498.8h2.9v2.0h-2.9zM838.1 499.7h2.4v1.7h-2.4zM837.0 500.1h2.3v1.6h-2.3zM1242.6 519.0h2.6v1.8h-2.6zM1244.0 518.2h2.0v1.4h-2.0zM1247.4 521.9h3.0v2.1h-3.0zM1249.6 521.7h2.6v1.8h-2.6zM1250.0 521.1h2.9v2.0h-2.9zM1020.3 507.9h2.2v1.6h-2.2zM1022.8 507.5h3.0v2.1h-3.0zM1021.4 508.1h2.0v1.4h-2.0zM1266.5 519.1h3.6v2.5h-3.6zM1268.1 520.3h2.5v1.8h-2.5zM1055.7 507.8h2.7v1.9h-2.7zM1135.5 507.0h3.5v2.4h-3.5zM1129.2 508.0h3.4v2.4h-3.4zM961.0 499.9h2.4v1.7h-2.4zM958.6 500.1h2.6v1.8h-2.6zM1260.3 518.8h1.8v1.3h-1.8zM1259.5 519.6h1.9v1.3h-1.9zM671.0 495.1h3.2v2.2h-3.2zM1046.0 508.3h2.0v1.4h-2.0zM1046.5 507.4h2.5v1.7h-2.5zM746.2 499.6h2.8v2.0h-2.8zM741.3 501.1h2.1v1.5h-2.1zM747.5 500.4h2.8v2.0h-2.8zM706.8 492.0h3.6v2.5h-3.6zM697.8 490.8h2.7v1.9h-2.7zM569.4 500.2h2.0v1.4h-2.0zM564.5 501.5h3.4v2.4h-3.4zM565.7 501.4h2.6v1.8h-2.6zM945.6 498.0h2.6v1.8h-2.6zM949.9 496.6h2.7v1.9h-2.7zM949.0 498.1h3.7v2.6h-3.7zM920.0 498.7h3.1v2.2h-3.1zM920.7 498.9h3.6v2.5h-3.6zM915.1 498.0h2.1v1.5h-2.1zM978.6 500.7h2.9v2.0h-2.9zM790.4 494.9h3.2v2.3h-3.2zM788.7 493.5h3.5v2.5h-3.5zM527.6 503.2h2.8v1.9h-2.8zM1275.9 515.3h3.3v2.3h-3.3zM708.3 495.9h3.5v2.5h-3.5zM1152.7 508.6h2.0v1.4h-2.0zM1130.6 514.8h3.5v2.5h-3.5zM1131.0 513.4h2.7v1.9h-2.7zM797.1 496.3h2.6v1.8h-2.6zM794.9 496.0h2.5v1.8h-2.5zM789.9 494.7h3.2v2.2h-3.2zM1255.9 517.6h3.4v2.4h-3.4zM1252.9 519.6h2.2v1.6h-2.2zM1239.6 518.6h2.9v2.0h-2.9zM815.1 494.5h3.3v2.3h-3.3zM848.0 502.9h2.4v1.7h-2.4zM848.3 503.6h3.4v2.3h-3.4zM1247.3 521.8h2.2v1.6h-2.2zM803.9 495.1h3.4v2.3h-3.4zM805.6 496.9h2.3v1.6h-2.3zM1247.6 517.5h3.5v2.5h-3.5zM1244.1 517.1h2.8v1.9h-2.8zM1249.0 516.6h3.4v2.4h-3.4z" fill="#dcc828" opacity="0.85"/>
<path d="M568.5 498.9h3.6v2.5h-3.6zM566.3 497.9h3.5v2.4h-3.5zM1030.5 507.5h2.2v1.6h-2.2zM1025.0 507.8h3.2v2.2h-3.2zM548.0 497.2h1.9v1.3h-1.9zM739.3 498.2h3.6v2.6h-3.6zM1142.9 509.4h2.9v2.0h-2.9zM1022.4 505.3h3.2v2.2h-3.2zM1019.8 505.1h2.5v1.7h-2.5zM1023.6 504.8h2.3v1.6h-2.3zM1081.2 509.2h2.3v1.6h-2.3zM1080.4 511.0h2.9v2.0h-2.9zM1194.7 518.3h1.8v1.3h-1.8zM1199.2 518.3h2.8v2.0h-2.8zM1250.7 517.6h2.5v1.8h-2.5zM1250.2 516.4h2.8v2.0h-2.8zM1246.6 516.7h2.6v1.8h-2.6zM568.0 500.0h2.3v1.6h-2.3zM566.7 498.4h3.1v2.1h-3.1zM855.3 499.9h2.0v1.4h-2.0zM854.6 500.4h2.2v1.6h-2.2zM851.0 499.8h2.5v1.8h-2.5zM623.0 497.2h2.4v1.7h-2.4zM620.2 495.2h2.2v1.5h-2.2zM618.9 495.1h2.0v1.4h-2.0zM920.1 499.9h2.1v1.5h-2.1zM921.0 501.6h3.3v2.3h-3.3zM684.3 497.0h2.7v1.9h-2.7zM686.1 497.1h3.1v2.2h-3.1zM998.3 505.0h2.0v1.4h-2.0zM497.9 504.7h3.6v2.5h-3.6zM504.0 503.6h3.0v2.1h-3.0zM501.0 505.1h2.4v1.7h-2.4zM607.1 493.5h2.2v1.5h-2.2zM606.6 492.7h2.7v1.9h-2.7zM602.5 492.9h3.7v2.6h-3.7zM971.2 501.1h2.0v1.4h-2.0zM967.6 502.3h2.3v1.6h-2.3zM967.4 500.8h1.8v1.3h-1.8zM714.2 498.8h3.7v2.6h-3.7zM711.8 497.7h2.8v1.9h-2.8zM974.2 497.4h3.7v2.6h-3.7zM1256.4 522.4h2.3v1.6h-2.3zM1259.2 522.5h3.8v2.6h-3.8zM1256.4 523.5h2.7v1.9h-2.7zM501.2 502.2h2.7v1.9h-2.7zM914.7 501.5h3.3v2.3h-3.3zM913.3 502.3h3.6v2.5h-3.6zM777.6 499.3h3.2v2.3h-3.2zM778.0 500.0h2.4v1.7h-2.4zM748.4 499.4h2.5v1.7h-2.5zM749.5 499.4h3.1v2.2h-3.1zM748.4 499.5h2.6v1.8h-2.6zM1143.7 513.9h2.4v1.7h-2.4zM887.2 503.8h2.9v2.0h-2.9zM887.6 502.4h2.7v1.9h-2.7zM887.6 503.4h3.5v2.4h-3.5zM1084.6 509.5h2.3v1.6h-2.3zM1089.2 509.1h2.3v1.6h-2.3zM965.2 504.8h3.3v2.3h-3.3zM959.4 504.7h2.5v1.8h-2.5zM927.6 504.9h2.7v1.9h-2.7zM1171.8 514.9h2.7v1.9h-2.7zM1169.0 514.7h2.5v1.8h-2.5zM1152.9 513.7h2.6v1.8h-2.6zM1157.3 514.2h2.5v1.8h-2.5zM1150.2 513.6h3.7v2.6h-3.7zM829.1 495.6h3.3v2.3h-3.3zM824.4 495.5h3.4v2.4h-3.4zM830.7 494.2h2.4v1.7h-2.4zM1022.2 503.8h2.1v1.5h-2.1zM1023.0 503.1h3.4v2.4h-3.4zM1023.3 504.1h2.3v1.6h-2.3zM747.2 494.9h2.6v1.8h-2.6zM746.1 496.9h2.6v1.8h-2.6zM745.7 495.1h3.7v2.6h-3.7zM922.8 505.0h2.1v1.5h-2.1zM921.0 504.5h2.5v1.8h-2.5zM919.0 505.4h2.8v2.0h-2.8zM1020.5 499.9h2.8v2.0h-2.8zM767.7 492.8h3.4v2.4h-3.4zM771.5 493.5h3.4v2.4h-3.4zM771.1 493.8h2.4v1.7h-2.4zM917.3 505.0h2.9v2.0h-2.9zM913.4 504.1h2.9v2.0h-2.9zM916.5 505.5h1.8v1.3h-1.8zM901.0 496.5h2.4v1.7h-2.4zM1219.5 514.7h3.3v2.3h-3.3zM1223.7 515.7h3.2v2.2h-3.2zM1219.8 516.5h1.9v1.3h-1.9zM686.0 497.9h2.9v2.0h-2.9zM690.0 498.2h3.6v2.5h-3.6zM516.1 497.9h2.4v1.7h-2.4zM759.4 495.5h3.8v2.6h-3.8zM759.1 496.8h2.8v2.0h-2.8zM769.1 493.7h3.3v2.3h-3.3zM897.2 500.2h3.1v2.1h-3.1zM894.1 500.1h2.3v1.6h-2.3zM896.5 501.1h2.2v1.5h-2.2zM713.9 501.9h2.3v1.6h-2.3zM814.9 496.1h2.2v1.5h-2.2zM813.2 494.7h1.9v1.3h-1.9zM841.8 502.1h3.2v2.2h-3.2zM1135.5 512.4h3.5v2.5h-3.5z" fill="#d0c845" opacity="0.65"/>
<path d="M668.4 495.6h2.5v1.8h-2.5zM666.6 494.9h2.8v2.0h-2.8zM667.0 496.8h3.6v2.5h-3.6zM968.1 499.5h2.1v1.5h-2.1zM845.4 501.9h3.0v2.1h-3.0zM1026.8 506.0h2.7v1.9h-2.7zM1028.3 506.5h3.3v2.3h-3.3zM1025.9 507.4h3.7v2.6h-3.7zM1138.6 514.7h3.8v2.6h-3.8zM1137.2 513.8h2.3v1.6h-2.3zM599.6 499.3h3.1v2.2h-3.1zM1009.2 497.6h2.8v2.0h-2.8zM1004.4 499.2h1.9v1.3h-1.9zM1003.6 497.9h2.6v1.8h-2.6zM760.7 499.9h2.3v1.6h-2.3zM765.7 498.6h2.9v2.0h-2.9zM848.8 496.7h2.5v1.7h-2.5zM846.8 496.8h3.4v2.3h-3.4zM942.0 500.8h3.1v2.2h-3.1zM941.4 500.4h3.3v2.3h-3.3zM945.3 500.8h2.9v2.0h-2.9zM609.7 500.6h2.2v1.6h-2.2zM662.8 498.4h3.7v2.6h-3.7zM667.9 497.9h3.0v2.1h-3.0zM664.0 498.5h2.4v1.7h-2.4zM693.6 497.4h3.8v2.7h-3.8zM932.1 502.3h2.4v1.7h-2.4zM932.7 501.5h3.7v2.6h-3.7zM969.1 498.9h2.4v1.7h-2.4zM842.6 494.6h3.3v2.3h-3.3zM838.8 496.6h3.7v2.6h-3.7zM841.0 494.8h3.1v2.2h-3.1zM590.8 497.4h3.4v2.4h-3.4zM820.1 499.0h3.0v2.1h-3.0zM820.4 499.7h3.4v2.4h-3.4zM821.5 499.2h2.2v1.5h-2.2zM1276.7 515.9h3.5v2.5h-3.5zM1280.6 516.9h1.8v1.3h-1.8zM1159.5 512.1h2.9v2.1h-2.9zM1163.1 513.4h1.9v1.3h-1.9zM1055.9 500.9h2.9v2.0h-2.9zM1053.1 500.1h3.3v2.3h-3.3zM1052.5 500.1h3.2v2.3h-3.2zM692.8 493.9h2.1v1.4h-2.1zM697.4 492.1h3.2v2.2h-3.2zM674.6 490.8h1.8v1.3h-1.8zM676.7 490.4h3.0v2.1h-3.0zM1014.6 502.3h3.6v2.5h-3.6zM1015.8 503.9h3.8v2.6h-3.8zM1010.9 503.8h3.5v2.5h-3.5zM635.8 496.0h3.6v2.5h-3.6zM1063.7 508.4h2.3v1.6h-2.3zM1058.9 509.0h2.6v1.8h-2.6zM656.5 496.4h3.5v2.4h-3.5zM655.8 498.2h2.3v1.6h-2.3zM1139.2 508.9h2.5v1.7h-2.5zM1138.6 508.0h2.9v2.0h-2.9zM1205.8 512.3h2.7v1.9h-2.7zM1205.6 511.4h3.5v2.5h-3.5zM1209.7 511.3h3.3v2.3h-3.3zM979.0 504.3h3.2v2.2h-3.2zM1100.5 503.5h3.5v2.4h-3.5zM1099.6 503.5h3.4v2.4h-3.4zM1073.7 506.6h1.9v1.4h-1.9zM1070.7 506.2h3.5v2.5h-3.5zM1073.6 508.1h2.1v1.5h-2.1zM718.9 497.8h3.0v2.1h-3.0zM715.4 497.5h3.4v2.4h-3.4zM713.9 497.6h2.3v1.6h-2.3zM648.9 498.6h2.1v1.5h-2.1zM643.4 498.2h2.5v1.8h-2.5zM648.2 498.6h2.8v1.9h-2.8zM988.6 505.9h1.9v1.3h-1.9zM991.9 506.0h2.7v1.9h-2.7zM988.3 502.1h3.7v2.6h-3.7zM1070.5 502.1h1.8v1.3h-1.8zM1070.6 501.5h3.2v2.2h-3.2zM555.3 502.1h1.8v1.3h-1.8zM556.6 501.7h2.3v1.6h-2.3zM553.9 503.4h2.3v1.6h-2.3zM894.5 499.1h3.3v2.3h-3.3zM652.0 498.3h2.8v2.0h-2.8zM652.5 498.3h3.3v2.3h-3.3zM653.4 499.3h2.7v1.9h-2.7zM612.4 500.1h3.3v2.3h-3.3zM611.3 500.3h3.5v2.4h-3.5zM1216.0 516.0h3.5v2.4h-3.5zM1216.2 516.5h3.6v2.5h-3.6zM1218.0 515.5h2.2v1.5h-2.2zM1036.5 508.2h1.9v1.3h-1.9zM1037.7 508.7h2.5v1.8h-2.5zM1042.3 506.8h3.6v2.5h-3.6zM1014.3 501.9h2.3v1.6h-2.3zM1012.7 502.8h2.4v1.7h-2.4zM1013.6 502.2h3.1v2.2h-3.1zM1017.5 504.5h2.0v1.4h-2.0zM634.6 496.3h3.7v2.6h-3.7zM633.3 496.6h3.8v2.7h-3.8zM597.2 492.0h3.6v2.5h-3.6zM598.8 491.0h3.5v2.4h-3.5zM601.3 492.9h2.6v1.8h-2.6zM857.7 500.4h2.6v1.8h-2.6zM856.0 500.1h2.9v2.1h-2.9zM854.3 500.9h2.8v2.0h-2.8zM684.0 494.5h2.9v2.0h-2.9zM685.0 493.9h3.6v2.5h-3.6zM820.2 498.0h2.0v1.4h-2.0zM822.6 498.0h2.3v1.6h-2.3zM822.4 498.7h2.6v1.8h-2.6z" fill="#e4bf5e" opacity="0.35"/>
<path d="M1297.7 555.3Q1299.1 543.7 1307.2 535.9M1297.7 555.6Q1297.6 547.6 1296.3 542.4M1301.3 554.2Q1302.8 548.4 1306.8 544.6M1295.9 557.9Q1296.4 547.2 1298.9 540.0M1293.3 545.5Q1295.1 534.3 1301.9 526.8M1298.0 557.3Q1298.9 543.6 1300.5 534.5M1293.1 545.6Q1293.9 540.5 1295.9 537.1M1305.2 555.3Q1306.0 549.8 1307.4 546.1M1294.2 548.8Q1298.0 533.3 1308.7 522.9M1296.7 558.7Q1295.9 552.8 1294.9 548.8M1295.1 555.1Q1297.3 540.6 1302.2 531.0" fill="none" stroke="#9dbb8a" stroke-width="0.80" stroke-linecap="round" opacity="0.60"/>
<path d="M1302.4 558.7Q1304.1 551.8 1307.2 547.2M1305.3 558.2Q1303.9 545.0 1301.5 536.3M1304.6 555.1Q1308.4 540.4 1319.2 530.5M1305.0 558.3Q1305.7 549.0 1310.0 542.7M1297.4 555.5Q1300.0 541.0 1307.1 531.3M1300.7 557.8Q1302.8 542.9 1312.4 533.0M1299.6 558.4Q1301.3 545.0 1304.7 536.1M1301.9 554.9Q1303.6 543.3 1309.3 535.6M1304.5 556.4Q1307.8 544.1 1316.7 535.9" fill="none" stroke="#b4cca6" stroke-width="0.70" stroke-linecap="round" opacity="0.60"/>
<path d="M1321.6 555.5Q1322.5 547.1 1325.8 541.4M1332.8 555.7Q1333.4 549.2 1332.1 544.8M1324.3 555.8Q1324.2 547.8 1325.7 542.4M1328.2 557.7Q1329.2 545.0 1332.6 536.5M1327.0 559.0Q1329.5 547.8 1335.6 540.3M1326.2 557.5Q1325.7 549.9 1323.5 544.8M1330.2 558.9Q1332.5 545.9 1338.3 537.1M1328.5 558.9Q1331.2 544.0 1340.1 534.2M1330.9 556.7Q1331.8 542.2 1339.5 532.5M1331.6 558.1Q1333.7 546.5 1338.4 538.7M1325.7 555.9Q1326.4 550.6 1329.0 547.0M1323.1 557.2Q1325.0 545.4 1327.6 537.5M1331.0 554.6Q1331.8 542.4 1334.9 534.4M1328.8 555.3Q1329.5 546.4 1332.9 540.4" fill="none" stroke="#9dbb8a" stroke-width="0.80" stroke-linecap="round" opacity="0.60"/>
<path d="M1319.5 555.3Q1322.0 542.1 1328.4 533.4M1326.9 555.4Q1326.7 545.5 1329.6 538.9M1323.0 557.2Q1324.1 548.8 1327.0 543.1M1326.1 558.2Q1328.7 541.4 1336.3 530.2M1328.3 555.4Q1330.1 539.8 1340.3 529.4M1328.8 555.8Q1328.5 549.2 1330.6 544.7M1329.2 556.7Q1331.9 545.0 1339.3 537.2M1325.1 557.5Q1326.5 547.5 1334.9 540.9M1322.3 556.3Q1323.7 548.0 1329.3 542.4M1327.6 554.0Q1329.7 537.8 1334.1 527.0M1319.9 557.4Q1320.1 545.3 1324.6 537.3M1329.7 554.6Q1329.7 547.5 1332.7 542.7" fill="none" stroke="#b4cca6" stroke-width="0.70" stroke-linecap="round" opacity="0.60"/>
<path d="M1325.1 557.2Q1327.0 541.8 1331.3 531.5M1325.2 557.5Q1327.2 541.8 1333.2 531.3M1319.2 556.1Q1319.4 544.0 1324.6 535.9M1326.4 555.6Q1329.0 541.3 1335.2 531.8M1319.5 557.1Q1319.4 543.9 1315.4 535.2M1328.5 554.2Q1329.7 537.5 1337.1 526.4M1322.1 556.5Q1323.4 547.0 1326.1 540.7" fill="none" stroke="#f4f6f0" stroke-width="0.80" stroke-linecap="round" opacity="0.50"/>
</g>
<g clip-path="url(#skyclip)"><path d="M-20.0 436.9C-16.7 438.1 -8.3 441.3 0.0 444.4C8.3 447.5 19.7 451.6 30.0 455.6C40.3 459.6 51.9 464.2 61.6 468.5C71.3 472.8 79.0 476.9 88.0 481.4C97.0 485.9 103.5 489.2 115.5 495.4C127.5 501.6 144.6 509.7 160.0 518.4C175.4 527.1 195.8 540.0 207.8 547.8C219.8 555.6 228.0 562.1 232.0 565.0" fill="none" stroke="#a3c090" stroke-width="9.5" filter="url(#b6)"/><path d="M-20.0 439.3C-16.7 440.6 -8.3 443.7 0.0 446.8C8.3 449.9 19.7 454.0 30.0 458.0C40.3 462.0 51.9 466.6 61.6 470.9C71.3 475.2 79.0 479.3 88.0 483.8C97.0 488.3 103.5 491.6 115.5 497.8C127.5 504.0 144.6 512.1 160.0 520.8C175.4 529.5 195.5 542.7 207.8 550.2C220.1 557.7 229.6 563.4 234.0 566.0" fill="none" stroke="#9dbb8a" stroke-width="4" filter="url(#b1)" opacity="0.8"/><path d="M232.0 565.0C235.0 564.3 244.0 562.7 250.0 561.0C256.0 559.3 261.3 556.7 268.0 555.0C274.7 553.3 278.0 551.6 290.0 550.7C302.0 549.8 321.4 550.1 340.0 549.6C358.6 549.1 384.5 548.6 401.6 548.0C418.7 547.4 433.3 546.6 442.7 546.0C452.1 545.4 454.2 545.3 458.0 544.4C461.8 543.5 464.0 541.5 465.3 540.8C466.6 540.1 465.4 541.5 466.0 540.0C466.6 538.5 468.5 533.3 469.0 532.0" fill="none" stroke="#9dbb8a" stroke-width="6.8" filter="url(#b1)"/><path d="M466.0 527.0C466.7 526.1 464.3 522.9 470.0 521.5C475.7 520.1 491.7 519.6 500.0 518.8C508.3 518.0 512.0 517.6 520.0 516.7C528.0 515.9 536.3 514.5 548.0 513.7C559.7 513.0 576.0 512.6 590.0 512.2C604.0 511.8 615.3 511.5 632.0 511.4C648.7 511.3 672.0 511.4 690.0 511.5C708.0 511.6 718.3 511.9 740.0 512.2C761.7 512.5 794.3 513.0 820.0 513.5C845.7 514.0 869.0 514.6 894.0 515.2C919.0 515.8 945.7 516.3 970.0 517.0C994.3 517.7 1018.3 518.4 1040.0 519.3C1061.7 520.2 1080.8 521.4 1100.0 522.5C1119.2 523.6 1133.0 524.6 1155.0 526.1C1177.0 527.6 1212.8 530.0 1232.0 531.5C1251.2 533.0 1260.4 534.3 1270.0 535.3C1279.6 536.3 1285.8 536.7 1289.5 537.5C1293.2 538.3 1291.6 538.2 1292.5 540.0C1293.4 541.8 1294.1 545.2 1295.0 548.0C1295.9 550.8 1297.5 555.5 1298.0 557.0" fill="none" stroke="#9dbb8a" stroke-width="6.8" filter="url(#b1)"/><path d="M1487.6 560.2C1489.6 559.6 1496.0 557.7 1499.7 556.5C1503.4 555.3 1507.2 554.1 1510.0 553.2C1512.8 552.3 1514.2 551.9 1516.7 551.0C1519.2 550.1 1521.4 549.1 1525.3 548.0C1529.2 546.9 1534.4 545.4 1540.0 544.2C1545.6 543.0 1552.3 541.9 1559.0 541.0C1565.7 540.1 1576.5 539.2 1580.0 538.9" fill="none" stroke="#94b67f" stroke-width="5" filter="url(#b1)"/><path d="M1487.6 561.2C1489.6 560.6 1496.0 558.7 1499.7 557.5C1503.4 556.3 1507.2 555.1 1510.0 554.2C1512.8 553.3 1514.2 552.9 1516.7 552.0C1519.2 551.1 1521.4 550.1 1525.3 549.0C1529.2 547.9 1534.4 546.4 1540.0 545.2C1545.6 544.0 1552.3 542.9 1559.0 542.0C1565.7 541.1 1576.5 540.2 1580.0 539.9" fill="none" stroke="#7c9c69" stroke-width="1.6" filter="url(#b5)" opacity="0.9"/></g>
<g filter="url(#b5)"><path d="M-20.0 441.5C-16.7 442.8 -8.3 445.9 0.0 449.0C8.3 452.1 19.7 456.2 30.0 460.2C40.3 464.2 51.9 468.8 61.6 473.1C71.3 477.4 79.0 481.5 88.0 486.0C97.0 490.5 103.5 493.8 115.5 500.0C127.5 506.2 144.6 514.3 160.0 523.0C175.4 531.7 194.3 544.0 207.8 552.4C221.3 560.8 235.6 570.0 241.2 573.5" fill="none" stroke="#7a8d72" stroke-width="1.9" opacity="0.9"/></g>
<path d="M1345 565.2L1459 565.2" fill="none" stroke="#a9ae8c" stroke-width="3" filter="url(#b1)" opacity="0.7"/><path d="M1299.0 560.0C1303.5 560.1 1318.3 560.3 1326.0 560.6C1333.7 560.9 1332.7 561.4 1345.0 561.6C1357.3 561.8 1381.0 561.9 1400.0 561.9C1419.0 561.9 1449.2 561.9 1459.0 561.9" fill="none" stroke="#98b884" stroke-width="5.2" filter="url(#b1)"/><path d="M1326 568.9L1461 568.9" fill="none" stroke="#8f9597" stroke-width="1" opacity="0.6"/>
<g filter="url(#b3)">
<path d="M233 564Q246 556 262 553.5L280 552L276 557Q268 563 262 569L250 574L242 573Z" fill="#a6c596" opacity="0.9"/>
<path d="M1291 541L1296 545L1302 556L1310 558L1312 562L1298 562L1294 552Z" fill="#a3c293" opacity="0.85"/>
<path d="M1316 561L1320 553L1327 549L1333 551L1336 556L1336 562Z" fill="#a3c293" opacity="0.85"/>
</g>
<g filter="url(#b2)">
<path d="M231.5 564.4Q233.2 559.5 236.3 556.2M266.7 555.7Q268.2 549.8 269.9 545.8M247.7 567.1Q247.2 557.2 249.4 550.5M240.1 568.2Q240.0 562.2 241.5 558.2M268.7 552.9Q269.9 544.0 270.6 538.1M250.5 565.3Q252.3 557.2 255.2 551.8M223.3 556.9Q223.3 549.4 220.5 544.4M258.2 561.2Q259.1 555.1 262.9 551.0M243.8 565.8Q244.9 559.1 245.3 554.6M209.2 549.1Q209.9 542.7 215.3 538.5M215.8 553.9Q215.4 549.3 218.2 546.2M239.1 566.7Q239.8 556.8 244.6 550.2M261.8 559.4Q262.4 554.9 264.5 551.9M270.1 552.8Q270.4 546.7 275.7 542.6M248.6 565.6Q250.0 559.9 250.8 556.2M228.5 563.2Q229.2 556.2 230.6 551.5M247.2 563.9Q247.1 559.7 250.2 556.9M221.8 558.4Q222.1 548.5 219.3 541.9M221.6 557.9Q221.3 551.1 224.1 546.6M239.1 568.6Q239.9 560.4 243.5 555.0M246.3 565.4Q246.2 560.3 247.7 556.9M272.7 551.4Q273.0 546.6 270.9 543.4M273.7 553.8Q273.8 548.7 277.4 545.3M218.8 552.5Q219.4 545.4 225.3 540.7M260.6 558.2Q262.0 550.7 264.7 545.6M223.2 555.8Q224.3 547.8 229.3 542.5M212.0 551.8Q211.1 542.5 211.3 536.3M252.9 560.8Q254.0 556.0 255.4 552.8M234.2 566.0Q234.8 559.9 237.4 555.8M240.3 568.7Q239.6 563.0 238.5 559.1M262.7 556.4Q262.5 551.7 265.0 548.5M271.9 551.5Q271.4 541.6 274.2 534.9M240.2 570.7Q241.4 562.4 246.2 556.8M244.9 567.0Q246.1 561.8 246.4 558.3M243.8 567.2Q243.9 563.4 245.5 560.9M240.6 567.2Q241.2 560.0 245.0 555.3M233.4 565.9Q234.3 557.6 238.5 552.1M241.5 566.5Q242.7 559.1 244.2 554.2M208.3 546.3Q209.4 540.1 209.9 536.1M246.7 565.7Q247.1 556.9 248.6 551.0M233.9 562.5Q235.4 555.9 240.1 551.4M235.9 567.2Q237.1 559.8 242.3 554.8M254.0 561.3Q254.0 552.2 258.8 546.1M242.6 568.4Q242.7 561.1 244.9 556.3M254.0 561.5Q255.8 554.5 259.0 549.8M241.3 568.0Q240.6 564.3 242.4 561.8M210.6 550.9Q210.5 546.0 213.1 542.7M224.2 557.7Q224.3 549.3 222.3 543.6M258.6 557.2Q260.0 553.2 262.3 550.5M273.4 554.5Q273.9 550.7 274.5 548.1M232.2 565.0Q234.1 557.5 237.9 552.6M248.9 566.5Q248.9 560.1 253.3 555.8M235.1 567.4Q235.4 558.3 238.5 552.1M256.9 562.5Q257.7 558.6 260.7 556.1M223.5 558.1Q223.1 551.8 224.6 547.6M240.3 568.0Q241.8 562.9 243.9 559.5M242.4 570.4Q243.7 562.8 246.5 557.7M209.8 550.6Q210.6 545.9 210.7 542.7M244.4 565.9Q244.9 561.0 247.7 557.8M212.3 552.1Q213.2 546.4 214.2 542.6M206.4 548.0Q207.5 541.7 211.1 537.6M257.6 559.0Q258.6 550.2 264.4 544.4M222.6 559.4Q223.4 553.4 222.1 549.4M270.1 555.4Q271.1 545.7 272.8 539.3M272.5 552.7Q275.0 543.6 281.3 537.5M246.1 564.2Q247.7 554.7 253.8 548.5M243.6 567.1Q243.1 558.7 241.0 553.0M245.5 566.1Q246.0 558.1 250.1 552.7M253.2 564.1Q252.0 556.3 250.5 551.1M217.5 552.8Q216.6 546.7 216.6 542.6M228.2 559.8Q228.9 551.6 233.6 546.1M252.2 561.3Q254.2 554.0 259.0 549.2M271.8 555.3Q272.1 548.8 271.2 544.5M216.4 551.6Q216.8 544.8 218.2 540.3M270.0 553.5Q271.6 547.6 273.5 543.6M210.7 547.5Q211.0 543.5 212.7 540.8M243.3 569.4Q243.7 564.7 246.1 561.6M216.6 551.6Q217.6 544.1 224.0 539.0M218.9 552.7Q219.0 545.6 222.9 540.8M256.9 558.8Q257.4 553.7 260.4 550.2M270.9 554.3Q271.7 546.5 272.7 541.3M274.3 553.7Q276.7 544.2 283.4 537.9M246.9 565.3Q248.8 556.2 253.7 550.1M233.8 564.9Q233.9 558.8 232.0 554.8M246.1 564.8Q247.0 559.3 249.4 555.7M252.9 563.5Q254.3 555.8 259.7 550.7M205.3 545.7Q207.6 536.7 212.1 530.7M257.7 561.3Q257.2 557.6 260.0 555.0M217.2 554.0Q217.9 549.4 216.0 546.3M236.4 565.0Q237.3 557.4 240.9 552.3M257.5 561.9Q258.5 552.5 265.0 546.3M262.5 557.7Q263.7 551.4 267.8 547.1M248.9 566.2Q249.9 558.2 253.8 552.9M212.8 550.1Q213.3 546.1 215.5 543.4M239.7 568.2Q240.8 564.6 242.1 562.2M222.8 556.1Q223.2 551.1 226.4 547.8M230.5 561.0Q232.3 551.3 238.0 544.8M207.2 546.2Q206.7 538.7 209.5 533.6" fill="none" stroke="#9dbb8a" stroke-width="0.90" stroke-linecap="round" opacity="0.60"/>
<path d="M239.2 569.4Q239.6 560.7 241.5 555.0M268.4 555.3Q268.8 550.8 271.4 547.8M208.7 550.8Q208.6 543.4 213.0 538.6M254.3 563.5Q255.0 558.8 255.7 555.6M247.8 566.7Q248.6 558.0 253.4 552.1M247.3 564.3Q247.9 558.0 250.3 553.8M247.8 567.9Q248.4 559.9 252.7 554.6M256.3 560.0Q257.3 551.0 262.0 545.0M273.5 550.9Q274.8 545.4 275.3 541.7M237.6 566.1Q238.3 556.9 236.3 550.8M248.2 565.1Q249.1 561.3 248.9 558.7M232.7 564.1Q232.9 559.9 236.8 557.1M207.6 547.4Q208.6 538.0 209.6 531.8M207.4 549.9Q207.6 541.1 206.6 535.1M217.2 552.0Q218.1 546.6 220.1 543.0M274.2 554.0Q276.0 544.9 281.6 538.7M228.7 562.3Q229.4 552.2 234.9 545.6M254.9 561.4Q256.0 552.8 260.5 547.0M225.8 560.7Q226.4 555.8 225.1 552.5M227.9 559.6Q229.3 550.6 231.7 544.6M273.7 551.0Q275.0 547.4 277.2 544.9M205.4 545.0Q206.1 535.7 213.3 529.5M267.7 554.4Q268.1 544.6 274.4 538.1M206.6 547.8Q206.1 542.3 208.1 538.6M221.7 556.6Q223.6 548.6 226.7 543.3M268.8 553.6Q269.2 544.2 272.9 537.9M239.0 567.0Q240.7 557.1 244.4 550.5M241.1 567.7Q241.0 562.5 244.8 559.1M268.5 553.8Q270.7 543.7 276.8 537.0M217.8 554.7Q220.6 545.1 227.2 538.8M256.4 561.3Q258.0 553.7 261.3 548.6M244.1 565.3Q245.5 556.8 251.8 551.2M218.6 553.4Q220.2 544.3 222.6 538.2M206.7 549.2Q207.6 544.8 208.8 541.9M273.7 553.5Q274.0 546.5 278.2 541.8M230.9 563.6Q231.6 558.6 234.8 555.3M267.1 553.1Q268.9 548.3 271.7 545.0M246.9 566.7Q249.1 558.0 253.2 552.2M265.9 557.1Q265.8 553.0 269.7 550.3M242.8 569.7Q243.2 562.3 248.8 557.3M235.7 563.2Q235.1 558.4 237.2 555.3M235.5 562.9Q234.2 552.9 231.7 546.2M261.1 557.1Q262.6 548.7 267.3 543.1M241.0 569.2Q240.9 565.5 244.0 563.0M215.6 554.2Q217.3 544.8 221.0 538.6M256.3 561.9Q256.7 553.4 261.0 547.7M232.2 562.9Q233.1 553.9 234.7 547.9M246.1 564.7Q246.7 560.0 247.8 556.9M273.6 551.5Q273.1 545.7 275.5 541.9M258.8 561.3Q259.6 555.3 264.2 551.2M243.1 567.2Q243.3 561.9 244.7 558.4M221.8 556.0Q222.5 551.2 223.6 548.0M244.2 569.3Q244.4 562.6 248.7 558.1M268.4 554.8Q269.8 545.8 271.0 539.8M225.9 560.6Q226.4 550.7 232.6 544.2M250.3 561.8Q251.4 555.1 251.7 550.6M237.1 568.6Q237.3 564.0 238.6 560.8M227.7 562.6Q228.6 558.2 232.0 555.3M246.5 567.9Q246.7 560.3 252.0 555.2M216.8 553.0Q217.1 547.4 218.6 543.7M253.2 562.0Q255.2 552.1 258.6 545.4M224.8 557.5Q226.0 550.2 231.5 545.4M219.2 556.4Q219.1 552.3 220.9 549.6M259.9 560.0Q258.6 555.5 258.2 552.5M224.5 560.5Q225.0 552.9 227.4 547.7M270.8 555.8Q272.5 547.1 276.1 541.3M246.7 564.6Q246.1 554.9 244.0 548.4M212.2 550.2Q214.1 541.1 217.3 535.1M235.7 567.2Q235.1 559.1 237.4 553.7M209.6 547.9Q210.8 541.3 215.5 537.0" fill="none" stroke="#b7cfa9" stroke-width="0.80" stroke-linecap="round" opacity="0.60"/>
<path d="M218.0 556.2Q219.9 548.2 225.3 542.9M265.4 555.1Q266.5 550.0 266.9 546.6M207.2 547.4Q207.4 543.6 210.5 541.1M231.9 565.4Q233.2 558.0 236.7 553.0M253.8 563.6Q254.6 559.2 257.8 556.3M251.5 563.5Q253.7 555.5 258.0 550.2M264.8 554.6Q266.4 546.5 271.5 541.0M251.3 563.8Q250.9 554.6 249.3 548.5M260.6 557.5Q262.8 547.9 269.7 541.5M274.6 553.0Q275.6 547.6 277.4 544.0M269.9 551.4Q271.1 542.9 273.4 537.3M242.5 569.4Q244.8 562.3 249.2 557.5M248.0 564.9Q248.4 561.0 251.0 558.4M212.3 552.5Q213.6 545.4 215.2 540.6M214.7 549.9Q215.1 545.9 218.4 543.2M217.7 555.7Q219.5 548.6 222.1 543.8M260.6 560.1Q260.8 550.7 262.4 544.4M205.9 548.2Q206.3 540.1 212.6 534.7M265.8 557.7Q267.8 549.5 271.0 544.0M259.8 558.4Q260.1 552.2 258.6 548.1M235.9 564.9Q235.7 559.6 237.1 556.0M252.4 563.3Q253.8 555.5 256.1 550.3M253.2 560.4Q254.5 555.6 256.5 552.3M226.0 557.5Q227.6 547.7 234.0 541.2M211.0 551.5Q210.8 545.8 213.8 542.1M256.7 560.6Q257.7 554.6 261.1 550.6M265.0 554.0Q264.8 548.9 267.2 545.5M249.5 566.4Q249.2 561.1 250.8 557.5M248.8 562.7Q250.2 555.6 255.7 550.8M222.2 557.7Q222.6 550.6 221.2 545.9M231.3 561.6Q231.7 556.6 230.3 553.2M244.8 567.9Q245.0 558.3 248.5 551.9M225.0 557.8Q227.0 548.4 230.7 542.2M229.3 561.9Q230.7 555.9 231.1 551.9M266.9 556.7Q268.6 547.4 275.0 541.1M226.2 561.3Q226.5 555.7 225.4 552.0M226.5 562.1Q228.0 557.5 229.8 554.5M225.9 558.4Q226.9 549.0 228.7 542.7M233.0 563.5Q234.2 555.0 239.4 549.3M274.8 551.0Q275.3 546.8 277.7 544.1M269.4 554.0Q268.5 549.5 268.8 546.5M273.3 554.9Q275.0 545.7 277.3 539.5" fill="none" stroke="#eef3ea" stroke-width="0.80" stroke-linecap="round" opacity="0.50"/>
</g>
<path d="M270.0 558.0C273.3 557.3 278.3 554.9 290.0 554.0C301.7 553.1 321.4 553.4 340.0 552.9C358.6 552.4 384.5 551.9 401.6 551.3C418.7 550.7 433.3 549.9 442.7 549.3C452.1 548.7 454.2 548.6 458.0 547.7C461.8 546.8 463.2 546.1 465.3 544.1C467.4 542.1 469.4 539.0 470.4 535.9C471.4 532.8 470.9 527.7 471.4 525.7C471.9 523.7 473.1 524.4 473.5 524.1C477.9 523.8 492.2 522.8 500.0 522.1C507.8 521.4 512.0 520.9 520.0 520.0C528.0 519.1 536.3 517.8 548.0 517.0C559.7 516.2 576.0 515.9 590.0 515.5C604.0 515.1 615.3 514.8 632.0 514.7C648.7 514.6 672.0 514.7 690.0 514.8C708.0 514.9 718.3 515.2 740.0 515.5C761.7 515.8 794.3 516.3 820.0 516.8C845.7 517.3 869.0 517.9 894.0 518.5C919.0 519.1 945.7 519.6 970.0 520.3C994.3 521.0 1018.3 521.7 1040.0 522.6C1061.7 523.5 1080.8 524.7 1100.0 525.8C1119.2 526.9 1133.0 527.9 1155.0 529.4C1177.0 530.9 1212.8 533.3 1232.0 534.8C1251.2 536.3 1260.4 537.6 1270.0 538.6C1279.6 539.6 1286.2 540.4 1289.5 540.8L1296.2 561" fill="none" stroke="#6c8763" stroke-width="1.5" opacity="0.9"/>
<path d="M61.6 359.2C64.1 358.5 66.2 359.8 69.3 360.8C72.4 361.8 76.5 363.5 80.0 365.4C83.6 367.3 88.0 370.1 90.8 372.3C93.6 374.5 95.2 376.2 97.0 378.5C98.8 380.8 99.3 383.7 101.6 386.2C103.9 388.6 109.2 391.1 110.8 393.1C112.5 395.2 112.0 396.1 111.6 398.5C111.2 400.9 109.4 404.9 108.5 407.7C107.6 410.6 106.9 413.5 106.2 415.4C105.6 417.4 105.6 418.4 104.7 419.3C103.8 420.2 102.6 421.1 100.8 420.8C99.0 420.6 95.6 417.9 93.9 417.7C92.2 417.6 90.6 418.6 90.8 420.0C91.1 421.5 93.8 424.5 95.4 426.2C97.1 427.9 100.3 428.0 100.8 430.1C101.3 432.1 99.9 436.3 98.5 438.5C97.1 440.7 94.9 441.9 92.4 443.1C89.8 444.4 86.0 446.3 83.1 446.2C80.3 446.1 77.6 443.7 75.4 442.4C73.3 441.1 71.3 439.8 70.0 438.5C68.8 437.2 68.5 435.8 67.7 434.7C67.0 433.5 66.5 432.3 65.4 431.6C64.4 430.9 62.9 430.4 61.6 430.5C60.3 430.6 58.9 431.2 57.7 432.1C56.6 432.9 55.5 434.2 54.6 435.4C53.8 436.6 53.8 438.0 52.3 439.3C50.9 440.6 48.2 442.6 46.2 443.1C44.1 443.7 42.1 442.0 40.0 442.4C38.0 442.8 35.4 445.6 33.9 445.4C32.3 445.3 30.9 443.8 30.8 441.6C30.7 439.4 33.4 435.4 33.1 432.4C32.8 429.3 30.5 426.5 29.2 423.1C28.0 419.8 25.8 415.9 25.4 412.4C25.0 408.8 26.0 405.2 26.9 401.6C27.8 398.0 30.3 393.9 30.8 390.8C31.3 387.7 29.2 386.2 30.0 383.1C30.8 380.0 32.7 375.0 35.4 372.3C38.1 369.6 43.1 368.1 46.2 366.9C49.3 365.8 51.3 366.7 53.9 365.4C56.4 364.1 59.0 360.0 61.6 359.2Z" fill="#8fbb78" stroke="#8fbb78" stroke-width="4" filter="url(#b3)" opacity="0.8"/>
<path d="M61.6 359.2C64.1 358.5 66.2 359.8 69.3 360.8C72.4 361.8 76.5 363.5 80.0 365.4C83.6 367.3 88.0 370.1 90.8 372.3C93.6 374.5 95.2 376.2 97.0 378.5C98.8 380.8 99.3 383.7 101.6 386.2C103.9 388.6 109.2 391.1 110.8 393.1C112.5 395.2 112.0 396.1 111.6 398.5C111.2 400.9 109.4 404.9 108.5 407.7C107.6 410.6 106.9 413.5 106.2 415.4C105.6 417.4 105.6 418.4 104.7 419.3C103.8 420.2 102.6 421.1 100.8 420.8C99.0 420.6 95.6 417.9 93.9 417.7C92.2 417.6 90.6 418.6 90.8 420.0C91.1 421.5 93.8 424.5 95.4 426.2C97.1 427.9 100.3 428.0 100.8 430.1C101.3 432.1 99.9 436.3 98.5 438.5C97.1 440.7 94.9 441.9 92.4 443.1C89.8 444.4 86.0 446.3 83.1 446.2C80.3 446.1 77.6 443.7 75.4 442.4C73.3 441.1 71.3 439.8 70.0 438.5C68.8 437.2 68.5 435.8 67.7 434.7C67.0 433.5 66.5 432.3 65.4 431.6C64.4 430.9 62.9 430.4 61.6 430.5C60.3 430.6 58.9 431.2 57.7 432.1C56.6 432.9 55.5 434.2 54.6 435.4C53.8 436.6 53.8 438.0 52.3 439.3C50.9 440.6 48.2 442.6 46.2 443.1C44.1 443.7 42.1 442.0 40.0 442.4C38.0 442.8 35.4 445.6 33.9 445.4C32.3 445.3 30.9 443.8 30.8 441.6C30.7 439.4 33.4 435.4 33.1 432.4C32.8 429.3 30.5 426.5 29.2 423.1C28.0 419.8 25.8 415.9 25.4 412.4C25.0 408.8 26.0 405.2 26.9 401.6C27.8 398.0 30.3 393.9 30.8 390.8C31.3 387.7 29.2 386.2 30.0 383.1C30.8 380.0 32.7 375.0 35.4 372.3C38.1 369.6 43.1 368.1 46.2 366.9C49.3 365.8 51.3 366.7 53.9 365.4C56.4 364.1 59.0 360.0 61.6 359.2Z" fill="#aec29e" stroke="#6b9a55" stroke-width="1.4" stroke-linejoin="round"/>
<path d="M54 440.5L62.8 431.5L73.5 441L66.5 446L60.5 446Z" fill="#ece6d6"/>
<path d="M63.8 474.0L63.5 448.0" fill="none" stroke="#8e7b6a" stroke-width="6.1" stroke-linecap="butt"/>
<path d="M63.5 448.3L54.0 440.0M63.5 448.3L63.0 433.0M63.5 448.3L73.5 441.0" fill="none" stroke="#8e7b6a" stroke-width="3.1" stroke-linecap="round"/>
<path d="M63.8 474.0L63.5 448.0" fill="none" stroke="#bfad9b" stroke-width="4.8" stroke-linecap="butt"/>
<path d="M63.5 448.3L54.0 440.0M63.5 448.3L63.0 433.0M63.5 448.3L73.5 441.0" fill="none" stroke="#bfad9b" stroke-width="1.9" stroke-linecap="round"/>
<path d="M89.5 460.1C89.5 458.6 90.7 456.2 91.8 454.4C93.0 452.6 95.0 451.1 96.4 449.3C97.7 447.5 98.4 445.3 99.8 443.6C101.1 441.9 102.4 440.1 104.3 439.1C106.2 438.0 108.9 437.4 111.1 437.4C113.4 437.4 115.9 438.7 118.0 439.1C120.0 439.5 121.9 439.0 123.6 439.7C125.3 440.3 126.9 441.6 128.2 443.1C129.5 444.5 130.3 446.6 131.6 448.2C132.9 449.8 134.9 451.1 136.1 452.7C137.4 454.3 138.7 456.2 139.0 457.8C139.3 459.5 138.7 461.2 137.8 462.4C137.0 463.5 135.3 464.2 133.9 464.7C132.4 465.1 130.6 464.7 129.3 465.2C128.0 465.8 127.2 467.4 125.9 468.1C124.6 468.7 122.7 468.9 121.4 469.2C120.0 469.5 119.3 469.5 118.0 469.8C116.6 470.1 114.9 470.4 113.4 470.9C111.9 471.4 110.4 472.5 108.9 472.6C107.3 472.7 105.6 472.2 104.3 471.5C103.0 470.7 102.2 468.9 100.9 468.1C99.6 467.2 97.9 467.1 96.4 466.4C94.8 465.6 93.0 464.6 91.8 463.5C90.7 462.5 89.5 461.6 89.5 460.1Z" fill="#8fbb78" stroke="#8fbb78" stroke-width="4" filter="url(#b3)" opacity="0.8"/>
<path d="M89.5 460.1C89.5 458.6 90.7 456.2 91.8 454.4C93.0 452.6 95.0 451.1 96.4 449.3C97.7 447.5 98.4 445.3 99.8 443.6C101.1 441.9 102.4 440.1 104.3 439.1C106.2 438.0 108.9 437.4 111.1 437.4C113.4 437.4 115.9 438.7 118.0 439.1C120.0 439.5 121.9 439.0 123.6 439.7C125.3 440.3 126.9 441.6 128.2 443.1C129.5 444.5 130.3 446.6 131.6 448.2C132.9 449.8 134.9 451.1 136.1 452.7C137.4 454.3 138.7 456.2 139.0 457.8C139.3 459.5 138.7 461.2 137.8 462.4C137.0 463.5 135.3 464.2 133.9 464.7C132.4 465.1 130.6 464.7 129.3 465.2C128.0 465.8 127.2 467.4 125.9 468.1C124.6 468.7 122.7 468.9 121.4 469.2C120.0 469.5 119.3 469.5 118.0 469.8C116.6 470.1 114.9 470.4 113.4 470.9C111.9 471.4 110.4 472.5 108.9 472.6C107.3 472.7 105.6 472.2 104.3 471.5C103.0 470.7 102.2 468.9 100.9 468.1C99.6 467.2 97.9 467.1 96.4 466.4C94.8 465.6 93.0 464.6 91.8 463.5C90.7 462.5 89.5 461.6 89.5 460.1Z" fill="#a3ba8f" stroke="#6b9a55" stroke-width="1.4" stroke-linejoin="round"/>
<path d="M116.0 499.5L115.7 479.5" fill="none" stroke="#7a5230" stroke-width="4.3" stroke-linecap="butt"/>
<path d="M115.7 479.8L111.0 473.0M115.7 479.8L120.0 470.0" fill="none" stroke="#7a5230" stroke-width="2.4" stroke-linecap="round"/>
<path d="M116.0 499.5L115.7 479.5" fill="none" stroke="#d6bd94" stroke-width="3.0" stroke-linecap="butt"/>
<path d="M115.7 479.8L111.0 473.0M115.7 479.8L120.0 470.0" fill="none" stroke="#d6bd94" stroke-width="1.2" stroke-linecap="round"/>
<path d="M130.5 475.5C130.6 474.1 131.8 473.0 132.7 472.0C133.7 471.1 135.2 471.1 136.1 469.8C137.1 468.4 137.3 465.8 138.4 464.1C139.5 462.4 141.2 460.8 143.0 459.5C144.7 458.3 146.7 457.6 148.6 456.7C150.5 455.9 152.4 454.9 154.3 454.4C156.2 454.0 158.3 453.4 160.0 453.9C161.7 454.3 162.8 456.5 164.5 457.3C166.2 458.0 168.5 457.7 170.2 458.4C171.9 459.2 173.5 460.5 174.8 461.8C176.0 463.1 176.9 464.7 177.6 466.4C178.4 468.1 178.7 470.2 179.3 472.0C180.0 473.9 181.1 475.8 181.6 477.7C182.1 479.6 182.3 481.5 182.2 483.4C182.1 485.3 181.5 487.2 181.0 489.1C180.5 491.0 179.7 492.9 179.3 494.8C178.9 496.7 178.8 498.8 178.8 500.5C178.8 502.2 180.0 504.1 179.3 505.0C178.7 505.9 176.3 505.9 174.8 505.6C173.3 505.2 171.6 503.4 170.2 502.7C168.8 502.1 167.4 502.3 166.2 501.6C165.1 500.9 164.3 499.5 163.4 498.8C162.6 498.0 161.9 497.3 161.1 496.8C160.4 496.4 159.6 496.1 158.9 496.1C158.1 496.2 157.3 496.5 156.6 497.0C155.9 497.6 155.3 498.4 154.5 499.5C153.8 500.7 153.2 502.8 152.0 503.9C150.9 505.0 149.2 505.9 147.5 506.1C145.8 506.3 143.4 505.9 141.8 505.0C140.2 504.1 138.6 502.5 137.8 501.0C137.1 499.5 136.6 497.3 137.3 495.9C137.9 494.5 140.9 493.5 141.8 492.5C142.8 491.5 143.5 490.2 143.0 489.7C142.4 489.1 139.7 489.1 138.4 489.1C137.1 489.1 135.9 490.4 135.0 489.7C134.1 488.9 133.9 486.2 133.3 484.5C132.7 482.9 132.1 481.5 131.6 480.0C131.1 478.5 130.3 476.8 130.5 475.5Z" fill="#8fbb78" stroke="#8fbb78" stroke-width="4" filter="url(#b3)" opacity="0.8"/>
<path d="M130.5 475.5C130.6 474.1 131.8 473.0 132.7 472.0C133.7 471.1 135.2 471.1 136.1 469.8C137.1 468.4 137.3 465.8 138.4 464.1C139.5 462.4 141.2 460.8 143.0 459.5C144.7 458.3 146.7 457.6 148.6 456.7C150.5 455.9 152.4 454.9 154.3 454.4C156.2 454.0 158.3 453.4 160.0 453.9C161.7 454.3 162.8 456.5 164.5 457.3C166.2 458.0 168.5 457.7 170.2 458.4C171.9 459.2 173.5 460.5 174.8 461.8C176.0 463.1 176.9 464.7 177.6 466.4C178.4 468.1 178.7 470.2 179.3 472.0C180.0 473.9 181.1 475.8 181.6 477.7C182.1 479.6 182.3 481.5 182.2 483.4C182.1 485.3 181.5 487.2 181.0 489.1C180.5 491.0 179.7 492.9 179.3 494.8C178.9 496.7 178.8 498.8 178.8 500.5C178.8 502.2 180.0 504.1 179.3 505.0C178.7 505.9 176.3 505.9 174.8 505.6C173.3 505.2 171.6 503.4 170.2 502.7C168.8 502.1 167.4 502.3 166.2 501.6C165.1 500.9 164.3 499.5 163.4 498.8C162.6 498.0 161.9 497.3 161.1 496.8C160.4 496.4 159.6 496.1 158.9 496.1C158.1 496.2 157.3 496.5 156.6 497.0C155.9 497.6 155.3 498.4 154.5 499.5C153.8 500.7 153.2 502.8 152.0 503.9C150.9 505.0 149.2 505.9 147.5 506.1C145.8 506.3 143.4 505.9 141.8 505.0C140.2 504.1 138.6 502.5 137.8 501.0C137.1 499.5 136.6 497.3 137.3 495.9C137.9 494.5 140.9 493.5 141.8 492.5C142.8 491.5 143.5 490.2 143.0 489.7C142.4 489.1 139.7 489.1 138.4 489.1C137.1 489.1 135.9 490.4 135.0 489.7C134.1 488.9 133.9 486.2 133.3 484.5C132.7 482.9 132.1 481.5 131.6 480.0C131.1 478.5 130.3 476.8 130.5 475.5Z" fill="#aec29e" stroke="#6b9a55" stroke-width="1.4" stroke-linejoin="round"/>
<path d="M154.5 501.5L158.9 496.5L163.3 501.5L160.5 504.5L157.3 504.5Z" fill="#ece6d6"/>
<path d="M159.2 522.5L158.9 505.5" fill="none" stroke="#967a5c" stroke-width="4.7" stroke-linecap="butt"/>
<path d="M158.9 505.8L155.2 501.0M158.9 505.8L158.9 498.0M158.9 505.8L162.8 501.0" fill="none" stroke="#967a5c" stroke-width="2.6" stroke-linecap="round"/>
<path d="M159.2 522.5L158.9 505.5" fill="none" stroke="#cdb9a3" stroke-width="3.4" stroke-linecap="butt"/>
<path d="M158.9 505.8L155.2 501.0M158.9 505.8L158.9 498.0M158.9 505.8L162.8 501.0" fill="none" stroke="#cdb9a3" stroke-width="1.4" stroke-linecap="round"/>
<path d="M776.4 349.3C776.7 348.6 779.0 348.6 780.5 348.0C781.9 347.3 783.2 346.0 785.2 345.6C787.3 345.3 790.5 345.3 792.7 345.6C794.9 346.0 797.8 346.9 798.5 347.6C799.2 348.2 797.8 348.9 796.8 349.3C795.9 349.7 793.5 349.6 792.7 350.0C791.9 350.5 791.2 351.5 792.1 352.1C793.0 352.6 797.2 352.7 798.2 353.4C799.2 354.1 798.7 355.5 798.2 356.1C797.7 356.8 796.6 357.6 795.5 357.5C794.3 357.4 792.4 355.7 791.4 355.5C790.4 355.2 790.0 355.0 789.3 356.1C788.6 357.3 787.7 359.9 787.3 362.3C786.8 364.7 787.1 368.7 786.6 370.5C786.1 372.3 785.2 373.1 784.6 373.2C783.9 373.3 783.2 372.5 782.5 371.2C781.8 369.8 780.9 367.2 780.5 365.0C780.0 362.9 779.8 360.0 779.8 358.2C779.8 356.4 780.7 355.1 780.5 354.1C780.2 353.1 779.1 352.8 778.4 352.1C777.7 351.3 776.0 350.0 776.4 349.3Z" fill="#d6d6d6" stroke="#3a4246" stroke-width="1.5" stroke-linejoin="round"/>
<path d="M816.6 397.8C817.2 396.5 818.9 396.2 820.0 395.7C821.2 395.3 822.3 395.9 823.4 395.0C824.6 394.1 825.4 391.4 826.8 390.3C828.3 389.1 830.2 388.5 832.3 388.2C834.4 387.9 838.5 387.8 839.4 388.2C840.3 388.7 838.7 390.0 837.8 390.9C836.8 391.8 834.9 392.4 833.7 393.7C832.4 394.9 830.7 397.1 830.3 398.4C829.8 399.8 830.0 401.1 830.9 401.8C831.9 402.6 835.0 402.5 835.7 403.2C836.4 403.9 835.8 405.5 835.0 405.9C834.2 406.4 832.3 406.3 830.9 405.9C829.6 405.6 828.0 404.1 826.8 403.9C825.7 403.7 824.8 403.7 824.1 404.6C823.4 405.5 823.2 408.2 822.8 409.4C822.3 410.5 822.1 411.7 821.4 411.7C820.7 411.7 819.5 410.8 818.7 409.4C817.9 407.9 817.0 405.1 816.6 403.2C816.3 401.3 816.0 399.0 816.6 397.8Z" fill="#d6d6d6" stroke="#3a4246" stroke-width="1.5" stroke-linejoin="round"/>
<path d="M876.2 406.6C876.5 406.1 879.0 407.0 880.1 406.6C881.1 406.3 881.6 404.9 882.8 404.6C883.9 404.2 885.5 404.1 886.9 404.6C888.2 405.0 889.9 406.3 891.0 407.3C892.0 408.3 891.9 409.9 893.0 410.7C894.2 411.5 897.1 411.4 897.8 412.1C898.5 412.8 898.0 414.4 897.1 414.8C896.2 415.3 893.8 414.9 892.3 414.8C890.9 414.7 889.4 413.8 888.2 414.1C887.1 414.5 886.1 415.5 885.5 416.9C884.9 418.2 884.9 420.5 884.8 422.3C884.7 424.1 885.2 426.5 884.8 427.8C884.5 429.0 883.6 430.0 882.8 429.8C882.0 429.6 880.9 428.1 880.1 426.4C879.3 424.7 878.4 421.9 878.0 419.6C877.6 417.3 877.5 414.4 877.6 412.8C877.7 411.2 878.9 411.1 878.7 410.0C878.5 409.0 876.0 407.2 876.2 406.6Z" fill="#d6d6d6" stroke="#3a4246" stroke-width="1.5" stroke-linejoin="round"/>
<path d="M878.7 441.4C878.7 440.3 881.5 437.5 882.8 436.6C884.0 435.7 885.1 437.2 886.2 436.0C887.3 434.7 888.4 431.4 889.6 429.1C890.9 426.9 892.3 424.0 893.7 422.3C895.1 420.6 896.9 419.1 897.8 418.9C898.7 418.7 899.0 419.5 899.2 420.9C899.3 422.4 898.9 425.5 898.5 427.8C898.0 430.0 897.1 432.8 896.4 434.6C895.7 436.4 893.7 437.5 894.4 438.7C895.1 439.8 899.6 440.5 900.5 441.4C901.4 442.3 900.5 443.6 899.8 444.1C899.2 444.7 897.7 445.1 896.4 444.8C895.2 444.6 893.7 443.1 892.3 442.8C891.0 442.4 889.8 442.7 888.2 442.8C886.6 442.9 884.4 443.7 882.8 443.5C881.2 443.2 878.7 442.5 878.7 441.4Z" fill="#d6d6d6" stroke="#3a4246" stroke-width="1.5" stroke-linejoin="round"/>
<path d="M1396.7 533.4C1396.7 532.3 1398.9 529.5 1400.1 528.3C1401.3 527.1 1402.8 526.3 1403.9 526.2C1405.0 526.1 1405.7 527.0 1406.9 527.9C1408.1 528.8 1409.0 531.0 1411.2 531.7C1413.3 532.5 1417.0 532.5 1419.7 532.6C1422.4 532.7 1425.2 531.7 1427.3 532.2C1429.5 532.7 1431.1 534.0 1432.5 535.6C1433.8 537.1 1435.0 539.7 1435.4 541.5C1435.9 543.4 1435.3 544.8 1435.0 546.7C1434.7 548.5 1433.9 550.5 1433.7 552.6C1433.6 554.8 1434.5 558.3 1434.2 559.4C1433.9 560.6 1432.5 560.3 1432.0 559.4C1431.5 558.6 1432.0 556.0 1431.2 554.3C1430.4 552.7 1429.0 550.1 1427.3 549.6C1425.7 549.2 1423.5 551.4 1421.4 551.8C1419.2 552.1 1416.0 551.2 1414.6 551.8C1413.1 552.3 1413.4 553.9 1412.9 555.2C1412.4 556.5 1412.0 558.8 1411.6 559.4C1411.2 560.1 1410.7 559.9 1410.3 559.0C1409.9 558.2 1410.0 555.7 1409.4 554.3C1408.9 553.0 1407.8 552.2 1406.9 550.9C1406.0 549.6 1404.5 548.4 1403.9 546.7C1403.3 545.0 1403.1 542.5 1403.1 540.7C1403.0 538.8 1404.0 536.5 1403.5 535.6C1403.0 534.7 1401.2 535.5 1400.1 535.1C1398.9 534.8 1396.7 534.6 1396.7 533.4Z" fill="#fdfdfd" stroke="#2f3538" stroke-width="1.6" stroke-linejoin="round"/>
<path d="M1377.5 552.6C1377.5 551.6 1377.7 550.1 1378.3 549.2C1379.0 548.3 1380.0 547.4 1381.3 547.1C1382.7 546.7 1384.9 547.3 1386.4 547.1C1388.0 546.9 1389.6 546.3 1390.7 545.8C1391.8 545.3 1392.5 544.2 1393.2 544.1C1394.0 544.0 1394.8 544.8 1395.4 545.4C1395.9 545.9 1396.9 546.8 1396.7 547.5C1396.4 548.2 1394.6 548.8 1394.1 549.6C1393.6 550.5 1394.0 551.6 1393.7 552.6C1393.4 553.7 1393.0 554.9 1392.4 556.0C1391.8 557.2 1390.5 559.2 1389.8 559.4C1389.2 559.7 1389.0 558.2 1388.6 557.7C1388.1 557.2 1388.2 556.7 1387.3 556.5C1386.4 556.2 1384.2 555.9 1383.0 556.0C1381.9 556.2 1381.2 556.7 1380.5 557.3C1379.7 557.9 1379.2 559.4 1378.8 559.4C1378.3 559.5 1378.0 558.5 1377.9 557.7C1377.8 557.0 1378.4 556.0 1378.3 555.2C1378.3 554.3 1377.5 553.6 1377.5 552.6Z" fill="#fdfdfd" stroke="#2f3538" stroke-width="1.4" stroke-linejoin="round"/>
<path d="M1391.5 545.5L1393.5 544L1396 546L1397 547.8L1395 548.5Z" fill="#2f3538" stroke="#2f3538" stroke-width="1"/>
<circle cx="1403.4" cy="529.6" r="0.9" fill="#2f3538"/>
<path d="M1433.5 538Q1436.3 544 1434.8 551" stroke="#1f2326" stroke-width="2" fill="none"/>
<path d="M304.6 553.5L306.7 560.5M330.8 553.7L329.3 560.5" fill="none" stroke="#5f514b" stroke-width="1.6"/>
<path d="M306.7 560.0L310.4 571.4L326.6 571.4L329.3 560.0" fill="none" stroke="#3d4145" stroke-width="2.6" stroke-linejoin="miter"/>
<path d="M1296.2 561.0L1298.6 568.0M1324.4 562.6L1323.2 568.0" fill="none" stroke="#5f514b" stroke-width="1.6"/>
<path d="M1298.6 567.5L1303.2 580.2L1320.0 580.2L1323.2 567.5" fill="none" stroke="#3d4145" stroke-width="2.6" stroke-linejoin="miter"/>
<path d="M1460.6 561.6Q1473.7 557.6 1486.8 561.6L1484.6 568.6L1462.8 568.6Z" fill="#bfa8a0" stroke="#5b4f4b" stroke-width="1.3" stroke-linejoin="round"/>
<path d="M1462.6 568.0L1466.2 580.4L1481.4 580.4L1484.8 568.0" fill="none" stroke="#3d4145" stroke-width="2.5" stroke-linejoin="miter"/>
<rect x="1336.4" y="529.3" width="7.5" height="33.4" fill="#c6c6c4"/>
<rect x="1338.2" y="529.3" width="3.4" height="33.4" fill="#cfcfcd"/>
<path d="M778 607.6L778 553.4M769.2 568.4L778 552.8L786.8 568.4" fill="none" stroke="#000" stroke-width="2"/>
<g font-family="'Liberation Sans', sans-serif" font-size="34.5" fill="#000" stroke="#000" stroke-width="0.3" opacity="0.99">
<text x="995" y="95.0" textLength="421.0" lengthAdjust="spacingAndGlyphs">Installing dams to slow the</text>
<text x="995" y="141.6" textLength="425.0" lengthAdjust="spacingAndGlyphs">flow of water in these peat</text>
<text x="995" y="188.2" textLength="463.5" lengthAdjust="spacingAndGlyphs">soils helps in the fight against</text>
<text x="995" y="234.8" textLength="444.0" lengthAdjust="spacingAndGlyphs">climate change. Keeping the</text>
<text x="995" y="281.4" textLength="468.5" lengthAdjust="spacingAndGlyphs">peat wet reduces greenhouse</text>
<text x="995" y="328.0" textLength="457.0" lengthAdjust="spacingAndGlyphs">gas emissions. There are also</text>
<text x="995" y="374.6" textLength="423.5" lengthAdjust="spacingAndGlyphs">co-benefits for biodiversity</text>
<text x="995" y="421.2" textLength="289.0" lengthAdjust="spacingAndGlyphs">and water quality!</text>
<text x="630.5" y="650.3" textLength="295" lengthAdjust="spacingAndGlyphs">Higher bog surface</text>
<text x="657" y="696.2" textLength="240" lengthAdjust="spacingAndGlyphs">and water level</text>
</g>
<text transform="translate(-0.5 872) scale(0.82 1)" x="0" y="0" font-family="'DejaVu Sans', 'Liberation Sans', sans-serif" font-weight="200" font-size="25.5" fill="#5a524b" stroke="#5a524b" stroke-width="0.25" opacity="0.99" textLength="241" lengthAdjust="spacing">The FarmPEAT Project</text>
<rect x="0" y="0" width="1559" height="2" fill="#e5e6e9"/>
<rect x="0" y="2" width="1559" height="1" fill="#c5c8cb"/>
<rect x="1557" y="3" width="1" height="877" fill="#fff" opacity="0.25"/>
<rect x="1558" y="0" width="1" height="880" fill="#d2d5d7" opacity="0.85"/>
</svg>
</body></html>
